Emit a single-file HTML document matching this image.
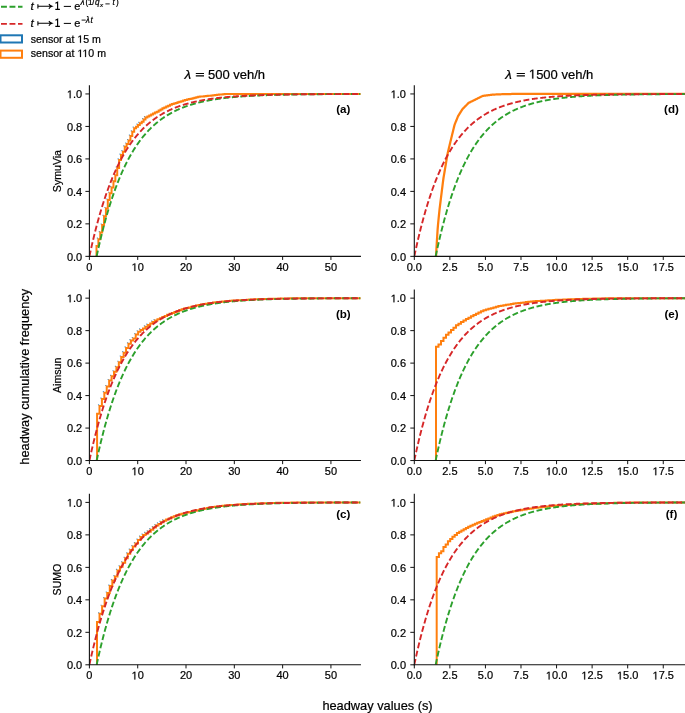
<!DOCTYPE html>
<html><head><meta charset="utf-8"><style>
html,body{margin:0;padding:0;background:#fff;width:685px;height:713px;overflow:hidden}
svg{will-change:transform}
.o{fill-opacity:0;stroke-opacity:0}
svg text{font-family:"Liberation Sans",sans-serif;fill:#000;stroke:#000;stroke-width:0.22px}
</style></head><body>
<svg width="685" height="713" viewBox="0 0 685 713" style="position:absolute;left:0;top:0">
<defs>
<clipPath id="c00"><rect x="89.4" y="83.83000000000001" width="271.2" height="172.52"/></clipPath>
<clipPath id="c01"><rect x="414.3" y="83.83000000000001" width="271.2" height="172.52"/></clipPath>
<clipPath id="c10"><rect x="89.4" y="288.03" width="271.2" height="172.52"/></clipPath>
<clipPath id="c11"><rect x="414.3" y="288.03" width="271.2" height="172.52"/></clipPath>
<clipPath id="c20"><rect x="89.4" y="492.28" width="271.2" height="172.52"/></clipPath>
<clipPath id="c21"><rect x="414.3" y="492.28" width="271.2" height="172.52"/></clipPath>
</defs>
<g clip-path="url(#c00)"><path d="M96.84 237.59h1.2v1.2h-1.2zM98.72 230.99h1.2v1.2h-1.2zM100.60 223.40h1.2v1.2h-1.2zM102.49 214.81h1.2v1.2h-1.2zM104.37 206.90h1.2v1.2h-1.2zM106.25 198.41h1.2v1.2h-1.2zM108.14 191.66h1.2v1.2h-1.2zM110.02 185.97h1.2v1.2h-1.2zM111.91 179.61h1.2v1.2h-1.2zM113.79 173.60h1.2v1.2h-1.2zM115.67 166.39h1.2v1.2h-1.2zM117.56 158.37h1.2v1.2h-1.2zM119.44 153.56h1.2v1.2h-1.2zM121.33 150.09h1.2v1.2h-1.2zM123.21 145.19h1.2v1.2h-1.2zM125.09 142.38h1.2v1.2h-1.2zM126.98 138.92h1.2v1.2h-1.2zM128.86 134.45h1.2v1.2h-1.2zM130.75 130.27h1.2v1.2h-1.2zM132.63 126.62h1.2v1.2h-1.2zM136.40 123.46h1.2v1.2h-1.2zM138.28 121.80h1.2v1.2h-1.2zM142.05 117.99h1.2v1.2h-1.2zM143.93 116.02h1.2v1.2h-1.2z" fill="#1f77b4" fill-opacity="0.75"/><polyline points="96.50,256.35 96.50,245.96 98.39,245.96 98.39,239.14 100.27,239.14 100.27,232.54 102.15,232.54 102.15,224.95 104.04,224.95 104.04,216.36 105.92,216.36 105.92,208.45 107.80,208.45 107.80,199.96 109.69,199.96 109.69,193.21 111.57,193.21 111.57,187.52 113.46,187.52 113.46,181.16 115.34,181.16 115.34,175.15 117.22,175.15 117.22,167.94 119.11,167.94 119.11,159.92 120.99,159.92 120.99,155.11 122.88,155.11 122.88,151.64 124.76,151.64 124.76,146.74 126.64,146.74 126.64,143.93 128.53,143.93 128.53,140.47 130.41,140.47 130.41,136.00 132.30,136.00 132.30,131.82 134.18,131.82 134.18,128.17 136.06,128.17 136.06,126.82 137.95,126.82 137.95,125.01 139.83,125.01 139.83,123.35 141.72,123.35 141.72,121.87 143.60,121.87 143.60,119.54 145.48,119.54 145.48,117.57 147.37,117.57 147.37,116.41 149.25,116.41 149.25,115.40 151.14,115.40 151.14,114.42 153.02,114.42 153.02,113.48 154.90,113.48 154.90,112.58 156.79,112.58 156.79,111.65 158.67,111.65 158.67,110.55 160.56,110.55 160.56,109.46 162.44,109.46 162.44,108.37 164.32,108.37 164.32,107.38 166.21,107.38 166.21,106.53 168.09,106.53 168.09,105.68 169.98,105.68 169.98,104.83 171.86,104.83 171.86,104.05 173.74,104.05 173.74,103.47 175.63,103.47 175.63,102.89 177.51,102.89 177.51,102.31 179.40,102.31 179.40,101.74 181.28,101.74 181.28,101.16 183.16,101.16 183.16,100.58 185.05,100.58 185.05,100.08 186.93,100.08 186.93,99.60 188.81,99.60 188.81,99.12 190.70,99.12 190.70,98.63 192.58,98.63 192.58,98.15 194.47,98.15 194.47,97.67 196.35,97.67 196.35,97.19 198.23,97.19 198.23,96.81 200.12,96.81 200.12,96.62 202.00,96.62 202.00,96.42 203.89,96.42 203.89,96.23 205.77,96.23 205.77,96.03 207.65,96.03 207.65,95.84 209.54,95.84 209.54,95.65 211.42,95.65 211.42,95.45 213.31,95.45 213.31,95.26 215.19,95.26 215.19,95.06 217.07,95.06 217.07,94.84 218.96,94.84 218.96,94.62 220.84,94.62 220.84,94.40 222.73,94.40 222.73,94.18 224.61,94.18 224.61,93.96 226.49,93.96 226.49,93.95 228.38,93.95 228.38,93.95 230.26,93.95 230.26,93.95 232.15,93.95 232.15,93.95 234.03,93.95 234.03,93.95 235.91,93.95 235.91,93.95 237.80,93.95 237.80,93.95 239.68,93.95 239.68,93.95 241.57,93.95 241.57,93.95 243.45,93.95 243.45,93.95 245.33,93.95 245.33,93.95 247.22,93.95 247.22,93.95 249.10,93.95 249.10,93.95 250.99,93.95 250.99,93.95 252.87,93.95 252.87,93.95 254.75,93.95 254.75,93.95 256.64,93.95 256.64,93.95 258.52,93.95 258.52,93.95 260.41,93.95 260.41,93.95 262.29,93.95 262.29,93.95 264.17,93.95 264.17,93.95 266.06,93.95 266.06,93.95 267.94,93.95 267.94,93.95 269.83,93.95 269.83,93.95 271.71,93.95 271.71,93.95 273.59,93.95 273.59,93.95 275.48,93.95 275.48,93.95 277.36,93.95 277.36,93.95 279.24,93.95 279.24,93.95 281.13,93.95 281.13,93.95 283.01,93.95 283.01,93.95 284.90,93.95 284.90,93.95 286.78,93.95 286.78,93.95 288.66,93.95 288.66,93.95 290.55,93.95 290.55,93.95 292.43,93.95 292.43,93.95 294.32,93.95 294.32,93.95 296.20,93.95 296.20,93.95 298.08,93.95 298.08,93.95 299.97,93.95 299.97,93.95 301.85,93.95 301.85,93.95 303.74,93.95 303.74,93.95 305.62,93.95 305.62,93.95 307.50,93.95 307.50,93.95 309.39,93.95 309.39,93.95 311.27,93.95 311.27,93.95 313.16,93.95 313.16,93.95 315.04,93.95 315.04,93.95 316.92,93.95 316.92,93.95 318.81,93.95 318.81,93.95 320.69,93.95 320.69,93.95 322.58,93.95 322.58,93.95 324.46,93.95 324.46,93.95 326.34,93.95 326.34,93.95 328.23,93.95 328.23,93.95 330.11,93.95 330.11,93.95 332.00,93.95 332.00,93.95 333.88,93.95 333.88,93.95 335.76,93.95 335.76,93.95 337.65,93.95 337.65,93.95 339.53,93.95 339.53,93.95 341.42,93.95 341.42,93.95 343.30,93.95 343.30,93.95 345.18,93.95 345.18,93.95 347.07,93.95 347.07,93.95 348.95,93.95 348.95,93.95 350.84,93.95 350.84,93.95 352.72,93.95 352.72,93.95 354.60,93.95 354.60,93.95 356.49,93.95 356.49,93.95 358.37,93.95 358.37,93.95 360.26,93.95 360.26,93.95 362.14,93.95" fill="none" stroke="#ff7f0e" stroke-width="2.0" stroke-linejoin="miter"/><polyline points="96.65,256.35 97.09,254.31 97.53,252.29 97.97,250.30 98.41,248.33 98.85,246.39 99.29,244.47 99.73,242.58 100.17,240.71 100.61,238.86 101.05,237.04 101.49,235.24 101.93,233.46 102.37,231.71 102.81,229.97 103.25,228.26 103.69,226.57 104.13,224.90 104.57,223.26 105.01,221.63 105.45,220.02 105.89,218.44 106.33,216.87 106.77,215.32 107.21,213.80 107.65,212.29 108.09,210.80 108.53,209.33 108.98,207.88 109.42,206.45 109.86,205.03 110.30,203.63 110.74,202.25 111.18,200.89 111.62,199.55 112.06,198.22 112.50,196.91 112.94,195.61 113.38,194.33 113.82,193.07 114.26,191.82 114.70,190.59 115.14,189.38 115.58,188.17 116.02,186.99 116.46,185.82 116.90,184.66 117.34,183.52 117.78,182.40 118.22,181.28 118.66,180.18 119.10,179.10 119.54,178.03 119.98,176.97 120.42,175.93 120.86,174.89 121.30,173.88 121.74,172.87 122.18,171.88 122.63,170.90 123.07,169.93 123.51,168.97 123.95,168.03 124.39,167.10 124.83,166.18 125.27,165.27 125.71,164.37 126.15,163.49 126.59,162.61 127.03,161.75 127.47,160.89 127.91,160.05 128.35,159.22 128.79,158.40 129.23,157.59 129.67,156.79 130.11,156.00 130.55,155.22 130.99,154.45 131.43,153.69 131.87,152.93 132.31,152.19 132.75,151.46 133.19,150.74 133.63,150.02 134.07,149.32 134.51,148.62 134.95,147.93 135.39,147.25 135.83,146.58 136.28,145.92 136.72,145.27 137.16,144.62 137.60,143.98 138.04,143.35 138.48,142.73 138.92,142.12 139.36,141.51 139.80,140.91 140.24,140.32 140.68,139.74 141.12,139.16 141.56,138.60 142.00,138.03 142.44,137.48 142.88,136.93 143.32,136.39 143.76,135.86 144.20,135.33 144.64,134.81 145.08,134.29 145.52,133.79 145.96,133.29 146.40,132.79 146.84,132.30 147.28,131.82 147.72,131.34 148.16,130.87 148.60,130.41 149.04,129.95 149.48,129.50 149.93,129.05 150.37,128.61 150.81,128.17 151.25,127.74 151.69,127.32 152.13,126.90 152.57,126.48 153.01,126.07 153.45,125.67 153.89,125.27 154.33,124.88 154.77,124.49 155.21,124.10 155.65,123.72 156.09,123.35 156.53,122.98 156.97,122.61 157.41,122.25 157.85,121.90 158.29,121.55 158.73,121.20 159.17,120.86 159.61,120.52 160.05,120.18 160.49,119.85 160.93,119.53 161.37,119.21 161.81,118.89 162.25,118.57 162.69,118.26 163.13,117.96 163.58,117.66 164.02,117.36 164.46,117.06 164.90,116.77 165.34,116.49 165.78,116.20 166.22,115.92 166.66,115.65 167.10,115.37 167.54,115.10 167.98,114.84 168.42,114.57 168.86,114.32 169.30,114.06 169.74,113.81 170.18,113.56 170.62,113.31 171.06,113.07 171.50,112.83 171.94,112.59 172.38,112.35 172.82,112.12 173.26,111.89 173.70,111.67 174.14,111.44 174.58,111.22 175.02,111.01 175.46,110.79 175.90,110.58 176.34,110.37 176.78,110.17 177.23,109.96 177.67,109.76 178.11,109.56 178.55,109.36 178.99,109.17 179.43,108.98 179.87,108.79 180.31,108.60 180.75,108.42 181.19,108.24 181.63,108.06 182.07,107.88 182.51,107.70 182.95,107.53 183.39,107.36 183.83,107.19 184.27,107.03 184.71,106.86 185.15,106.70 185.59,106.54 186.03,106.38 186.47,106.22 186.91,106.07 187.35,105.92 187.79,105.77 188.23,105.62 188.67,105.47 189.11,105.33 189.55,105.18 189.99,105.04 190.43,104.90 190.88,104.76 191.32,104.63 191.76,104.49 192.20,104.36 192.64,104.23 193.08,104.10 193.52,103.97 193.96,103.85 194.40,103.72 194.84,103.60 195.28,103.48 195.72,103.36 196.16,103.24 196.60,103.12 197.04,103.01 197.48,102.89 197.92,102.78 198.36,102.67 198.80,102.56 199.24,102.45 199.68,102.34 200.12,102.24 200.56,102.14 201.00,102.03 201.44,101.93 201.88,101.83 202.32,101.73 202.76,101.63 203.20,101.54 203.64,101.44 204.09,101.35 204.53,101.25 204.97,101.16 205.41,101.07 205.85,100.98 206.29,100.89 206.73,100.81 207.17,100.72 207.61,100.63 208.05,100.55 208.49,100.47 208.93,100.39 209.37,100.30 209.81,100.22 210.25,100.15 210.69,100.07 211.13,99.99 211.57,99.91 212.01,99.84 212.45,99.77 212.89,99.69 213.33,99.62 213.77,99.55 214.21,99.48 214.65,99.41 215.09,99.34 215.53,99.27 215.97,99.21 216.41,99.14 216.85,99.07 217.29,99.01 217.74,98.95 218.18,98.88 218.62,98.82 219.06,98.76 219.50,98.70 219.94,98.64 220.38,98.58 220.82,98.52 221.26,98.46 221.70,98.41 222.14,98.35 222.58,98.30 223.02,98.24 223.46,98.19 223.90,98.13 224.34,98.08 224.78,98.03 225.22,97.98 225.66,97.93 226.10,97.88 226.54,97.83 226.98,97.78 227.42,97.73 227.86,97.68 228.30,97.64 228.74,97.59 229.18,97.54 229.62,97.50 230.06,97.45 230.50,97.41 230.94,97.37 231.39,97.32 231.83,97.28 232.27,97.24 232.71,97.20 233.15,97.16 233.59,97.12 234.03,97.08 234.47,97.04 234.91,97.00 235.35,96.96 235.79,96.92 236.23,96.89 236.67,96.85 237.11,96.81 237.55,96.78 237.99,96.74 238.43,96.71 238.87,96.67 239.31,96.64 239.75,96.60 240.19,96.57 240.63,96.54 241.07,96.50 241.51,96.47 241.95,96.44 242.39,96.41 242.83,96.38 243.27,96.35 243.71,96.32 244.15,96.29 244.59,96.26 245.04,96.23 245.48,96.20 245.92,96.17 246.36,96.14 246.80,96.12 247.24,96.09 247.68,96.06 248.12,96.04 248.56,96.01 249.00,95.98 249.44,95.96 249.88,95.93 250.32,95.91 250.76,95.88 251.20,95.86 251.64,95.83 252.08,95.81 252.52,95.79 252.96,95.76 253.40,95.74 253.84,95.72 254.28,95.70 254.72,95.67 255.16,95.65 255.60,95.63 256.04,95.61 256.48,95.59 256.92,95.57 257.36,95.55 257.80,95.53 258.24,95.51 258.69,95.49 259.13,95.47 259.57,95.45 260.01,95.43 260.45,95.41 260.89,95.39 261.33,95.38 261.77,95.36 262.21,95.34 262.65,95.32 263.09,95.31 263.53,95.29 263.97,95.27 264.41,95.26 264.85,95.24 265.29,95.22 265.73,95.21 266.17,95.19 266.61,95.18 267.05,95.16 267.49,95.14 267.93,95.13 268.37,95.11 268.81,95.10 269.25,95.09 269.69,95.07 270.13,95.06 270.57,95.04 271.01,95.03 271.45,95.02 271.89,95.00 272.34,94.99 272.78,94.98 273.22,94.96 273.66,94.95 274.10,94.94 274.54,94.93 274.98,94.91 275.42,94.90 275.86,94.89 276.30,94.88 276.74,94.87 277.18,94.85 277.62,94.84 278.06,94.83 278.50,94.82 278.94,94.81 279.38,94.80 279.82,94.79 280.26,94.78 280.70,94.77 281.14,94.76 281.58,94.75 282.02,94.74 282.46,94.73 282.90,94.72 283.34,94.71 283.78,94.70 284.22,94.69 284.66,94.68 285.10,94.67 285.54,94.66 285.99,94.65 286.43,94.64 286.87,94.63 287.31,94.63 287.75,94.62 288.19,94.61 288.63,94.60 289.07,94.59 289.51,94.58 289.95,94.58 290.39,94.57 290.83,94.56 291.27,94.55 291.71,94.55 292.15,94.54 292.59,94.53 293.03,94.52 293.47,94.52 293.91,94.51 294.35,94.50 294.79,94.50 295.23,94.49 295.67,94.48 296.11,94.47 296.55,94.47 296.99,94.46 297.43,94.46 297.87,94.45 298.31,94.44 298.75,94.44 299.19,94.43 299.64,94.42 300.08,94.42 300.52,94.41 300.96,94.41 301.40,94.40 301.84,94.40 302.28,94.39 302.72,94.38 303.16,94.38 303.60,94.37 304.04,94.37 304.48,94.36 304.92,94.36 305.36,94.35 305.80,94.35 306.24,94.34 306.68,94.34 307.12,94.33 307.56,94.33 308.00,94.32 308.44,94.32 308.88,94.31 309.32,94.31 309.76,94.30 310.20,94.30 310.64,94.30 311.08,94.29 311.52,94.29 311.96,94.28 312.40,94.28 312.85,94.27 313.29,94.27 313.73,94.27 314.17,94.26 314.61,94.26 315.05,94.25 315.49,94.25 315.93,94.25 316.37,94.24 316.81,94.24 317.25,94.24 317.69,94.23 318.13,94.23 318.57,94.23 319.01,94.22 319.45,94.22 319.89,94.21 320.33,94.21 320.77,94.21 321.21,94.20 321.65,94.20 322.09,94.20 322.53,94.20 322.97,94.19 323.41,94.19 323.85,94.19 324.29,94.18 324.73,94.18 325.17,94.18 325.61,94.17 326.05,94.17 326.50,94.17 326.94,94.17 327.38,94.16 327.82,94.16 328.26,94.16 328.70,94.16 329.14,94.15 329.58,94.15 330.02,94.15 330.46,94.15 330.90,94.14 331.34,94.14 331.78,94.14 332.22,94.14 332.66,94.13 333.10,94.13 333.54,94.13 333.98,94.13 334.42,94.12 334.86,94.12 335.30,94.12 335.74,94.12 336.18,94.12 336.62,94.11 337.06,94.11 337.50,94.11 337.94,94.11 338.38,94.11 338.82,94.10 339.26,94.10 339.70,94.10 340.15,94.10 340.59,94.10 341.03,94.09 341.47,94.09 341.91,94.09 342.35,94.09 342.79,94.09 343.23,94.09 343.67,94.08 344.11,94.08 344.55,94.08 344.99,94.08 345.43,94.08 345.87,94.08 346.31,94.07 346.75,94.07 347.19,94.07 347.63,94.07 348.07,94.07 348.51,94.07 348.95,94.06 349.39,94.06 349.83,94.06 350.27,94.06 350.71,94.06 351.15,94.06 351.59,94.06 352.03,94.06 352.47,94.05 352.91,94.05 353.35,94.05 353.80,94.05 354.24,94.05 354.68,94.05 355.12,94.05 355.56,94.04 356.00,94.04 356.44,94.04 356.88,94.04 357.32,94.04 357.76,94.04 358.20,94.04 358.64,94.04 359.08,94.04 359.52,94.03 359.96,94.03 360.40,94.03" fill="none" stroke="#2ca02c" stroke-width="1.9" stroke-dasharray="5.9,2.6"/><polyline points="89.40,256.35 89.85,254.25 90.30,252.18 90.76,250.13 91.21,248.12 91.66,246.12 92.11,244.16 92.57,242.22 93.02,240.30 93.47,238.41 93.92,236.54 94.38,234.70 94.83,232.88 95.28,231.08 95.73,229.31 96.19,227.56 96.64,225.84 97.09,224.13 97.54,222.45 98.00,220.79 98.45,219.15 98.90,217.53 99.35,215.93 99.81,214.36 100.26,212.80 100.71,211.27 101.16,209.75 101.62,208.25 102.07,206.78 102.52,205.32 102.97,203.88 103.43,202.46 103.88,201.06 104.33,199.67 104.78,198.30 105.23,196.96 105.69,195.63 106.14,194.31 106.59,193.01 107.04,191.73 107.50,190.47 107.95,189.22 108.40,187.99 108.85,186.78 109.31,185.58 109.76,184.39 110.21,183.22 110.66,182.07 111.12,180.93 111.57,179.81 112.02,178.70 112.47,177.60 112.93,176.52 113.38,175.45 113.83,174.40 114.28,173.36 114.74,172.33 115.19,171.32 115.64,170.32 116.09,169.33 116.55,168.36 117.00,167.40 117.45,166.45 117.90,165.51 118.35,164.59 118.81,163.67 119.26,162.77 119.71,161.88 120.16,161.01 120.62,160.14 121.07,159.28 121.52,158.44 121.97,157.61 122.43,156.78 122.88,155.97 123.33,155.17 123.78,154.38 124.24,153.60 124.69,152.83 125.14,152.07 125.59,151.32 126.05,150.57 126.50,149.84 126.95,149.12 127.40,148.41 127.86,147.70 128.31,147.01 128.76,146.32 129.21,145.65 129.67,144.98 130.12,144.32 130.57,143.67 131.02,143.02 131.48,142.39 131.93,141.76 132.38,141.15 132.83,140.54 133.28,139.93 133.74,139.34 134.19,138.75 134.64,138.17 135.09,137.60 135.55,137.04 136.00,136.48 136.45,135.93 136.90,135.39 137.36,134.85 137.81,134.33 138.26,133.80 138.71,133.29 139.17,132.78 139.62,132.28 140.07,131.78 140.52,131.29 140.98,130.81 141.43,130.34 141.88,129.87 142.33,129.40 142.79,128.94 143.24,128.49 143.69,128.04 144.14,127.60 144.60,127.17 145.05,126.74 145.50,126.32 145.95,125.90 146.41,125.48 146.86,125.08 147.31,124.67 147.76,124.28 148.21,123.89 148.67,123.50 149.12,123.12 149.57,122.74 150.02,122.37 150.48,122.00 150.93,121.64 151.38,121.28 151.83,120.93 152.29,120.58 152.74,120.23 153.19,119.89 153.64,119.56 154.10,119.23 154.55,118.90 155.00,118.58 155.45,118.26 155.91,117.95 156.36,117.64 156.81,117.33 157.26,117.03 157.72,116.73 158.17,116.44 158.62,116.15 159.07,115.86 159.53,115.58 159.98,115.30 160.43,115.02 160.88,114.75 161.33,114.48 161.79,114.21 162.24,113.95 162.69,113.69 163.14,113.44 163.60,113.19 164.05,112.94 164.50,112.69 164.95,112.45 165.41,112.21 165.86,111.97 166.31,111.74 166.76,111.51 167.22,111.28 167.67,111.06 168.12,110.84 168.57,110.62 169.03,110.41 169.48,110.19 169.93,109.98 170.38,109.78 170.84,109.57 171.29,109.37 171.74,109.17 172.19,108.97 172.65,108.78 173.10,108.59 173.55,108.40 174.00,108.21 174.46,108.03 174.91,107.85 175.36,107.67 175.81,107.49 176.26,107.31 176.72,107.14 177.17,106.97 177.62,106.80 178.07,106.64 178.53,106.47 178.98,106.31 179.43,106.15 179.88,105.99 180.34,105.84 180.79,105.68 181.24,105.53 181.69,105.38 182.15,105.23 182.60,105.09 183.05,104.95 183.50,104.80 183.96,104.66 184.41,104.52 184.86,104.39 185.31,104.25 185.77,104.12 186.22,103.99 186.67,103.86 187.12,103.73 187.58,103.60 188.03,103.48 188.48,103.36 188.93,103.23 189.38,103.11 189.84,103.00 190.29,102.88 190.74,102.76 191.19,102.65 191.65,102.54 192.10,102.43 192.55,102.32 193.00,102.21 193.46,102.10 193.91,102.00 194.36,101.89 194.81,101.79 195.27,101.69 195.72,101.59 196.17,101.49 196.62,101.39 197.08,101.30 197.53,101.20 197.98,101.11 198.43,101.02 198.89,100.92 199.34,100.83 199.79,100.74 200.24,100.66 200.70,100.57 201.15,100.48 201.60,100.40 202.05,100.32 202.51,100.23 202.96,100.15 203.41,100.07 203.86,99.99 204.31,99.92 204.77,99.84 205.22,99.76 205.67,99.69 206.12,99.61 206.58,99.54 207.03,99.47 207.48,99.40 207.93,99.33 208.39,99.26 208.84,99.19 209.29,99.12 209.74,99.05 210.20,98.99 210.65,98.92 211.10,98.86 211.55,98.80 212.01,98.73 212.46,98.67 212.91,98.61 213.36,98.55 213.82,98.49 214.27,98.43 214.72,98.37 215.17,98.32 215.63,98.26 216.08,98.20 216.53,98.15 216.98,98.09 217.44,98.04 217.89,97.99 218.34,97.94 218.79,97.88 219.24,97.83 219.70,97.78 220.15,97.73 220.60,97.69 221.05,97.64 221.51,97.59 221.96,97.54 222.41,97.50 222.86,97.45 223.32,97.40 223.77,97.36 224.22,97.32 224.67,97.27 225.13,97.23 225.58,97.19 226.03,97.15 226.48,97.10 226.94,97.06 227.39,97.02 227.84,96.98 228.29,96.94 228.75,96.91 229.20,96.87 229.65,96.83 230.10,96.79 230.56,96.76 231.01,96.72 231.46,96.68 231.91,96.65 232.36,96.61 232.82,96.58 233.27,96.54 233.72,96.51 234.17,96.48 234.63,96.45 235.08,96.41 235.53,96.38 235.98,96.35 236.44,96.32 236.89,96.29 237.34,96.26 237.79,96.23 238.25,96.20 238.70,96.17 239.15,96.14 239.60,96.11 240.06,96.09 240.51,96.06 240.96,96.03 241.41,96.00 241.87,95.98 242.32,95.95 242.77,95.92 243.22,95.90 243.68,95.87 244.13,95.85 244.58,95.82 245.03,95.80 245.49,95.78 245.94,95.75 246.39,95.73 246.84,95.71 247.29,95.68 247.75,95.66 248.20,95.64 248.65,95.62 249.10,95.60 249.56,95.57 250.01,95.55 250.46,95.53 250.91,95.51 251.37,95.49 251.82,95.47 252.27,95.45 252.72,95.43 253.18,95.41 253.63,95.40 254.08,95.38 254.53,95.36 254.99,95.34 255.44,95.32 255.89,95.30 256.34,95.29 256.80,95.27 257.25,95.25 257.70,95.24 258.15,95.22 258.61,95.20 259.06,95.19 259.51,95.17 259.96,95.15 260.42,95.14 260.87,95.12 261.32,95.11 261.77,95.09 262.22,95.08 262.68,95.06 263.13,95.05 263.58,95.04 264.03,95.02 264.49,95.01 264.94,94.99 265.39,94.98 265.84,94.97 266.30,94.95 266.75,94.94 267.20,94.93 267.65,94.92 268.11,94.90 268.56,94.89 269.01,94.88 269.46,94.87 269.92,94.85 270.37,94.84 270.82,94.83 271.27,94.82 271.73,94.81 272.18,94.80 272.63,94.79 273.08,94.78 273.54,94.77 273.99,94.75 274.44,94.74 274.89,94.73 275.34,94.72 275.80,94.71 276.25,94.70 276.70,94.69 277.15,94.68 277.61,94.68 278.06,94.67 278.51,94.66 278.96,94.65 279.42,94.64 279.87,94.63 280.32,94.62 280.77,94.61 281.23,94.60 281.68,94.60 282.13,94.59 282.58,94.58 283.04,94.57 283.49,94.56 283.94,94.55 284.39,94.55 284.85,94.54 285.30,94.53 285.75,94.52 286.20,94.52 286.66,94.51 287.11,94.50 287.56,94.49 288.01,94.49 288.47,94.48 288.92,94.47 289.37,94.47 289.82,94.46 290.27,94.45 290.73,94.45 291.18,94.44 291.63,94.43 292.08,94.43 292.54,94.42 292.99,94.42 293.44,94.41 293.89,94.40 294.35,94.40 294.80,94.39 295.25,94.39 295.70,94.38 296.16,94.38 296.61,94.37 297.06,94.36 297.51,94.36 297.97,94.35 298.42,94.35 298.87,94.34 299.32,94.34 299.78,94.33 300.23,94.33 300.68,94.32 301.13,94.32 301.59,94.31 302.04,94.31 302.49,94.30 302.94,94.30 303.39,94.30 303.85,94.29 304.30,94.29 304.75,94.28 305.20,94.28 305.66,94.27 306.11,94.27 306.56,94.27 307.01,94.26 307.47,94.26 307.92,94.25 308.37,94.25 308.82,94.25 309.28,94.24 309.73,94.24 310.18,94.23 310.63,94.23 311.09,94.23 311.54,94.22 311.99,94.22 312.44,94.22 312.90,94.21 313.35,94.21 313.80,94.21 314.25,94.20 314.71,94.20 315.16,94.20 315.61,94.19 316.06,94.19 316.52,94.19 316.97,94.18 317.42,94.18 317.87,94.18 318.32,94.17 318.78,94.17 319.23,94.17 319.68,94.17 320.13,94.16 320.59,94.16 321.04,94.16 321.49,94.16 321.94,94.15 322.40,94.15 322.85,94.15 323.30,94.14 323.75,94.14 324.21,94.14 324.66,94.14 325.11,94.14 325.56,94.13 326.02,94.13 326.47,94.13 326.92,94.13 327.37,94.12 327.83,94.12 328.28,94.12 328.73,94.12 329.18,94.11 329.64,94.11 330.09,94.11 330.54,94.11 330.99,94.11 331.45,94.10 331.90,94.10 332.35,94.10 332.80,94.10 333.25,94.10 333.71,94.09 334.16,94.09 334.61,94.09 335.06,94.09 335.52,94.09 335.97,94.09 336.42,94.08 336.87,94.08 337.33,94.08 337.78,94.08 338.23,94.08 338.68,94.08 339.14,94.07 339.59,94.07 340.04,94.07 340.49,94.07 340.95,94.07 341.40,94.07 341.85,94.06 342.30,94.06 342.76,94.06 343.21,94.06 343.66,94.06 344.11,94.06 344.57,94.06 345.02,94.05 345.47,94.05 345.92,94.05 346.37,94.05 346.83,94.05 347.28,94.05 347.73,94.05 348.18,94.05 348.64,94.04 349.09,94.04 349.54,94.04 349.99,94.04 350.45,94.04 350.90,94.04 351.35,94.04 351.80,94.04 352.26,94.03 352.71,94.03 353.16,94.03 353.61,94.03 354.07,94.03 354.52,94.03 354.97,94.03 355.42,94.03 355.88,94.03 356.33,94.03 356.78,94.02 357.23,94.02 357.69,94.02 358.14,94.02 358.59,94.02 359.04,94.02 359.50,94.02 359.95,94.02 360.40,94.02" fill="none" stroke="#d62728" stroke-width="1.9" stroke-dasharray="5.9,2.6"/></g>
<line x1="89.4" y1="85.83000000000001" x2="89.4" y2="256.35" stroke="#111" stroke-width="1.1" stroke-linecap="square"/>
<line x1="89.4" y1="256.35" x2="360.4" y2="256.35" stroke="#111" stroke-width="1.1" stroke-linecap="square"/>
<line x1="85.4" y1="256.35" x2="89.4" y2="256.35" stroke="#111" stroke-width="1.0"/>
<text x="82.2" y="260.55" text-anchor="end" font-size="11.0">0.0</text>
<line x1="85.4" y1="223.87" x2="89.4" y2="223.87" stroke="#111" stroke-width="1.0"/>
<text x="82.2" y="228.07" text-anchor="end" font-size="11.0">0.2</text>
<line x1="85.4" y1="191.39000000000001" x2="89.4" y2="191.39000000000001" stroke="#111" stroke-width="1.0"/>
<text x="82.2" y="195.59" text-anchor="end" font-size="11.0">0.4</text>
<line x1="85.4" y1="158.91000000000003" x2="89.4" y2="158.91000000000003" stroke="#111" stroke-width="1.0"/>
<text x="82.2" y="163.11" text-anchor="end" font-size="11.0">0.6</text>
<line x1="85.4" y1="126.43" x2="89.4" y2="126.43" stroke="#111" stroke-width="1.0"/>
<text x="82.2" y="130.63" text-anchor="end" font-size="11.0">0.8</text>
<line x1="85.4" y1="93.95000000000002" x2="89.4" y2="93.95000000000002" stroke="#111" stroke-width="1.0"/>
<text x="82.2" y="98.15000000000002" text-anchor="end" font-size="11.0"><tspan class="o">1</tspan>.0</text>
<line x1="89.4" y1="256.35" x2="89.4" y2="259.95000000000005" stroke="#111" stroke-width="1.0"/>
<text x="89.4" y="270.95000000000005" text-anchor="middle" font-size="11.0">0</text>
<line x1="137.7065953654189" y1="256.35" x2="137.7065953654189" y2="259.95000000000005" stroke="#111" stroke-width="1.0"/>
<text x="137.7065953654189" y="270.95000000000005" text-anchor="middle" font-size="11.0"><tspan class="o">1</tspan>0</text>
<line x1="186.01319073083778" y1="256.35" x2="186.01319073083778" y2="259.95000000000005" stroke="#111" stroke-width="1.0"/>
<text x="186.01319073083778" y="270.95000000000005" text-anchor="middle" font-size="11.0">20</text>
<line x1="234.31978609625668" y1="256.35" x2="234.31978609625668" y2="259.95000000000005" stroke="#111" stroke-width="1.0"/>
<text x="234.31978609625668" y="270.95000000000005" text-anchor="middle" font-size="11.0">30</text>
<line x1="282.6263814616756" y1="256.35" x2="282.6263814616756" y2="259.95000000000005" stroke="#111" stroke-width="1.0"/>
<text x="282.6263814616756" y="270.95000000000005" text-anchor="middle" font-size="11.0">40</text>
<line x1="330.9329768270945" y1="256.35" x2="330.9329768270945" y2="259.95000000000005" stroke="#111" stroke-width="1.0"/>
<text x="330.9329768270945" y="270.95000000000005" text-anchor="middle" font-size="11.0">50</text>
<text x="343.3" y="113.2" text-anchor="middle" font-size="11.6" font-weight="bold" style="stroke-width:0">(a)</text>
<g clip-path="url(#c01)"><polyline points="436.07,256.35 436.46,248.27 436.85,241.54 437.24,235.52 437.63,229.42 438.02,224.60 438.41,220.65 438.80,216.72 439.19,212.95 439.58,209.19 439.98,205.89 440.37,202.74 440.76,199.59 441.15,196.46 441.54,193.32 441.93,190.19 442.32,187.05 442.71,183.92 443.10,180.78 443.49,178.01 443.89,175.67 444.28,173.33 444.67,171.00 445.06,168.66 445.45,166.32 445.84,163.99 446.23,161.65 446.62,159.32 447.01,156.98 447.41,154.64 447.80,152.69 448.19,151.06 448.58,149.43 448.97,147.81 449.36,146.18 449.75,144.55 450.14,142.93 450.53,141.30 450.92,139.68 451.32,138.05 451.71,136.44 452.10,134.84 452.49,133.25 452.88,131.65 453.27,130.06 453.66,128.46 454.05,126.87 454.44,125.28 454.83,124.13 455.23,123.16 455.62,122.20 456.01,121.23 456.40,120.27 456.79,119.30 457.18,118.34 457.57,117.38 457.96,116.41 458.35,115.66 458.75,115.04 459.14,114.42 459.53,113.80 459.92,113.18 460.31,112.56 460.70,111.94 461.09,111.32 461.48,110.70 461.87,110.09 462.26,109.47 462.66,108.92 463.05,108.53 463.44,108.13 463.83,107.74 464.22,107.34 464.61,106.95 465.00,106.56 465.39,106.16 465.78,105.77 466.17,105.37 466.57,104.98 466.96,104.58 467.35,104.19 467.74,103.79 468.13,103.40 468.52,103.00 468.91,102.75 469.30,102.56 469.69,102.37 470.08,102.18 470.48,101.98 470.87,101.79 471.26,101.60 471.65,101.41 472.04,101.22 472.43,101.03 472.82,100.84 473.21,100.65 473.60,100.45 474.00,100.26 474.39,100.07 474.78,99.88 475.17,99.69 475.56,99.50 475.95,99.30 476.34,99.11 476.73,98.91 477.12,98.71 477.51,98.52 477.91,98.32 478.30,98.12 478.69,97.93 479.08,97.73 479.47,97.53 479.86,97.34 480.25,97.14 480.64,96.95 481.03,96.75 481.42,96.55 481.82,96.36 482.21,96.16 482.60,95.96 482.99,95.87 483.38,95.82 483.77,95.77 484.16,95.72 484.55,95.67 484.94,95.62 485.33,95.57 485.73,95.52 486.12,95.47 486.51,95.43 486.90,95.38 487.29,95.33 487.68,95.28 488.07,95.23 488.46,95.18 488.85,95.13 489.25,95.08 489.64,95.03 490.03,94.99 490.42,94.94 490.81,94.89 491.20,94.84 491.59,94.79 491.98,94.74 492.37,94.69 492.76,94.64 493.16,94.60 493.55,94.58 493.94,94.56 494.33,94.55 494.72,94.53 495.11,94.51 495.50,94.50 495.89,94.48 496.28,94.46 496.67,94.45 497.07,94.43 497.46,94.41 497.85,94.40 498.24,94.38 498.63,94.36 499.02,94.35 499.41,94.33 499.80,94.31 500.19,94.30 500.59,94.28 500.98,94.26 501.37,94.25 501.76,94.23 502.15,94.21 502.54,94.20 502.93,94.18 503.32,94.16 503.71,94.15 504.10,94.13 504.50,94.11 504.89,94.11 505.28,94.10 505.67,94.09 506.06,94.09 506.45,94.08 506.84,94.07 507.23,94.06 507.62,94.06 508.01,94.05 508.41,94.04 508.80,94.04 509.19,94.03 509.58,94.02 509.97,94.02 510.36,94.01 510.75,94.00 511.14,94.00 511.53,93.99 511.92,93.98 512.32,93.98 512.71,93.97 513.10,93.96 513.49,93.96 513.88,93.95 699.53,93.95" fill="none" stroke="#ff7f0e" stroke-width="2.25" stroke-linejoin="miter"/><polyline points="435.64,256.35 436.06,254.38 436.47,252.43 436.89,250.51 437.31,248.61 437.72,246.73 438.14,244.88 438.56,243.05 438.97,241.24 439.39,239.45 439.81,237.69 440.22,235.94 440.64,234.22 441.06,232.52 441.47,230.84 441.89,229.18 442.31,227.53 442.72,225.91 443.14,224.31 443.56,222.73 443.97,221.17 444.39,219.62 444.81,218.10 445.22,216.59 445.64,215.11 446.06,213.64 446.48,212.18 446.89,210.75 447.31,209.33 447.73,207.93 448.14,206.55 448.56,205.18 448.98,203.83 449.39,202.50 449.81,201.18 450.23,199.88 450.64,198.60 451.06,197.33 451.48,196.07 451.89,194.83 452.31,193.61 452.73,192.40 453.14,191.20 453.56,190.02 453.98,188.86 454.39,187.71 454.81,186.57 455.23,185.45 455.64,184.34 456.06,183.24 456.48,182.16 456.90,181.09 457.31,180.03 457.73,178.98 458.15,177.95 458.56,176.93 458.98,175.93 459.40,174.93 459.81,173.95 460.23,172.98 460.65,172.02 461.06,171.07 461.48,170.14 461.90,169.21 462.31,168.30 462.73,167.40 463.15,166.50 463.56,165.62 463.98,164.75 464.40,163.90 464.81,163.05 465.23,162.21 465.65,161.38 466.06,160.56 466.48,159.75 466.90,158.96 467.32,158.17 467.73,157.39 468.15,156.62 468.57,155.86 468.98,155.11 469.40,154.36 469.82,153.63 470.23,152.91 470.65,152.19 471.07,151.49 471.48,150.79 471.90,150.10 472.32,149.42 472.73,148.74 473.15,148.08 473.57,147.42 473.98,146.77 474.40,146.13 474.82,145.50 475.23,144.87 475.65,144.26 476.07,143.64 476.48,143.04 476.90,142.45 477.32,141.86 477.74,141.28 478.15,140.70 478.57,140.13 478.99,139.57 479.40,139.02 479.82,138.47 480.24,137.93 480.65,137.40 481.07,136.87 481.49,136.35 481.90,135.84 482.32,135.33 482.74,134.83 483.15,134.33 483.57,133.84 483.99,133.36 484.40,132.88 484.82,132.41 485.24,131.94 485.65,131.48 486.07,131.02 486.49,130.57 486.90,130.13 487.32,129.69 487.74,129.26 488.16,128.83 488.57,128.41 488.99,127.99 489.41,127.57 489.82,127.17 490.24,126.76 490.66,126.37 491.07,125.97 491.49,125.58 491.91,125.20 492.32,124.82 492.74,124.45 493.16,124.08 493.57,123.71 493.99,123.35 494.41,122.99 494.82,122.64 495.24,122.29 495.66,121.95 496.07,121.61 496.49,121.27 496.91,120.94 497.32,120.61 497.74,120.29 498.16,119.97 498.57,119.65 498.99,119.34 499.41,119.03 499.83,118.73 500.24,118.43 500.66,118.13 501.08,117.84 501.49,117.55 501.91,117.26 502.33,116.98 502.74,116.70 503.16,116.42 503.58,116.15 503.99,115.88 504.41,115.62 504.83,115.35 505.24,115.09 505.66,114.84 506.08,114.58 506.49,114.33 506.91,114.09 507.33,113.84 507.74,113.60 508.16,113.36 508.58,113.13 508.99,112.89 509.41,112.66 509.83,112.44 510.25,112.21 510.66,111.99 511.08,111.77 511.50,111.56 511.91,111.34 512.33,111.13 512.75,110.92 513.16,110.72 513.58,110.51 514.00,110.31 514.41,110.11 514.83,109.92 515.25,109.72 515.66,109.53 516.08,109.34 516.50,109.16 516.91,108.97 517.33,108.79 517.75,108.61 518.16,108.43 518.58,108.26 519.00,108.08 519.41,107.91 519.83,107.74 520.25,107.57 520.67,107.41 521.08,107.25 521.50,107.08 521.92,106.93 522.33,106.77 522.75,106.61 523.17,106.46 523.58,106.31 524.00,106.16 524.42,106.01 524.83,105.86 525.25,105.72 525.67,105.58 526.08,105.43 526.50,105.29 526.92,105.16 527.33,105.02 527.75,104.89 528.17,104.75 528.58,104.62 529.00,104.49 529.42,104.37 529.83,104.24 530.25,104.11 530.67,103.99 531.09,103.87 531.50,103.75 531.92,103.63 532.34,103.51 532.75,103.40 533.17,103.28 533.59,103.17 534.00,103.06 534.42,102.95 534.84,102.84 535.25,102.73 535.67,102.62 536.09,102.52 536.50,102.41 536.92,102.31 537.34,102.21 537.75,102.11 538.17,102.01 538.59,101.91 539.00,101.82 539.42,101.72 539.84,101.63 540.25,101.53 540.67,101.44 541.09,101.35 541.51,101.26 541.92,101.17 542.34,101.08 542.76,101.00 543.17,100.91 543.59,100.83 544.01,100.74 544.42,100.66 544.84,100.58 545.26,100.50 545.67,100.42 546.09,100.34 546.51,100.26 546.92,100.19 547.34,100.11 547.76,100.04 548.17,99.96 548.59,99.89 549.01,99.82 549.42,99.75 549.84,99.68 550.26,99.61 550.67,99.54 551.09,99.47 551.51,99.40 551.92,99.34 552.34,99.27 552.76,99.21 553.18,99.14 553.59,99.08 554.01,99.02 554.43,98.96 554.84,98.90 555.26,98.84 555.68,98.78 556.09,98.72 556.51,98.66 556.93,98.60 557.34,98.55 557.76,98.49 558.18,98.44 558.59,98.38 559.01,98.33 559.43,98.27 559.84,98.22 560.26,98.17 560.68,98.12 561.09,98.07 561.51,98.02 561.93,97.97 562.34,97.92 562.76,97.87 563.18,97.82 563.60,97.78 564.01,97.73 564.43,97.69 564.85,97.64 565.26,97.60 565.68,97.55 566.10,97.51 566.51,97.46 566.93,97.42 567.35,97.38 567.76,97.34 568.18,97.30 568.60,97.26 569.01,97.22 569.43,97.18 569.85,97.14 570.26,97.10 570.68,97.06 571.10,97.02 571.51,96.99 571.93,96.95 572.35,96.91 572.76,96.88 573.18,96.84 573.60,96.81 574.02,96.77 574.43,96.74 574.85,96.70 575.27,96.67 575.68,96.64 576.10,96.60 576.52,96.57 576.93,96.54 577.35,96.51 577.77,96.48 578.18,96.45 578.60,96.42 579.02,96.39 579.43,96.36 579.85,96.33 580.27,96.30 580.68,96.27 581.10,96.24 581.52,96.21 581.93,96.19 582.35,96.16 582.77,96.13 583.18,96.11 583.60,96.08 584.02,96.05 584.44,96.03 584.85,96.00 585.27,95.98 585.69,95.95 586.10,95.93 586.52,95.91 586.94,95.88 587.35,95.86 587.77,95.84 588.19,95.81 588.60,95.79 589.02,95.77 589.44,95.75 589.85,95.72 590.27,95.70 590.69,95.68 591.10,95.66 591.52,95.64 591.94,95.62 592.35,95.60 592.77,95.58 593.19,95.56 593.60,95.54 594.02,95.52 594.44,95.50 594.86,95.48 595.27,95.46 595.69,95.45 596.11,95.43 596.52,95.41 596.94,95.39 597.36,95.37 597.77,95.36 598.19,95.34 598.61,95.32 599.02,95.31 599.44,95.29 599.86,95.27 600.27,95.26 600.69,95.24 601.11,95.23 601.52,95.21 601.94,95.19 602.36,95.18 602.77,95.16 603.19,95.15 603.61,95.14 604.02,95.12 604.44,95.11 604.86,95.09 605.27,95.08 605.69,95.07 606.11,95.05 606.53,95.04 606.94,95.03 607.36,95.01 607.78,95.00 608.19,94.99 608.61,94.97 609.03,94.96 609.44,94.95 609.86,94.94 610.28,94.93 610.69,94.91 611.11,94.90 611.53,94.89 611.94,94.88 612.36,94.87 612.78,94.86 613.19,94.85 613.61,94.83 614.03,94.82 614.44,94.81 614.86,94.80 615.28,94.79 615.69,94.78 616.11,94.77 616.53,94.76 616.95,94.75 617.36,94.74 617.78,94.73 618.20,94.72 618.61,94.71 619.03,94.70 619.45,94.70 619.86,94.69 620.28,94.68 620.70,94.67 621.11,94.66 621.53,94.65 621.95,94.64 622.36,94.63 622.78,94.63 623.20,94.62 623.61,94.61 624.03,94.60 624.45,94.59 624.86,94.59 625.28,94.58 625.70,94.57 626.11,94.56 626.53,94.56 626.95,94.55 627.37,94.54 627.78,94.53 628.20,94.53 628.62,94.52 629.03,94.51 629.45,94.51 629.87,94.50 630.28,94.49 630.70,94.49 631.12,94.48 631.53,94.47 631.95,94.47 632.37,94.46 632.78,94.45 633.20,94.45 633.62,94.44 634.03,94.44 634.45,94.43 634.87,94.42 635.28,94.42 635.70,94.41 636.12,94.41 636.53,94.40 636.95,94.40 637.37,94.39 637.79,94.39 638.20,94.38 638.62,94.38 639.04,94.37 639.45,94.36 639.87,94.36 640.29,94.35 640.70,94.35 641.12,94.35 641.54,94.34 641.95,94.34 642.37,94.33 642.79,94.33 643.20,94.32 643.62,94.32 644.04,94.31 644.45,94.31 644.87,94.30 645.29,94.30 645.70,94.30 646.12,94.29 646.54,94.29 646.95,94.28 647.37,94.28 647.79,94.28 648.21,94.27 648.62,94.27 649.04,94.26 649.46,94.26 649.87,94.26 650.29,94.25 650.71,94.25 651.12,94.24 651.54,94.24 651.96,94.24 652.37,94.23 652.79,94.23 653.21,94.23 653.62,94.22 654.04,94.22 654.46,94.22 654.87,94.21 655.29,94.21 655.71,94.21 656.12,94.20 656.54,94.20 656.96,94.20 657.37,94.20 657.79,94.19 658.21,94.19 658.62,94.19 659.04,94.18 659.46,94.18 659.88,94.18 660.29,94.18 660.71,94.17 661.13,94.17 661.54,94.17 661.96,94.16 662.38,94.16 662.79,94.16 663.21,94.16 663.63,94.15 664.04,94.15 664.46,94.15 664.88,94.15 665.29,94.14 665.71,94.14 666.13,94.14 666.54,94.14 666.96,94.14 667.38,94.13 667.79,94.13 668.21,94.13 668.63,94.13 669.04,94.12 669.46,94.12 669.88,94.12 670.30,94.12 670.71,94.12 671.13,94.11 671.55,94.11 671.96,94.11 672.38,94.11 672.80,94.11 673.21,94.10 673.63,94.10 674.05,94.10 674.46,94.10 674.88,94.10 675.30,94.10 675.71,94.09 676.13,94.09 676.55,94.09 676.96,94.09 677.38,94.09 677.80,94.08 678.21,94.08 678.63,94.08 679.05,94.08 679.46,94.08 679.88,94.08 680.30,94.08 680.72,94.07 681.13,94.07 681.55,94.07 681.97,94.07 682.38,94.07 682.80,94.07 683.22,94.07 683.63,94.06 684.05,94.06 684.47,94.06 684.88,94.06 685.30,94.06" fill="none" stroke="#2ca02c" stroke-width="1.9" stroke-dasharray="5.9,2.6"/><polyline points="414.30,256.35 414.75,254.21 415.20,252.10 415.66,250.02 416.11,247.97 416.56,245.94 417.01,243.94 417.47,241.96 417.92,240.02 418.37,238.09 418.82,236.19 419.28,234.32 419.73,232.47 420.18,230.65 420.63,228.85 421.09,227.08 421.54,225.32 421.99,223.59 422.44,221.89 422.90,220.20 423.35,218.54 423.80,216.90 424.25,215.28 424.71,213.69 425.16,212.11 425.61,210.55 426.06,209.02 426.52,207.50 426.97,206.01 427.42,204.53 427.87,203.08 428.33,201.64 428.78,200.22 429.23,198.83 429.68,197.44 430.13,196.08 430.59,194.74 431.04,193.41 431.49,192.10 431.94,190.81 432.40,189.53 432.85,188.28 433.30,187.03 433.75,185.81 434.21,184.60 434.66,183.41 435.11,182.23 435.56,181.07 436.02,179.92 436.47,178.79 436.92,177.67 437.37,176.57 437.83,175.48 438.28,174.41 438.73,173.35 439.18,172.30 439.64,171.27 440.09,170.26 440.54,169.25 440.99,168.26 441.45,167.28 441.90,166.32 442.35,165.36 442.80,164.42 443.25,163.50 443.71,162.58 444.16,161.68 444.61,160.79 445.06,159.91 445.52,159.04 445.97,158.18 446.42,157.33 446.87,156.50 447.33,155.68 447.78,154.86 448.23,154.06 448.68,153.27 449.14,152.49 449.59,151.72 450.04,150.96 450.49,150.21 450.95,149.47 451.40,148.74 451.85,148.02 452.30,147.30 452.76,146.60 453.21,145.91 453.66,145.23 454.11,144.55 454.57,143.88 455.02,143.23 455.47,142.58 455.92,141.94 456.38,141.31 456.83,140.68 457.28,140.07 457.73,139.46 458.18,138.86 458.64,138.27 459.09,137.69 459.54,137.11 459.99,136.54 460.45,135.98 460.90,135.43 461.35,134.88 461.80,134.34 462.26,133.81 462.71,133.29 463.16,132.77 463.61,132.26 464.07,131.75 464.52,131.26 464.97,130.77 465.42,130.28 465.88,129.80 466.33,129.33 466.78,128.87 467.23,128.41 467.69,127.95 468.14,127.50 468.59,127.06 469.04,126.63 469.50,126.20 469.95,125.77 470.40,125.35 470.85,124.94 471.31,124.53 471.76,124.13 472.21,123.73 472.66,123.34 473.11,122.95 473.57,122.57 474.02,122.19 474.47,121.82 474.92,121.46 475.38,121.09 475.83,120.74 476.28,120.38 476.73,120.04 477.19,119.69 477.64,119.35 478.09,119.02 478.54,118.69 479.00,118.36 479.45,118.04 479.90,117.72 480.35,117.41 480.81,117.10 481.26,116.80 481.71,116.50 482.16,116.20 482.62,115.91 483.07,115.62 483.52,115.33 483.97,115.05 484.43,114.77 484.88,114.50 485.33,114.23 485.78,113.96 486.23,113.70 486.69,113.44 487.14,113.18 487.59,112.93 488.04,112.68 488.50,112.43 488.95,112.19 489.40,111.95 489.85,111.71 490.31,111.48 490.76,111.25 491.21,111.02 491.66,110.80 492.12,110.57 492.57,110.36 493.02,110.14 493.47,109.93 493.93,109.72 494.38,109.51 494.83,109.30 495.28,109.10 495.74,108.90 496.19,108.71 496.64,108.51 497.09,108.32 497.55,108.13 498.00,107.94 498.45,107.76 498.90,107.58 499.36,107.40 499.81,107.22 500.26,107.05 500.71,106.87 501.16,106.70 501.62,106.54 502.07,106.37 502.52,106.21 502.97,106.05 503.43,105.89 503.88,105.73 504.33,105.57 504.78,105.42 505.24,105.27 505.69,105.12 506.14,104.97 506.59,104.83 507.05,104.69 507.50,104.54 507.95,104.40 508.40,104.27 508.86,104.13 509.31,104.00 509.76,103.86 510.21,103.73 510.67,103.61 511.12,103.48 511.57,103.35 512.02,103.23 512.48,103.11 512.93,102.99 513.38,102.87 513.83,102.75 514.28,102.63 514.74,102.52 515.19,102.41 515.64,102.30 516.09,102.19 516.55,102.08 517.00,101.97 517.45,101.87 517.90,101.76 518.36,101.66 518.81,101.56 519.26,101.46 519.71,101.36 520.17,101.26 520.62,101.16 521.07,101.07 521.52,100.98 521.98,100.88 522.43,100.79 522.88,100.70 523.33,100.61 523.79,100.52 524.24,100.44 524.69,100.35 525.14,100.27 525.60,100.19 526.05,100.10 526.50,100.02 526.95,99.94 527.41,99.86 527.86,99.79 528.31,99.71 528.76,99.63 529.21,99.56 529.67,99.48 530.12,99.41 530.57,99.34 531.02,99.27 531.48,99.20 531.93,99.13 532.38,99.06 532.83,98.99 533.29,98.93 533.74,98.86 534.19,98.80 534.64,98.73 535.10,98.67 535.55,98.61 536.00,98.55 536.45,98.49 536.91,98.43 537.36,98.37 537.81,98.31 538.26,98.25 538.72,98.20 539.17,98.14 539.62,98.08 540.07,98.03 540.53,97.98 540.98,97.92 541.43,97.87 541.88,97.82 542.34,97.77 542.79,97.72 543.24,97.67 543.69,97.62 544.14,97.57 544.60,97.52 545.05,97.48 545.50,97.43 545.95,97.38 546.41,97.34 546.86,97.29 547.31,97.25 547.76,97.21 548.22,97.16 548.67,97.12 549.12,97.08 549.57,97.04 550.03,97.00 550.48,96.96 550.93,96.92 551.38,96.88 551.84,96.84 552.29,96.80 552.74,96.77 553.19,96.73 553.65,96.69 554.10,96.66 554.55,96.62 555.00,96.59 555.46,96.55 555.91,96.52 556.36,96.48 556.81,96.45 557.26,96.42 557.72,96.38 558.17,96.35 558.62,96.32 559.07,96.29 559.53,96.26 559.98,96.23 560.43,96.20 560.88,96.17 561.34,96.14 561.79,96.11 562.24,96.08 562.69,96.05 563.15,96.03 563.60,96.00 564.05,95.97 564.50,95.95 564.96,95.92 565.41,95.89 565.86,95.87 566.31,95.84 566.77,95.82 567.22,95.79 567.67,95.77 568.12,95.74 568.58,95.72 569.03,95.70 569.48,95.67 569.93,95.65 570.39,95.63 570.84,95.61 571.29,95.59 571.74,95.56 572.19,95.54 572.65,95.52 573.10,95.50 573.55,95.48 574.00,95.46 574.46,95.44 574.91,95.42 575.36,95.40 575.81,95.38 576.27,95.36 576.72,95.34 577.17,95.33 577.62,95.31 578.08,95.29 578.53,95.27 578.98,95.26 579.43,95.24 579.89,95.22 580.34,95.20 580.79,95.19 581.24,95.17 581.70,95.16 582.15,95.14 582.60,95.12 583.05,95.11 583.51,95.09 583.96,95.08 584.41,95.06 584.86,95.05 585.32,95.03 585.77,95.02 586.22,95.01 586.67,94.99 587.12,94.98 587.58,94.96 588.03,94.95 588.48,94.94 588.93,94.93 589.39,94.91 589.84,94.90 590.29,94.89 590.74,94.88 591.20,94.86 591.65,94.85 592.10,94.84 592.55,94.83 593.01,94.82 593.46,94.80 593.91,94.79 594.36,94.78 594.82,94.77 595.27,94.76 595.72,94.75 596.17,94.74 596.63,94.73 597.08,94.72 597.53,94.71 597.98,94.70 598.44,94.69 598.89,94.68 599.34,94.67 599.79,94.66 600.24,94.65 600.70,94.64 601.15,94.63 601.60,94.62 602.05,94.61 602.51,94.61 602.96,94.60 603.41,94.59 603.86,94.58 604.32,94.57 604.77,94.56 605.22,94.56 605.67,94.55 606.13,94.54 606.58,94.53 607.03,94.52 607.48,94.52 607.94,94.51 608.39,94.50 608.84,94.49 609.29,94.49 609.75,94.48 610.20,94.47 610.65,94.47 611.10,94.46 611.56,94.45 612.01,94.45 612.46,94.44 612.91,94.43 613.37,94.43 613.82,94.42 614.27,94.41 614.72,94.41 615.17,94.40 615.63,94.40 616.08,94.39 616.53,94.38 616.98,94.38 617.44,94.37 617.89,94.37 618.34,94.36 618.79,94.36 619.25,94.35 619.70,94.35 620.15,94.34 620.60,94.34 621.06,94.33 621.51,94.33 621.96,94.32 622.41,94.32 622.87,94.31 623.32,94.31 623.77,94.30 624.22,94.30 624.68,94.29 625.13,94.29 625.58,94.28 626.03,94.28 626.49,94.27 626.94,94.27 627.39,94.27 627.84,94.26 628.29,94.26 628.75,94.25 629.20,94.25 629.65,94.25 630.10,94.24 630.56,94.24 631.01,94.23 631.46,94.23 631.91,94.23 632.37,94.22 632.82,94.22 633.27,94.22 633.72,94.21 634.18,94.21 634.63,94.21 635.08,94.20 635.53,94.20 635.99,94.20 636.44,94.19 636.89,94.19 637.34,94.19 637.80,94.18 638.25,94.18 638.70,94.18 639.15,94.17 639.61,94.17 640.06,94.17 640.51,94.17 640.96,94.16 641.42,94.16 641.87,94.16 642.32,94.15 642.77,94.15 643.22,94.15 643.68,94.15 644.13,94.14 644.58,94.14 645.03,94.14 645.49,94.14 645.94,94.13 646.39,94.13 646.84,94.13 647.30,94.13 647.75,94.12 648.20,94.12 648.65,94.12 649.11,94.12 649.56,94.12 650.01,94.11 650.46,94.11 650.92,94.11 651.37,94.11 651.82,94.10 652.27,94.10 652.73,94.10 653.18,94.10 653.63,94.10 654.08,94.09 654.54,94.09 654.99,94.09 655.44,94.09 655.89,94.09 656.35,94.09 656.80,94.08 657.25,94.08 657.70,94.08 658.15,94.08 658.61,94.08 659.06,94.08 659.51,94.07 659.96,94.07 660.42,94.07 660.87,94.07 661.32,94.07 661.77,94.07 662.23,94.06 662.68,94.06 663.13,94.06 663.58,94.06 664.04,94.06 664.49,94.06 664.94,94.06 665.39,94.05 665.85,94.05 666.30,94.05 666.75,94.05 667.20,94.05 667.66,94.05 668.11,94.05 668.56,94.04 669.01,94.04 669.47,94.04 669.92,94.04 670.37,94.04 670.82,94.04 671.27,94.04 671.73,94.04 672.18,94.04 672.63,94.03 673.08,94.03 673.54,94.03 673.99,94.03 674.44,94.03 674.89,94.03 675.35,94.03 675.80,94.03 676.25,94.03 676.70,94.02 677.16,94.02 677.61,94.02 678.06,94.02 678.51,94.02 678.97,94.02 679.42,94.02 679.87,94.02 680.32,94.02 680.78,94.02 681.23,94.02 681.68,94.01 682.13,94.01 682.59,94.01 683.04,94.01 683.49,94.01 683.94,94.01 684.40,94.01 684.85,94.01 685.30,94.01" fill="none" stroke="#d62728" stroke-width="1.9" stroke-dasharray="5.9,2.6"/></g>
<line x1="414.3" y1="85.83000000000001" x2="414.3" y2="256.35" stroke="#111" stroke-width="1.1" stroke-linecap="square"/>
<line x1="414.3" y1="256.35" x2="685.3" y2="256.35" stroke="#111" stroke-width="1.1" stroke-linecap="square"/>
<line x1="410.3" y1="256.35" x2="414.3" y2="256.35" stroke="#111" stroke-width="1.0"/>
<text x="406.0" y="260.55" text-anchor="end" font-size="11.0">0.0</text>
<line x1="410.3" y1="223.87" x2="414.3" y2="223.87" stroke="#111" stroke-width="1.0"/>
<text x="406.0" y="228.07" text-anchor="end" font-size="11.0">0.2</text>
<line x1="410.3" y1="191.39000000000001" x2="414.3" y2="191.39000000000001" stroke="#111" stroke-width="1.0"/>
<text x="406.0" y="195.59" text-anchor="end" font-size="11.0">0.4</text>
<line x1="410.3" y1="158.91000000000003" x2="414.3" y2="158.91000000000003" stroke="#111" stroke-width="1.0"/>
<text x="406.0" y="163.11" text-anchor="end" font-size="11.0">0.6</text>
<line x1="410.3" y1="126.43" x2="414.3" y2="126.43" stroke="#111" stroke-width="1.0"/>
<text x="406.0" y="130.63" text-anchor="end" font-size="11.0">0.8</text>
<line x1="410.3" y1="93.95000000000002" x2="414.3" y2="93.95000000000002" stroke="#111" stroke-width="1.0"/>
<text x="406.0" y="98.15000000000002" text-anchor="end" font-size="11.0"><tspan class="o">1</tspan>.0</text>
<line x1="414.3" y1="256.35" x2="414.3" y2="259.95000000000005" stroke="#111" stroke-width="1.0"/>
<text x="414.3" y="270.95000000000005" text-anchor="middle" font-size="11.0">0.0</text>
<line x1="449.86430446194225" y1="256.35" x2="449.86430446194225" y2="259.95000000000005" stroke="#111" stroke-width="1.0"/>
<text x="449.86430446194225" y="270.95000000000005" text-anchor="middle" font-size="11.0">2.5</text>
<line x1="485.42860892388455" y1="256.35" x2="485.42860892388455" y2="259.95000000000005" stroke="#111" stroke-width="1.0"/>
<text x="485.42860892388455" y="270.95000000000005" text-anchor="middle" font-size="11.0">5.0</text>
<line x1="520.9929133858268" y1="256.35" x2="520.9929133858268" y2="259.95000000000005" stroke="#111" stroke-width="1.0"/>
<text x="520.9929133858268" y="270.95000000000005" text-anchor="middle" font-size="11.0">7.5</text>
<line x1="556.557217847769" y1="256.35" x2="556.557217847769" y2="259.95000000000005" stroke="#111" stroke-width="1.0"/>
<text x="556.557217847769" y="270.95000000000005" text-anchor="middle" font-size="11.0"><tspan class="o">1</tspan>0.0</text>
<line x1="592.1215223097113" y1="256.35" x2="592.1215223097113" y2="259.95000000000005" stroke="#111" stroke-width="1.0"/>
<text x="592.1215223097113" y="270.95000000000005" text-anchor="middle" font-size="11.0"><tspan class="o">1</tspan>2.5</text>
<line x1="627.6858267716535" y1="256.35" x2="627.6858267716535" y2="259.95000000000005" stroke="#111" stroke-width="1.0"/>
<text x="627.6858267716535" y="270.95000000000005" text-anchor="middle" font-size="11.0"><tspan class="o">1</tspan>5.0</text>
<line x1="663.2501312335958" y1="256.35" x2="663.2501312335958" y2="259.95000000000005" stroke="#111" stroke-width="1.0"/>
<text x="663.2501312335958" y="270.95000000000005" text-anchor="middle" font-size="11.0"><tspan class="o">1</tspan>7.5</text>
<text x="671.5" y="113.2" text-anchor="middle" font-size="11.6" font-weight="bold" style="stroke-width:0">(d)</text>
<g clip-path="url(#c10)"><path d="M97.95 404.35h1.2v1.2h-1.2zM100.36 397.46h1.2v1.2h-1.2zM102.78 391.09h1.2v1.2h-1.2zM105.19 384.88h1.2v1.2h-1.2zM107.61 378.89h1.2v1.2h-1.2zM110.02 374.68h1.2v1.2h-1.2zM112.44 370.14h1.2v1.2h-1.2zM114.85 365.73h1.2v1.2h-1.2zM117.27 360.66h1.2v1.2h-1.2zM119.68 355.38h1.2v1.2h-1.2zM122.10 351.10h1.2v1.2h-1.2zM124.51 346.37h1.2v1.2h-1.2zM126.93 342.22h1.2v1.2h-1.2zM129.35 339.05h1.2v1.2h-1.2zM131.76 336.88h1.2v1.2h-1.2zM134.18 332.94h1.2v1.2h-1.2zM136.59 330.17h1.2v1.2h-1.2zM139.01 328.35h1.2v1.2h-1.2zM143.84 325.19h1.2v1.2h-1.2zM146.25 323.57h1.2v1.2h-1.2zM151.08 320.57h1.2v1.2h-1.2zM153.50 319.05h1.2v1.2h-1.2z" fill="#1f77b4" fill-opacity="0.75"/><polyline points="97.08,460.55 97.08,413.78 99.50,413.78 99.50,405.90 101.91,405.90 101.91,399.01 104.33,399.01 104.33,392.64 106.74,392.64 106.74,386.43 109.16,386.43 109.16,380.44 111.57,380.44 111.57,376.23 113.99,376.23 113.99,371.69 116.40,371.69 116.40,367.28 118.82,367.28 118.82,362.21 121.23,362.21 121.23,356.93 123.65,356.93 123.65,352.65 126.06,352.65 126.06,347.92 128.48,347.92 128.48,343.77 130.90,343.77 130.90,340.60 133.31,340.60 133.31,338.43 135.73,338.43 135.73,334.49 138.14,334.49 138.14,331.72 140.56,331.72 140.56,329.90 142.97,329.90 142.97,328.40 145.39,328.40 145.39,326.74 147.80,326.74 147.80,325.12 150.22,325.12 150.22,323.62 152.63,323.62 152.63,322.12 155.05,322.12 155.05,320.60 157.46,320.60 157.46,319.26 159.88,319.26 159.88,318.14 162.29,318.14 162.29,317.03 164.71,317.03 164.71,315.91 167.13,315.91 167.13,314.80 169.54,314.80 169.54,313.85 171.96,313.85 171.96,312.94 174.37,312.94 174.37,312.04 176.79,312.04 176.79,311.13 179.20,311.13 179.20,310.23 181.62,310.23 181.62,309.32 184.03,309.32 184.03,308.61 186.45,308.61 186.45,307.99 188.86,307.99 188.86,307.38 191.28,307.38 191.28,306.76 193.69,306.76 193.69,306.14 196.11,306.14 196.11,305.52 198.52,305.52 198.52,304.91 200.94,304.91 200.94,304.43 203.36,304.43 203.36,304.04 205.77,304.04 205.77,303.66 208.19,303.66 208.19,303.28 210.60,303.28 210.60,302.90 213.02,302.90 213.02,302.52 215.43,302.52 215.43,302.17 217.85,302.17 217.85,301.95 220.26,301.95 220.26,301.72 222.68,301.72 222.68,301.50 225.09,301.50 225.09,301.28 227.51,301.28 227.51,301.05 229.92,301.05 229.92,300.83 232.34,300.83 232.34,300.61 234.75,300.61 234.75,300.40 237.17,300.40 237.17,300.27 239.59,300.27 239.59,300.14 242.00,300.14 242.00,300.01 244.42,300.01 244.42,299.88 246.83,299.88 246.83,299.75 249.25,299.75 249.25,299.62 251.66,299.62 251.66,299.49 254.08,299.49 254.08,299.36 256.49,299.36 256.49,299.23 258.91,299.23 258.91,299.11 261.32,299.11 261.32,299.05 263.74,299.05 263.74,298.98 266.15,298.98 266.15,298.92 268.57,298.92 268.57,298.85 270.98,298.85 270.98,298.79 273.40,298.79 273.40,298.72 275.82,298.72 275.82,298.66 278.23,298.66 278.23,298.59 280.65,298.59 280.65,298.53 283.06,298.53 283.06,298.47 285.48,298.47 285.48,298.44 287.89,298.44 287.89,298.40 290.31,298.40 290.31,298.37 292.72,298.37 292.72,298.34 295.14,298.34 295.14,298.31 297.55,298.31 297.55,298.27 299.97,298.27 299.97,298.24 302.38,298.24 302.38,298.21 304.80,298.21 304.80,298.18 307.21,298.18 307.21,298.15 309.63,298.15 309.63,298.15 312.05,298.15 312.05,298.15 314.46,298.15 314.46,298.15 316.88,298.15 316.88,298.15 319.29,298.15 319.29,298.15 321.71,298.15 321.71,298.15 324.12,298.15 324.12,298.15 326.54,298.15 326.54,298.15 328.95,298.15 328.95,298.15 331.37,298.15 331.37,298.15 333.78,298.15 333.78,298.15 336.20,298.15 336.20,298.15 338.61,298.15 338.61,298.15 341.03,298.15 341.03,298.15 343.44,298.15 343.44,298.15 345.86,298.15 345.86,298.15 348.28,298.15 348.28,298.15 350.69,298.15 350.69,298.15 353.11,298.15 353.11,298.15 355.52,298.15 355.52,298.15 357.94,298.15 357.94,298.15 360.35,298.15 360.35,298.15 362.77,298.15" fill="none" stroke="#ff7f0e" stroke-width="2.0" stroke-linejoin="miter"/><polyline points="96.65,460.55 97.09,458.51 97.53,456.49 97.97,454.50 98.41,452.53 98.85,450.59 99.29,448.67 99.73,446.78 100.17,444.91 100.61,443.06 101.05,441.24 101.49,439.44 101.93,437.66 102.37,435.91 102.81,434.17 103.25,432.46 103.69,430.77 104.13,429.10 104.57,427.46 105.01,425.83 105.45,424.22 105.89,422.64 106.33,421.07 106.77,419.52 107.21,418.00 107.65,416.49 108.09,415.00 108.53,413.53 108.98,412.08 109.42,410.65 109.86,409.23 110.30,407.83 110.74,406.45 111.18,405.09 111.62,403.75 112.06,402.42 112.50,401.11 112.94,399.81 113.38,398.53 113.82,397.27 114.26,396.02 114.70,394.79 115.14,393.58 115.58,392.37 116.02,391.19 116.46,390.02 116.90,388.86 117.34,387.72 117.78,386.60 118.22,385.48 118.66,384.38 119.10,383.30 119.54,382.23 119.98,381.17 120.42,380.13 120.86,379.09 121.30,378.08 121.74,377.07 122.18,376.08 122.63,375.10 123.07,374.13 123.51,373.17 123.95,372.23 124.39,371.30 124.83,370.38 125.27,369.47 125.71,368.57 126.15,367.69 126.59,366.81 127.03,365.95 127.47,365.09 127.91,364.25 128.35,363.42 128.79,362.60 129.23,361.79 129.67,360.99 130.11,360.20 130.55,359.42 130.99,358.65 131.43,357.89 131.87,357.13 132.31,356.39 132.75,355.66 133.19,354.94 133.63,354.22 134.07,353.52 134.51,352.82 134.95,352.13 135.39,351.45 135.83,350.78 136.28,350.12 136.72,349.47 137.16,348.82 137.60,348.18 138.04,347.55 138.48,346.93 138.92,346.32 139.36,345.71 139.80,345.11 140.24,344.52 140.68,343.94 141.12,343.36 141.56,342.80 142.00,342.23 142.44,341.68 142.88,341.13 143.32,340.59 143.76,340.06 144.20,339.53 144.64,339.01 145.08,338.49 145.52,337.99 145.96,337.49 146.40,336.99 146.84,336.50 147.28,336.02 147.72,335.54 148.16,335.07 148.60,334.61 149.04,334.15 149.48,333.70 149.93,333.25 150.37,332.81 150.81,332.37 151.25,331.94 151.69,331.52 152.13,331.10 152.57,330.68 153.01,330.27 153.45,329.87 153.89,329.47 154.33,329.08 154.77,328.69 155.21,328.30 155.65,327.92 156.09,327.55 156.53,327.18 156.97,326.81 157.41,326.45 157.85,326.10 158.29,325.75 158.73,325.40 159.17,325.06 159.61,324.72 160.05,324.38 160.49,324.05 160.93,323.73 161.37,323.41 161.81,323.09 162.25,322.77 162.69,322.46 163.13,322.16 163.58,321.86 164.02,321.56 164.46,321.26 164.90,320.97 165.34,320.69 165.78,320.40 166.22,320.12 166.66,319.85 167.10,319.57 167.54,319.30 167.98,319.04 168.42,318.77 168.86,318.52 169.30,318.26 169.74,318.01 170.18,317.76 170.62,317.51 171.06,317.27 171.50,317.03 171.94,316.79 172.38,316.55 172.82,316.32 173.26,316.09 173.70,315.87 174.14,315.64 174.58,315.42 175.02,315.21 175.46,314.99 175.90,314.78 176.34,314.57 176.78,314.37 177.23,314.16 177.67,313.96 178.11,313.76 178.55,313.56 178.99,313.37 179.43,313.18 179.87,312.99 180.31,312.80 180.75,312.62 181.19,312.44 181.63,312.26 182.07,312.08 182.51,311.90 182.95,311.73 183.39,311.56 183.83,311.39 184.27,311.23 184.71,311.06 185.15,310.90 185.59,310.74 186.03,310.58 186.47,310.42 186.91,310.27 187.35,310.12 187.79,309.97 188.23,309.82 188.67,309.67 189.11,309.53 189.55,309.38 189.99,309.24 190.43,309.10 190.88,308.96 191.32,308.83 191.76,308.69 192.20,308.56 192.64,308.43 193.08,308.30 193.52,308.17 193.96,308.05 194.40,307.92 194.84,307.80 195.28,307.68 195.72,307.56 196.16,307.44 196.60,307.32 197.04,307.21 197.48,307.09 197.92,306.98 198.36,306.87 198.80,306.76 199.24,306.65 199.68,306.54 200.12,306.44 200.56,306.34 201.00,306.23 201.44,306.13 201.88,306.03 202.32,305.93 202.76,305.83 203.20,305.74 203.64,305.64 204.09,305.55 204.53,305.45 204.97,305.36 205.41,305.27 205.85,305.18 206.29,305.09 206.73,305.01 207.17,304.92 207.61,304.83 208.05,304.75 208.49,304.67 208.93,304.59 209.37,304.50 209.81,304.42 210.25,304.35 210.69,304.27 211.13,304.19 211.57,304.11 212.01,304.04 212.45,303.97 212.89,303.89 213.33,303.82 213.77,303.75 214.21,303.68 214.65,303.61 215.09,303.54 215.53,303.47 215.97,303.41 216.41,303.34 216.85,303.27 217.29,303.21 217.74,303.15 218.18,303.08 218.62,303.02 219.06,302.96 219.50,302.90 219.94,302.84 220.38,302.78 220.82,302.72 221.26,302.66 221.70,302.61 222.14,302.55 222.58,302.50 223.02,302.44 223.46,302.39 223.90,302.33 224.34,302.28 224.78,302.23 225.22,302.18 225.66,302.13 226.10,302.08 226.54,302.03 226.98,301.98 227.42,301.93 227.86,301.88 228.30,301.84 228.74,301.79 229.18,301.74 229.62,301.70 230.06,301.65 230.50,301.61 230.94,301.57 231.39,301.52 231.83,301.48 232.27,301.44 232.71,301.40 233.15,301.36 233.59,301.32 234.03,301.28 234.47,301.24 234.91,301.20 235.35,301.16 235.79,301.12 236.23,301.09 236.67,301.05 237.11,301.01 237.55,300.98 237.99,300.94 238.43,300.91 238.87,300.87 239.31,300.84 239.75,300.80 240.19,300.77 240.63,300.74 241.07,300.70 241.51,300.67 241.95,300.64 242.39,300.61 242.83,300.58 243.27,300.55 243.71,300.52 244.15,300.49 244.59,300.46 245.04,300.43 245.48,300.40 245.92,300.37 246.36,300.34 246.80,300.32 247.24,300.29 247.68,300.26 248.12,300.24 248.56,300.21 249.00,300.18 249.44,300.16 249.88,300.13 250.32,300.11 250.76,300.08 251.20,300.06 251.64,300.03 252.08,300.01 252.52,299.99 252.96,299.96 253.40,299.94 253.84,299.92 254.28,299.90 254.72,299.87 255.16,299.85 255.60,299.83 256.04,299.81 256.48,299.79 256.92,299.77 257.36,299.75 257.80,299.73 258.24,299.71 258.69,299.69 259.13,299.67 259.57,299.65 260.01,299.63 260.45,299.61 260.89,299.59 261.33,299.58 261.77,299.56 262.21,299.54 262.65,299.52 263.09,299.51 263.53,299.49 263.97,299.47 264.41,299.46 264.85,299.44 265.29,299.42 265.73,299.41 266.17,299.39 266.61,299.38 267.05,299.36 267.49,299.34 267.93,299.33 268.37,299.31 268.81,299.30 269.25,299.29 269.69,299.27 270.13,299.26 270.57,299.24 271.01,299.23 271.45,299.22 271.89,299.20 272.34,299.19 272.78,299.18 273.22,299.16 273.66,299.15 274.10,299.14 274.54,299.13 274.98,299.11 275.42,299.10 275.86,299.09 276.30,299.08 276.74,299.07 277.18,299.05 277.62,299.04 278.06,299.03 278.50,299.02 278.94,299.01 279.38,299.00 279.82,298.99 280.26,298.98 280.70,298.97 281.14,298.96 281.58,298.95 282.02,298.94 282.46,298.93 282.90,298.92 283.34,298.91 283.78,298.90 284.22,298.89 284.66,298.88 285.10,298.87 285.54,298.86 285.99,298.85 286.43,298.84 286.87,298.83 287.31,298.83 287.75,298.82 288.19,298.81 288.63,298.80 289.07,298.79 289.51,298.78 289.95,298.78 290.39,298.77 290.83,298.76 291.27,298.75 291.71,298.75 292.15,298.74 292.59,298.73 293.03,298.72 293.47,298.72 293.91,298.71 294.35,298.70 294.79,298.70 295.23,298.69 295.67,298.68 296.11,298.67 296.55,298.67 296.99,298.66 297.43,298.66 297.87,298.65 298.31,298.64 298.75,298.64 299.19,298.63 299.64,298.62 300.08,298.62 300.52,298.61 300.96,298.61 301.40,298.60 301.84,298.60 302.28,298.59 302.72,298.58 303.16,298.58 303.60,298.57 304.04,298.57 304.48,298.56 304.92,298.56 305.36,298.55 305.80,298.55 306.24,298.54 306.68,298.54 307.12,298.53 307.56,298.53 308.00,298.52 308.44,298.52 308.88,298.51 309.32,298.51 309.76,298.50 310.20,298.50 310.64,298.50 311.08,298.49 311.52,298.49 311.96,298.48 312.40,298.48 312.85,298.47 313.29,298.47 313.73,298.47 314.17,298.46 314.61,298.46 315.05,298.45 315.49,298.45 315.93,298.45 316.37,298.44 316.81,298.44 317.25,298.44 317.69,298.43 318.13,298.43 318.57,298.43 319.01,298.42 319.45,298.42 319.89,298.41 320.33,298.41 320.77,298.41 321.21,298.40 321.65,298.40 322.09,298.40 322.53,298.40 322.97,298.39 323.41,298.39 323.85,298.39 324.29,298.38 324.73,298.38 325.17,298.38 325.61,298.37 326.05,298.37 326.50,298.37 326.94,298.37 327.38,298.36 327.82,298.36 328.26,298.36 328.70,298.36 329.14,298.35 329.58,298.35 330.02,298.35 330.46,298.35 330.90,298.34 331.34,298.34 331.78,298.34 332.22,298.34 332.66,298.33 333.10,298.33 333.54,298.33 333.98,298.33 334.42,298.32 334.86,298.32 335.30,298.32 335.74,298.32 336.18,298.32 336.62,298.31 337.06,298.31 337.50,298.31 337.94,298.31 338.38,298.31 338.82,298.30 339.26,298.30 339.70,298.30 340.15,298.30 340.59,298.30 341.03,298.29 341.47,298.29 341.91,298.29 342.35,298.29 342.79,298.29 343.23,298.29 343.67,298.28 344.11,298.28 344.55,298.28 344.99,298.28 345.43,298.28 345.87,298.28 346.31,298.27 346.75,298.27 347.19,298.27 347.63,298.27 348.07,298.27 348.51,298.27 348.95,298.26 349.39,298.26 349.83,298.26 350.27,298.26 350.71,298.26 351.15,298.26 351.59,298.26 352.03,298.26 352.47,298.25 352.91,298.25 353.35,298.25 353.80,298.25 354.24,298.25 354.68,298.25 355.12,298.25 355.56,298.24 356.00,298.24 356.44,298.24 356.88,298.24 357.32,298.24 357.76,298.24 358.20,298.24 358.64,298.24 359.08,298.24 359.52,298.23 359.96,298.23 360.40,298.23" fill="none" stroke="#2ca02c" stroke-width="1.9" stroke-dasharray="5.9,2.6"/><polyline points="89.40,460.55 89.85,458.45 90.30,456.38 90.76,454.33 91.21,452.32 91.66,450.32 92.11,448.36 92.57,446.42 93.02,444.50 93.47,442.61 93.92,440.74 94.38,438.90 94.83,437.08 95.28,435.28 95.73,433.51 96.19,431.76 96.64,430.04 97.09,428.33 97.54,426.65 98.00,424.99 98.45,423.35 98.90,421.73 99.35,420.13 99.81,418.56 100.26,417.00 100.71,415.47 101.16,413.95 101.62,412.45 102.07,410.98 102.52,409.52 102.97,408.08 103.43,406.66 103.88,405.26 104.33,403.87 104.78,402.50 105.23,401.16 105.69,399.83 106.14,398.51 106.59,397.21 107.04,395.93 107.50,394.67 107.95,393.42 108.40,392.19 108.85,390.98 109.31,389.78 109.76,388.59 110.21,387.42 110.66,386.27 111.12,385.13 111.57,384.01 112.02,382.90 112.47,381.80 112.93,380.72 113.38,379.65 113.83,378.60 114.28,377.56 114.74,376.53 115.19,375.52 115.64,374.52 116.09,373.53 116.55,372.56 117.00,371.60 117.45,370.65 117.90,369.71 118.35,368.79 118.81,367.87 119.26,366.97 119.71,366.08 120.16,365.21 120.62,364.34 121.07,363.48 121.52,362.64 121.97,361.81 122.43,360.98 122.88,360.17 123.33,359.37 123.78,358.58 124.24,357.80 124.69,357.03 125.14,356.27 125.59,355.52 126.05,354.77 126.50,354.04 126.95,353.32 127.40,352.61 127.86,351.90 128.31,351.21 128.76,350.52 129.21,349.85 129.67,349.18 130.12,348.52 130.57,347.87 131.02,347.22 131.48,346.59 131.93,345.96 132.38,345.35 132.83,344.74 133.28,344.13 133.74,343.54 134.19,342.95 134.64,342.37 135.09,341.80 135.55,341.24 136.00,340.68 136.45,340.13 136.90,339.59 137.36,339.05 137.81,338.53 138.26,338.00 138.71,337.49 139.17,336.98 139.62,336.48 140.07,335.98 140.52,335.49 140.98,335.01 141.43,334.54 141.88,334.07 142.33,333.60 142.79,333.14 143.24,332.69 143.69,332.24 144.14,331.80 144.60,331.37 145.05,330.94 145.50,330.52 145.95,330.10 146.41,329.68 146.86,329.28 147.31,328.87 147.76,328.48 148.21,328.09 148.67,327.70 149.12,327.32 149.57,326.94 150.02,326.57 150.48,326.20 150.93,325.84 151.38,325.48 151.83,325.13 152.29,324.78 152.74,324.43 153.19,324.09 153.64,323.76 154.10,323.43 154.55,323.10 155.00,322.78 155.45,322.46 155.91,322.15 156.36,321.84 156.81,321.53 157.26,321.23 157.72,320.93 158.17,320.64 158.62,320.35 159.07,320.06 159.53,319.78 159.98,319.50 160.43,319.22 160.88,318.95 161.33,318.68 161.79,318.41 162.24,318.15 162.69,317.89 163.14,317.64 163.60,317.39 164.05,317.14 164.50,316.89 164.95,316.65 165.41,316.41 165.86,316.17 166.31,315.94 166.76,315.71 167.22,315.48 167.67,315.26 168.12,315.04 168.57,314.82 169.03,314.61 169.48,314.39 169.93,314.18 170.38,313.98 170.84,313.77 171.29,313.57 171.74,313.37 172.19,313.17 172.65,312.98 173.10,312.79 173.55,312.60 174.00,312.41 174.46,312.23 174.91,312.05 175.36,311.87 175.81,311.69 176.26,311.51 176.72,311.34 177.17,311.17 177.62,311.00 178.07,310.84 178.53,310.67 178.98,310.51 179.43,310.35 179.88,310.19 180.34,310.04 180.79,309.88 181.24,309.73 181.69,309.58 182.15,309.43 182.60,309.29 183.05,309.15 183.50,309.00 183.96,308.86 184.41,308.72 184.86,308.59 185.31,308.45 185.77,308.32 186.22,308.19 186.67,308.06 187.12,307.93 187.58,307.80 188.03,307.68 188.48,307.56 188.93,307.43 189.38,307.31 189.84,307.20 190.29,307.08 190.74,306.96 191.19,306.85 191.65,306.74 192.10,306.63 192.55,306.52 193.00,306.41 193.46,306.30 193.91,306.20 194.36,306.09 194.81,305.99 195.27,305.89 195.72,305.79 196.17,305.69 196.62,305.59 197.08,305.50 197.53,305.40 197.98,305.31 198.43,305.22 198.89,305.12 199.34,305.03 199.79,304.94 200.24,304.86 200.70,304.77 201.15,304.68 201.60,304.60 202.05,304.52 202.51,304.43 202.96,304.35 203.41,304.27 203.86,304.19 204.31,304.12 204.77,304.04 205.22,303.96 205.67,303.89 206.12,303.81 206.58,303.74 207.03,303.67 207.48,303.60 207.93,303.53 208.39,303.46 208.84,303.39 209.29,303.32 209.74,303.25 210.20,303.19 210.65,303.12 211.10,303.06 211.55,303.00 212.01,302.93 212.46,302.87 212.91,302.81 213.36,302.75 213.82,302.69 214.27,302.63 214.72,302.57 215.17,302.52 215.63,302.46 216.08,302.40 216.53,302.35 216.98,302.29 217.44,302.24 217.89,302.19 218.34,302.14 218.79,302.08 219.24,302.03 219.70,301.98 220.15,301.93 220.60,301.89 221.05,301.84 221.51,301.79 221.96,301.74 222.41,301.70 222.86,301.65 223.32,301.60 223.77,301.56 224.22,301.52 224.67,301.47 225.13,301.43 225.58,301.39 226.03,301.35 226.48,301.30 226.94,301.26 227.39,301.22 227.84,301.18 228.29,301.14 228.75,301.11 229.20,301.07 229.65,301.03 230.10,300.99 230.56,300.96 231.01,300.92 231.46,300.88 231.91,300.85 232.36,300.81 232.82,300.78 233.27,300.74 233.72,300.71 234.17,300.68 234.63,300.65 235.08,300.61 235.53,300.58 235.98,300.55 236.44,300.52 236.89,300.49 237.34,300.46 237.79,300.43 238.25,300.40 238.70,300.37 239.15,300.34 239.60,300.31 240.06,300.29 240.51,300.26 240.96,300.23 241.41,300.20 241.87,300.18 242.32,300.15 242.77,300.12 243.22,300.10 243.68,300.07 244.13,300.05 244.58,300.02 245.03,300.00 245.49,299.98 245.94,299.95 246.39,299.93 246.84,299.91 247.29,299.88 247.75,299.86 248.20,299.84 248.65,299.82 249.10,299.80 249.56,299.77 250.01,299.75 250.46,299.73 250.91,299.71 251.37,299.69 251.82,299.67 252.27,299.65 252.72,299.63 253.18,299.61 253.63,299.60 254.08,299.58 254.53,299.56 254.99,299.54 255.44,299.52 255.89,299.50 256.34,299.49 256.80,299.47 257.25,299.45 257.70,299.44 258.15,299.42 258.61,299.40 259.06,299.39 259.51,299.37 259.96,299.35 260.42,299.34 260.87,299.32 261.32,299.31 261.77,299.29 262.22,299.28 262.68,299.26 263.13,299.25 263.58,299.24 264.03,299.22 264.49,299.21 264.94,299.19 265.39,299.18 265.84,299.17 266.30,299.15 266.75,299.14 267.20,299.13 267.65,299.12 268.11,299.10 268.56,299.09 269.01,299.08 269.46,299.07 269.92,299.05 270.37,299.04 270.82,299.03 271.27,299.02 271.73,299.01 272.18,299.00 272.63,298.99 273.08,298.98 273.54,298.97 273.99,298.95 274.44,298.94 274.89,298.93 275.34,298.92 275.80,298.91 276.25,298.90 276.70,298.89 277.15,298.88 277.61,298.88 278.06,298.87 278.51,298.86 278.96,298.85 279.42,298.84 279.87,298.83 280.32,298.82 280.77,298.81 281.23,298.80 281.68,298.80 282.13,298.79 282.58,298.78 283.04,298.77 283.49,298.76 283.94,298.75 284.39,298.75 284.85,298.74 285.30,298.73 285.75,298.72 286.20,298.72 286.66,298.71 287.11,298.70 287.56,298.69 288.01,298.69 288.47,298.68 288.92,298.67 289.37,298.67 289.82,298.66 290.27,298.65 290.73,298.65 291.18,298.64 291.63,298.63 292.08,298.63 292.54,298.62 292.99,298.62 293.44,298.61 293.89,298.60 294.35,298.60 294.80,298.59 295.25,298.59 295.70,298.58 296.16,298.58 296.61,298.57 297.06,298.56 297.51,298.56 297.97,298.55 298.42,298.55 298.87,298.54 299.32,298.54 299.78,298.53 300.23,298.53 300.68,298.52 301.13,298.52 301.59,298.51 302.04,298.51 302.49,298.50 302.94,298.50 303.39,298.50 303.85,298.49 304.30,298.49 304.75,298.48 305.20,298.48 305.66,298.47 306.11,298.47 306.56,298.47 307.01,298.46 307.47,298.46 307.92,298.45 308.37,298.45 308.82,298.45 309.28,298.44 309.73,298.44 310.18,298.43 310.63,298.43 311.09,298.43 311.54,298.42 311.99,298.42 312.44,298.42 312.90,298.41 313.35,298.41 313.80,298.41 314.25,298.40 314.71,298.40 315.16,298.40 315.61,298.39 316.06,298.39 316.52,298.39 316.97,298.38 317.42,298.38 317.87,298.38 318.32,298.37 318.78,298.37 319.23,298.37 319.68,298.37 320.13,298.36 320.59,298.36 321.04,298.36 321.49,298.36 321.94,298.35 322.40,298.35 322.85,298.35 323.30,298.34 323.75,298.34 324.21,298.34 324.66,298.34 325.11,298.34 325.56,298.33 326.02,298.33 326.47,298.33 326.92,298.33 327.37,298.32 327.83,298.32 328.28,298.32 328.73,298.32 329.18,298.31 329.64,298.31 330.09,298.31 330.54,298.31 330.99,298.31 331.45,298.30 331.90,298.30 332.35,298.30 332.80,298.30 333.25,298.30 333.71,298.29 334.16,298.29 334.61,298.29 335.06,298.29 335.52,298.29 335.97,298.29 336.42,298.28 336.87,298.28 337.33,298.28 337.78,298.28 338.23,298.28 338.68,298.28 339.14,298.27 339.59,298.27 340.04,298.27 340.49,298.27 340.95,298.27 341.40,298.27 341.85,298.26 342.30,298.26 342.76,298.26 343.21,298.26 343.66,298.26 344.11,298.26 344.57,298.26 345.02,298.25 345.47,298.25 345.92,298.25 346.37,298.25 346.83,298.25 347.28,298.25 347.73,298.25 348.18,298.25 348.64,298.24 349.09,298.24 349.54,298.24 349.99,298.24 350.45,298.24 350.90,298.24 351.35,298.24 351.80,298.24 352.26,298.23 352.71,298.23 353.16,298.23 353.61,298.23 354.07,298.23 354.52,298.23 354.97,298.23 355.42,298.23 355.88,298.23 356.33,298.23 356.78,298.22 357.23,298.22 357.69,298.22 358.14,298.22 358.59,298.22 359.04,298.22 359.50,298.22 359.95,298.22 360.40,298.22" fill="none" stroke="#d62728" stroke-width="1.9" stroke-dasharray="5.9,2.6"/></g>
<line x1="89.4" y1="290.03" x2="89.4" y2="460.55" stroke="#111" stroke-width="1.1" stroke-linecap="square"/>
<line x1="89.4" y1="460.55" x2="360.4" y2="460.55" stroke="#111" stroke-width="1.1" stroke-linecap="square"/>
<line x1="85.4" y1="460.55" x2="89.4" y2="460.55" stroke="#111" stroke-width="1.0"/>
<text x="82.2" y="464.75" text-anchor="end" font-size="11.0">0.0</text>
<line x1="85.4" y1="428.07" x2="89.4" y2="428.07" stroke="#111" stroke-width="1.0"/>
<text x="82.2" y="432.27" text-anchor="end" font-size="11.0">0.2</text>
<line x1="85.4" y1="395.59000000000003" x2="89.4" y2="395.59000000000003" stroke="#111" stroke-width="1.0"/>
<text x="82.2" y="399.79" text-anchor="end" font-size="11.0">0.4</text>
<line x1="85.4" y1="363.11" x2="89.4" y2="363.11" stroke="#111" stroke-width="1.0"/>
<text x="82.2" y="367.31" text-anchor="end" font-size="11.0">0.6</text>
<line x1="85.4" y1="330.63" x2="89.4" y2="330.63" stroke="#111" stroke-width="1.0"/>
<text x="82.2" y="334.83" text-anchor="end" font-size="11.0">0.8</text>
<line x1="85.4" y1="298.15" x2="89.4" y2="298.15" stroke="#111" stroke-width="1.0"/>
<text x="82.2" y="302.34999999999997" text-anchor="end" font-size="11.0"><tspan class="o">1</tspan>.0</text>
<line x1="89.4" y1="460.55" x2="89.4" y2="464.15000000000003" stroke="#111" stroke-width="1.0"/>
<text x="89.4" y="475.15000000000003" text-anchor="middle" font-size="11.0">0</text>
<line x1="137.7065953654189" y1="460.55" x2="137.7065953654189" y2="464.15000000000003" stroke="#111" stroke-width="1.0"/>
<text x="137.7065953654189" y="475.15000000000003" text-anchor="middle" font-size="11.0"><tspan class="o">1</tspan>0</text>
<line x1="186.01319073083778" y1="460.55" x2="186.01319073083778" y2="464.15000000000003" stroke="#111" stroke-width="1.0"/>
<text x="186.01319073083778" y="475.15000000000003" text-anchor="middle" font-size="11.0">20</text>
<line x1="234.31978609625668" y1="460.55" x2="234.31978609625668" y2="464.15000000000003" stroke="#111" stroke-width="1.0"/>
<text x="234.31978609625668" y="475.15000000000003" text-anchor="middle" font-size="11.0">30</text>
<line x1="282.6263814616756" y1="460.55" x2="282.6263814616756" y2="464.15000000000003" stroke="#111" stroke-width="1.0"/>
<text x="282.6263814616756" y="475.15000000000003" text-anchor="middle" font-size="11.0">40</text>
<line x1="330.9329768270945" y1="460.55" x2="330.9329768270945" y2="464.15000000000003" stroke="#111" stroke-width="1.0"/>
<text x="330.9329768270945" y="475.15000000000003" text-anchor="middle" font-size="11.0">50</text>
<text x="343.3" y="318.0" text-anchor="middle" font-size="11.6" font-weight="bold" style="stroke-width:0">(b)</text>
<g clip-path="url(#c11)"><polyline points="435.99,460.55 435.99,346.87 438.49,346.87 438.49,344.41 440.99,344.41 440.99,340.94 443.48,340.94 443.48,337.65 445.98,337.65 445.98,334.82 448.48,334.82 448.48,332.46 450.97,332.46 450.97,330.08 453.47,330.08 453.47,327.70 455.97,327.70 455.97,325.35 458.46,325.35 458.46,323.70 460.96,323.70 460.96,322.06 463.46,322.06 463.46,320.44 465.95,320.44 465.95,319.08 468.45,319.08 468.45,317.71 470.95,317.71 470.95,316.35 473.44,316.35 473.44,315.01 475.94,315.01 475.94,313.80 478.44,313.80 478.44,312.58 480.93,312.58 480.93,311.37 483.43,311.37 483.43,310.29 485.93,310.29 485.93,309.58 488.42,309.58 488.42,308.87 490.92,308.87 490.92,308.15 493.42,308.15 493.42,307.44 495.91,307.44 495.91,306.73 498.41,306.73 498.41,306.12 500.91,306.12 500.91,305.69 503.40,305.69 503.40,305.26 505.90,305.26 505.90,304.84 508.40,304.84 508.40,304.41 510.89,304.41 510.89,303.98 513.39,303.98 513.39,303.55 515.89,303.55 515.89,303.21 518.38,303.21 518.38,302.94 520.88,302.94 520.88,302.67 523.38,302.67 523.38,302.40 525.87,302.40 525.87,302.12 528.37,302.12 528.37,301.85 530.87,301.85 530.87,301.58 533.36,301.58 533.36,301.31 535.86,301.31 535.86,301.12 538.36,301.12 538.36,300.96 540.85,300.96 540.85,300.80 543.35,300.80 543.35,300.63 545.85,300.63 545.85,300.47 548.34,300.47 548.34,300.31 550.84,300.31 550.84,300.15 553.34,300.15 553.34,299.98 555.83,299.98 555.83,299.82 558.33,299.82 558.33,299.71 560.82,299.71 560.82,299.63 563.32,299.63 563.32,299.54 565.82,299.54 565.82,299.46 568.31,299.46 568.31,299.37 570.81,299.37 570.81,299.29 573.31,299.29 573.31,299.20 575.80,299.20 575.80,299.11 578.30,299.11 578.30,299.03 580.80,299.03 580.80,298.94 583.29,298.94 583.29,298.86 585.79,298.86 585.79,298.78 588.29,298.78 588.29,298.72 590.78,298.72 590.78,298.67 593.28,298.67 593.28,298.61 595.78,298.61 595.78,298.55 598.27,298.55 598.27,298.50 600.77,298.50 600.77,298.44 603.27,298.44 603.27,298.38 605.76,298.38 605.76,298.33 608.26,298.33 608.26,298.27 610.76,298.27 610.76,298.21 613.25,298.21 613.25,298.15 615.75,298.15 615.75,298.15 618.25,298.15 618.25,298.15 620.74,298.15 620.74,298.15 623.24,298.15 623.24,298.15 625.74,298.15 625.74,298.15 628.23,298.15 628.23,298.15 630.73,298.15 630.73,298.15 633.23,298.15 633.23,298.15 635.72,298.15 635.72,298.15 638.22,298.15 638.22,298.15 640.72,298.15 640.72,298.15 643.21,298.15 643.21,298.15 645.71,298.15 645.71,298.15 648.21,298.15 648.21,298.15 650.70,298.15 650.70,298.15 653.20,298.15 653.20,298.15 655.70,298.15 655.70,298.15 658.19,298.15 658.19,298.15 660.69,298.15 660.69,298.15 663.19,298.15 663.19,298.15 665.68,298.15 665.68,298.15 668.18,298.15 668.18,298.15 670.68,298.15 670.68,298.15 673.17,298.15 673.17,298.15 675.67,298.15 675.67,298.15 678.17,298.15 678.17,298.15 680.66,298.15 680.66,298.15 683.16,298.15 683.16,298.15 685.66,298.15" fill="none" stroke="#ff7f0e" stroke-width="2.0" stroke-linejoin="miter"/><polyline points="435.64,460.55 436.06,458.58 436.47,456.63 436.89,454.71 437.31,452.81 437.72,450.93 438.14,449.08 438.56,447.25 438.97,445.44 439.39,443.65 439.81,441.89 440.22,440.14 440.64,438.42 441.06,436.72 441.47,435.04 441.89,433.38 442.31,431.73 442.72,430.11 443.14,428.51 443.56,426.93 443.97,425.37 444.39,423.82 444.81,422.30 445.22,420.79 445.64,419.31 446.06,417.84 446.48,416.38 446.89,414.95 447.31,413.53 447.73,412.13 448.14,410.75 448.56,409.38 448.98,408.03 449.39,406.70 449.81,405.38 450.23,404.08 450.64,402.80 451.06,401.53 451.48,400.27 451.89,399.03 452.31,397.81 452.73,396.60 453.14,395.40 453.56,394.22 453.98,393.06 454.39,391.91 454.81,390.77 455.23,389.65 455.64,388.54 456.06,387.44 456.48,386.36 456.90,385.29 457.31,384.23 457.73,383.18 458.15,382.15 458.56,381.13 458.98,380.13 459.40,379.13 459.81,378.15 460.23,377.18 460.65,376.22 461.06,375.27 461.48,374.34 461.90,373.41 462.31,372.50 462.73,371.60 463.15,370.70 463.56,369.82 463.98,368.95 464.40,368.10 464.81,367.25 465.23,366.41 465.65,365.58 466.06,364.76 466.48,363.95 466.90,363.16 467.32,362.37 467.73,361.59 468.15,360.82 468.57,360.06 468.98,359.31 469.40,358.56 469.82,357.83 470.23,357.11 470.65,356.39 471.07,355.69 471.48,354.99 471.90,354.30 472.32,353.62 472.73,352.94 473.15,352.28 473.57,351.62 473.98,350.97 474.40,350.33 474.82,349.70 475.23,349.07 475.65,348.46 476.07,347.84 476.48,347.24 476.90,346.65 477.32,346.06 477.74,345.48 478.15,344.90 478.57,344.33 478.99,343.77 479.40,343.22 479.82,342.67 480.24,342.13 480.65,341.60 481.07,341.07 481.49,340.55 481.90,340.04 482.32,339.53 482.74,339.03 483.15,338.53 483.57,338.04 483.99,337.56 484.40,337.08 484.82,336.61 485.24,336.14 485.65,335.68 486.07,335.22 486.49,334.77 486.90,334.33 487.32,333.89 487.74,333.46 488.16,333.03 488.57,332.61 488.99,332.19 489.41,331.77 489.82,331.37 490.24,330.96 490.66,330.57 491.07,330.17 491.49,329.78 491.91,329.40 492.32,329.02 492.74,328.65 493.16,328.28 493.57,327.91 493.99,327.55 494.41,327.19 494.82,326.84 495.24,326.49 495.66,326.15 496.07,325.81 496.49,325.47 496.91,325.14 497.32,324.81 497.74,324.49 498.16,324.17 498.57,323.85 498.99,323.54 499.41,323.23 499.83,322.93 500.24,322.63 500.66,322.33 501.08,322.04 501.49,321.75 501.91,321.46 502.33,321.18 502.74,320.90 503.16,320.62 503.58,320.35 503.99,320.08 504.41,319.82 504.83,319.55 505.24,319.29 505.66,319.04 506.08,318.78 506.49,318.53 506.91,318.29 507.33,318.04 507.74,317.80 508.16,317.56 508.58,317.33 508.99,317.09 509.41,316.86 509.83,316.64 510.25,316.41 510.66,316.19 511.08,315.97 511.50,315.76 511.91,315.54 512.33,315.33 512.75,315.12 513.16,314.92 513.58,314.71 514.00,314.51 514.41,314.31 514.83,314.12 515.25,313.92 515.66,313.73 516.08,313.54 516.50,313.36 516.91,313.17 517.33,312.99 517.75,312.81 518.16,312.63 518.58,312.46 519.00,312.28 519.41,312.11 519.83,311.94 520.25,311.77 520.67,311.61 521.08,311.45 521.50,311.28 521.92,311.13 522.33,310.97 522.75,310.81 523.17,310.66 523.58,310.51 524.00,310.36 524.42,310.21 524.83,310.06 525.25,309.92 525.67,309.78 526.08,309.63 526.50,309.49 526.92,309.36 527.33,309.22 527.75,309.09 528.17,308.95 528.58,308.82 529.00,308.69 529.42,308.57 529.83,308.44 530.25,308.31 530.67,308.19 531.09,308.07 531.50,307.95 531.92,307.83 532.34,307.71 532.75,307.60 533.17,307.48 533.59,307.37 534.00,307.26 534.42,307.15 534.84,307.04 535.25,306.93 535.67,306.82 536.09,306.72 536.50,306.61 536.92,306.51 537.34,306.41 537.75,306.31 538.17,306.21 538.59,306.11 539.00,306.02 539.42,305.92 539.84,305.83 540.25,305.73 540.67,305.64 541.09,305.55 541.51,305.46 541.92,305.37 542.34,305.28 542.76,305.20 543.17,305.11 543.59,305.03 544.01,304.94 544.42,304.86 544.84,304.78 545.26,304.70 545.67,304.62 546.09,304.54 546.51,304.46 546.92,304.39 547.34,304.31 547.76,304.24 548.17,304.16 548.59,304.09 549.01,304.02 549.42,303.95 549.84,303.88 550.26,303.81 550.67,303.74 551.09,303.67 551.51,303.60 551.92,303.54 552.34,303.47 552.76,303.41 553.18,303.34 553.59,303.28 554.01,303.22 554.43,303.16 554.84,303.10 555.26,303.04 555.68,302.98 556.09,302.92 556.51,302.86 556.93,302.80 557.34,302.75 557.76,302.69 558.18,302.64 558.59,302.58 559.01,302.53 559.43,302.47 559.84,302.42 560.26,302.37 560.68,302.32 561.09,302.27 561.51,302.22 561.93,302.17 562.34,302.12 562.76,302.07 563.18,302.02 563.60,301.98 564.01,301.93 564.43,301.89 564.85,301.84 565.26,301.80 565.68,301.75 566.10,301.71 566.51,301.66 566.93,301.62 567.35,301.58 567.76,301.54 568.18,301.50 568.60,301.46 569.01,301.42 569.43,301.38 569.85,301.34 570.26,301.30 570.68,301.26 571.10,301.22 571.51,301.19 571.93,301.15 572.35,301.11 572.76,301.08 573.18,301.04 573.60,301.01 574.02,300.97 574.43,300.94 574.85,300.90 575.27,300.87 575.68,300.84 576.10,300.80 576.52,300.77 576.93,300.74 577.35,300.71 577.77,300.68 578.18,300.65 578.60,300.62 579.02,300.59 579.43,300.56 579.85,300.53 580.27,300.50 580.68,300.47 581.10,300.44 581.52,300.41 581.93,300.39 582.35,300.36 582.77,300.33 583.18,300.31 583.60,300.28 584.02,300.25 584.44,300.23 584.85,300.20 585.27,300.18 585.69,300.15 586.10,300.13 586.52,300.11 586.94,300.08 587.35,300.06 587.77,300.04 588.19,300.01 588.60,299.99 589.02,299.97 589.44,299.95 589.85,299.92 590.27,299.90 590.69,299.88 591.10,299.86 591.52,299.84 591.94,299.82 592.35,299.80 592.77,299.78 593.19,299.76 593.60,299.74 594.02,299.72 594.44,299.70 594.86,299.68 595.27,299.66 595.69,299.65 596.11,299.63 596.52,299.61 596.94,299.59 597.36,299.57 597.77,299.56 598.19,299.54 598.61,299.52 599.02,299.51 599.44,299.49 599.86,299.47 600.27,299.46 600.69,299.44 601.11,299.43 601.52,299.41 601.94,299.39 602.36,299.38 602.77,299.36 603.19,299.35 603.61,299.34 604.02,299.32 604.44,299.31 604.86,299.29 605.27,299.28 605.69,299.27 606.11,299.25 606.53,299.24 606.94,299.23 607.36,299.21 607.78,299.20 608.19,299.19 608.61,299.17 609.03,299.16 609.44,299.15 609.86,299.14 610.28,299.13 610.69,299.11 611.11,299.10 611.53,299.09 611.94,299.08 612.36,299.07 612.78,299.06 613.19,299.05 613.61,299.03 614.03,299.02 614.44,299.01 614.86,299.00 615.28,298.99 615.69,298.98 616.11,298.97 616.53,298.96 616.95,298.95 617.36,298.94 617.78,298.93 618.20,298.92 618.61,298.91 619.03,298.90 619.45,298.90 619.86,298.89 620.28,298.88 620.70,298.87 621.11,298.86 621.53,298.85 621.95,298.84 622.36,298.83 622.78,298.83 623.20,298.82 623.61,298.81 624.03,298.80 624.45,298.79 624.86,298.79 625.28,298.78 625.70,298.77 626.11,298.76 626.53,298.76 626.95,298.75 627.37,298.74 627.78,298.73 628.20,298.73 628.62,298.72 629.03,298.71 629.45,298.71 629.87,298.70 630.28,298.69 630.70,298.69 631.12,298.68 631.53,298.67 631.95,298.67 632.37,298.66 632.78,298.65 633.20,298.65 633.62,298.64 634.03,298.64 634.45,298.63 634.87,298.62 635.28,298.62 635.70,298.61 636.12,298.61 636.53,298.60 636.95,298.60 637.37,298.59 637.79,298.59 638.20,298.58 638.62,298.58 639.04,298.57 639.45,298.56 639.87,298.56 640.29,298.55 640.70,298.55 641.12,298.55 641.54,298.54 641.95,298.54 642.37,298.53 642.79,298.53 643.20,298.52 643.62,298.52 644.04,298.51 644.45,298.51 644.87,298.50 645.29,298.50 645.70,298.50 646.12,298.49 646.54,298.49 646.95,298.48 647.37,298.48 647.79,298.48 648.21,298.47 648.62,298.47 649.04,298.46 649.46,298.46 649.87,298.46 650.29,298.45 650.71,298.45 651.12,298.44 651.54,298.44 651.96,298.44 652.37,298.43 652.79,298.43 653.21,298.43 653.62,298.42 654.04,298.42 654.46,298.42 654.87,298.41 655.29,298.41 655.71,298.41 656.12,298.40 656.54,298.40 656.96,298.40 657.37,298.40 657.79,298.39 658.21,298.39 658.62,298.39 659.04,298.38 659.46,298.38 659.88,298.38 660.29,298.38 660.71,298.37 661.13,298.37 661.54,298.37 661.96,298.36 662.38,298.36 662.79,298.36 663.21,298.36 663.63,298.35 664.04,298.35 664.46,298.35 664.88,298.35 665.29,298.34 665.71,298.34 666.13,298.34 666.54,298.34 666.96,298.34 667.38,298.33 667.79,298.33 668.21,298.33 668.63,298.33 669.04,298.32 669.46,298.32 669.88,298.32 670.30,298.32 670.71,298.32 671.13,298.31 671.55,298.31 671.96,298.31 672.38,298.31 672.80,298.31 673.21,298.30 673.63,298.30 674.05,298.30 674.46,298.30 674.88,298.30 675.30,298.30 675.71,298.29 676.13,298.29 676.55,298.29 676.96,298.29 677.38,298.29 677.80,298.28 678.21,298.28 678.63,298.28 679.05,298.28 679.46,298.28 679.88,298.28 680.30,298.28 680.72,298.27 681.13,298.27 681.55,298.27 681.97,298.27 682.38,298.27 682.80,298.27 683.22,298.27 683.63,298.26 684.05,298.26 684.47,298.26 684.88,298.26 685.30,298.26" fill="none" stroke="#2ca02c" stroke-width="1.9" stroke-dasharray="5.9,2.6"/><polyline points="414.30,460.55 414.75,458.41 415.20,456.30 415.66,454.22 416.11,452.17 416.56,450.14 417.01,448.14 417.47,446.16 417.92,444.22 418.37,442.29 418.82,440.39 419.28,438.52 419.73,436.67 420.18,434.85 420.63,433.05 421.09,431.28 421.54,429.52 421.99,427.79 422.44,426.09 422.90,424.40 423.35,422.74 423.80,421.10 424.25,419.48 424.71,417.89 425.16,416.31 425.61,414.75 426.06,413.22 426.52,411.70 426.97,410.21 427.42,408.73 427.87,407.28 428.33,405.84 428.78,404.42 429.23,403.03 429.68,401.64 430.13,400.28 430.59,398.94 431.04,397.61 431.49,396.30 431.94,395.01 432.40,393.73 432.85,392.48 433.30,391.23 433.75,390.01 434.21,388.80 434.66,387.61 435.11,386.43 435.56,385.27 436.02,384.12 436.47,382.99 436.92,381.87 437.37,380.77 437.83,379.68 438.28,378.61 438.73,377.55 439.18,376.50 439.64,375.47 440.09,374.46 440.54,373.45 440.99,372.46 441.45,371.48 441.90,370.52 442.35,369.56 442.80,368.62 443.25,367.70 443.71,366.78 444.16,365.88 444.61,364.99 445.06,364.11 445.52,363.24 445.97,362.38 446.42,361.53 446.87,360.70 447.33,359.88 447.78,359.06 448.23,358.26 448.68,357.47 449.14,356.69 449.59,355.92 450.04,355.16 450.49,354.41 450.95,353.67 451.40,352.94 451.85,352.22 452.30,351.50 452.76,350.80 453.21,350.11 453.66,349.43 454.11,348.75 454.57,348.08 455.02,347.43 455.47,346.78 455.92,346.14 456.38,345.51 456.83,344.88 457.28,344.27 457.73,343.66 458.18,343.06 458.64,342.47 459.09,341.89 459.54,341.31 459.99,340.74 460.45,340.18 460.90,339.63 461.35,339.08 461.80,338.54 462.26,338.01 462.71,337.49 463.16,336.97 463.61,336.46 464.07,335.95 464.52,335.46 464.97,334.97 465.42,334.48 465.88,334.00 466.33,333.53 466.78,333.07 467.23,332.61 467.69,332.15 468.14,331.70 468.59,331.26 469.04,330.83 469.50,330.40 469.95,329.97 470.40,329.55 470.85,329.14 471.31,328.73 471.76,328.33 472.21,327.93 472.66,327.54 473.11,327.15 473.57,326.77 474.02,326.39 474.47,326.02 474.92,325.66 475.38,325.29 475.83,324.94 476.28,324.58 476.73,324.24 477.19,323.89 477.64,323.55 478.09,323.22 478.54,322.89 479.00,322.56 479.45,322.24 479.90,321.92 480.35,321.61 480.81,321.30 481.26,321.00 481.71,320.70 482.16,320.40 482.62,320.11 483.07,319.82 483.52,319.53 483.97,319.25 484.43,318.97 484.88,318.70 485.33,318.43 485.78,318.16 486.23,317.90 486.69,317.64 487.14,317.38 487.59,317.13 488.04,316.88 488.50,316.63 488.95,316.39 489.40,316.15 489.85,315.91 490.31,315.68 490.76,315.45 491.21,315.22 491.66,315.00 492.12,314.77 492.57,314.56 493.02,314.34 493.47,314.13 493.93,313.92 494.38,313.71 494.83,313.50 495.28,313.30 495.74,313.10 496.19,312.91 496.64,312.71 497.09,312.52 497.55,312.33 498.00,312.14 498.45,311.96 498.90,311.78 499.36,311.60 499.81,311.42 500.26,311.25 500.71,311.07 501.16,310.90 501.62,310.74 502.07,310.57 502.52,310.41 502.97,310.25 503.43,310.09 503.88,309.93 504.33,309.77 504.78,309.62 505.24,309.47 505.69,309.32 506.14,309.17 506.59,309.03 507.05,308.89 507.50,308.74 507.95,308.60 508.40,308.47 508.86,308.33 509.31,308.20 509.76,308.06 510.21,307.93 510.67,307.81 511.12,307.68 511.57,307.55 512.02,307.43 512.48,307.31 512.93,307.19 513.38,307.07 513.83,306.95 514.28,306.83 514.74,306.72 515.19,306.61 515.64,306.50 516.09,306.39 516.55,306.28 517.00,306.17 517.45,306.07 517.90,305.96 518.36,305.86 518.81,305.76 519.26,305.66 519.71,305.56 520.17,305.46 520.62,305.36 521.07,305.27 521.52,305.18 521.98,305.08 522.43,304.99 522.88,304.90 523.33,304.81 523.79,304.72 524.24,304.64 524.69,304.55 525.14,304.47 525.60,304.39 526.05,304.30 526.50,304.22 526.95,304.14 527.41,304.06 527.86,303.99 528.31,303.91 528.76,303.83 529.21,303.76 529.67,303.68 530.12,303.61 530.57,303.54 531.02,303.47 531.48,303.40 531.93,303.33 532.38,303.26 532.83,303.19 533.29,303.13 533.74,303.06 534.19,303.00 534.64,302.93 535.10,302.87 535.55,302.81 536.00,302.75 536.45,302.69 536.91,302.63 537.36,302.57 537.81,302.51 538.26,302.45 538.72,302.40 539.17,302.34 539.62,302.28 540.07,302.23 540.53,302.18 540.98,302.12 541.43,302.07 541.88,302.02 542.34,301.97 542.79,301.92 543.24,301.87 543.69,301.82 544.14,301.77 544.60,301.72 545.05,301.68 545.50,301.63 545.95,301.58 546.41,301.54 546.86,301.49 547.31,301.45 547.76,301.41 548.22,301.36 548.67,301.32 549.12,301.28 549.57,301.24 550.03,301.20 550.48,301.16 550.93,301.12 551.38,301.08 551.84,301.04 552.29,301.00 552.74,300.97 553.19,300.93 553.65,300.89 554.10,300.86 554.55,300.82 555.00,300.79 555.46,300.75 555.91,300.72 556.36,300.68 556.81,300.65 557.26,300.62 557.72,300.58 558.17,300.55 558.62,300.52 559.07,300.49 559.53,300.46 559.98,300.43 560.43,300.40 560.88,300.37 561.34,300.34 561.79,300.31 562.24,300.28 562.69,300.25 563.15,300.23 563.60,300.20 564.05,300.17 564.50,300.15 564.96,300.12 565.41,300.09 565.86,300.07 566.31,300.04 566.77,300.02 567.22,299.99 567.67,299.97 568.12,299.94 568.58,299.92 569.03,299.90 569.48,299.87 569.93,299.85 570.39,299.83 570.84,299.81 571.29,299.79 571.74,299.76 572.19,299.74 572.65,299.72 573.10,299.70 573.55,299.68 574.00,299.66 574.46,299.64 574.91,299.62 575.36,299.60 575.81,299.58 576.27,299.56 576.72,299.54 577.17,299.53 577.62,299.51 578.08,299.49 578.53,299.47 578.98,299.46 579.43,299.44 579.89,299.42 580.34,299.40 580.79,299.39 581.24,299.37 581.70,299.36 582.15,299.34 582.60,299.32 583.05,299.31 583.51,299.29 583.96,299.28 584.41,299.26 584.86,299.25 585.32,299.23 585.77,299.22 586.22,299.21 586.67,299.19 587.12,299.18 587.58,299.16 588.03,299.15 588.48,299.14 588.93,299.13 589.39,299.11 589.84,299.10 590.29,299.09 590.74,299.08 591.20,299.06 591.65,299.05 592.10,299.04 592.55,299.03 593.01,299.02 593.46,299.00 593.91,298.99 594.36,298.98 594.82,298.97 595.27,298.96 595.72,298.95 596.17,298.94 596.63,298.93 597.08,298.92 597.53,298.91 597.98,298.90 598.44,298.89 598.89,298.88 599.34,298.87 599.79,298.86 600.24,298.85 600.70,298.84 601.15,298.83 601.60,298.82 602.05,298.81 602.51,298.81 602.96,298.80 603.41,298.79 603.86,298.78 604.32,298.77 604.77,298.76 605.22,298.76 605.67,298.75 606.13,298.74 606.58,298.73 607.03,298.72 607.48,298.72 607.94,298.71 608.39,298.70 608.84,298.69 609.29,298.69 609.75,298.68 610.20,298.67 610.65,298.67 611.10,298.66 611.56,298.65 612.01,298.65 612.46,298.64 612.91,298.63 613.37,298.63 613.82,298.62 614.27,298.61 614.72,298.61 615.17,298.60 615.63,298.60 616.08,298.59 616.53,298.58 616.98,298.58 617.44,298.57 617.89,298.57 618.34,298.56 618.79,298.56 619.25,298.55 619.70,298.55 620.15,298.54 620.60,298.54 621.06,298.53 621.51,298.53 621.96,298.52 622.41,298.52 622.87,298.51 623.32,298.51 623.77,298.50 624.22,298.50 624.68,298.49 625.13,298.49 625.58,298.48 626.03,298.48 626.49,298.47 626.94,298.47 627.39,298.47 627.84,298.46 628.29,298.46 628.75,298.45 629.20,298.45 629.65,298.45 630.10,298.44 630.56,298.44 631.01,298.43 631.46,298.43 631.91,298.43 632.37,298.42 632.82,298.42 633.27,298.42 633.72,298.41 634.18,298.41 634.63,298.41 635.08,298.40 635.53,298.40 635.99,298.40 636.44,298.39 636.89,298.39 637.34,298.39 637.80,298.38 638.25,298.38 638.70,298.38 639.15,298.37 639.61,298.37 640.06,298.37 640.51,298.37 640.96,298.36 641.42,298.36 641.87,298.36 642.32,298.35 642.77,298.35 643.22,298.35 643.68,298.35 644.13,298.34 644.58,298.34 645.03,298.34 645.49,298.34 645.94,298.33 646.39,298.33 646.84,298.33 647.30,298.33 647.75,298.32 648.20,298.32 648.65,298.32 649.11,298.32 649.56,298.32 650.01,298.31 650.46,298.31 650.92,298.31 651.37,298.31 651.82,298.30 652.27,298.30 652.73,298.30 653.18,298.30 653.63,298.30 654.08,298.29 654.54,298.29 654.99,298.29 655.44,298.29 655.89,298.29 656.35,298.29 656.80,298.28 657.25,298.28 657.70,298.28 658.15,298.28 658.61,298.28 659.06,298.28 659.51,298.27 659.96,298.27 660.42,298.27 660.87,298.27 661.32,298.27 661.77,298.27 662.23,298.26 662.68,298.26 663.13,298.26 663.58,298.26 664.04,298.26 664.49,298.26 664.94,298.26 665.39,298.25 665.85,298.25 666.30,298.25 666.75,298.25 667.20,298.25 667.66,298.25 668.11,298.25 668.56,298.24 669.01,298.24 669.47,298.24 669.92,298.24 670.37,298.24 670.82,298.24 671.27,298.24 671.73,298.24 672.18,298.24 672.63,298.23 673.08,298.23 673.54,298.23 673.99,298.23 674.44,298.23 674.89,298.23 675.35,298.23 675.80,298.23 676.25,298.23 676.70,298.22 677.16,298.22 677.61,298.22 678.06,298.22 678.51,298.22 678.97,298.22 679.42,298.22 679.87,298.22 680.32,298.22 680.78,298.22 681.23,298.22 681.68,298.21 682.13,298.21 682.59,298.21 683.04,298.21 683.49,298.21 683.94,298.21 684.40,298.21 684.85,298.21 685.30,298.21" fill="none" stroke="#d62728" stroke-width="1.9" stroke-dasharray="5.9,2.6"/></g>
<line x1="414.3" y1="290.03" x2="414.3" y2="460.55" stroke="#111" stroke-width="1.1" stroke-linecap="square"/>
<line x1="414.3" y1="460.55" x2="685.3" y2="460.55" stroke="#111" stroke-width="1.1" stroke-linecap="square"/>
<line x1="410.3" y1="460.55" x2="414.3" y2="460.55" stroke="#111" stroke-width="1.0"/>
<text x="406.0" y="464.75" text-anchor="end" font-size="11.0">0.0</text>
<line x1="410.3" y1="428.07" x2="414.3" y2="428.07" stroke="#111" stroke-width="1.0"/>
<text x="406.0" y="432.27" text-anchor="end" font-size="11.0">0.2</text>
<line x1="410.3" y1="395.59000000000003" x2="414.3" y2="395.59000000000003" stroke="#111" stroke-width="1.0"/>
<text x="406.0" y="399.79" text-anchor="end" font-size="11.0">0.4</text>
<line x1="410.3" y1="363.11" x2="414.3" y2="363.11" stroke="#111" stroke-width="1.0"/>
<text x="406.0" y="367.31" text-anchor="end" font-size="11.0">0.6</text>
<line x1="410.3" y1="330.63" x2="414.3" y2="330.63" stroke="#111" stroke-width="1.0"/>
<text x="406.0" y="334.83" text-anchor="end" font-size="11.0">0.8</text>
<line x1="410.3" y1="298.15" x2="414.3" y2="298.15" stroke="#111" stroke-width="1.0"/>
<text x="406.0" y="302.34999999999997" text-anchor="end" font-size="11.0"><tspan class="o">1</tspan>.0</text>
<line x1="414.3" y1="460.55" x2="414.3" y2="464.15000000000003" stroke="#111" stroke-width="1.0"/>
<text x="414.3" y="475.15000000000003" text-anchor="middle" font-size="11.0">0.0</text>
<line x1="449.86430446194225" y1="460.55" x2="449.86430446194225" y2="464.15000000000003" stroke="#111" stroke-width="1.0"/>
<text x="449.86430446194225" y="475.15000000000003" text-anchor="middle" font-size="11.0">2.5</text>
<line x1="485.42860892388455" y1="460.55" x2="485.42860892388455" y2="464.15000000000003" stroke="#111" stroke-width="1.0"/>
<text x="485.42860892388455" y="475.15000000000003" text-anchor="middle" font-size="11.0">5.0</text>
<line x1="520.9929133858268" y1="460.55" x2="520.9929133858268" y2="464.15000000000003" stroke="#111" stroke-width="1.0"/>
<text x="520.9929133858268" y="475.15000000000003" text-anchor="middle" font-size="11.0">7.5</text>
<line x1="556.557217847769" y1="460.55" x2="556.557217847769" y2="464.15000000000003" stroke="#111" stroke-width="1.0"/>
<text x="556.557217847769" y="475.15000000000003" text-anchor="middle" font-size="11.0"><tspan class="o">1</tspan>0.0</text>
<line x1="592.1215223097113" y1="460.55" x2="592.1215223097113" y2="464.15000000000003" stroke="#111" stroke-width="1.0"/>
<text x="592.1215223097113" y="475.15000000000003" text-anchor="middle" font-size="11.0"><tspan class="o">1</tspan>2.5</text>
<line x1="627.6858267716535" y1="460.55" x2="627.6858267716535" y2="464.15000000000003" stroke="#111" stroke-width="1.0"/>
<text x="627.6858267716535" y="475.15000000000003" text-anchor="middle" font-size="11.0"><tspan class="o">1</tspan>5.0</text>
<line x1="663.2501312335958" y1="460.55" x2="663.2501312335958" y2="464.15000000000003" stroke="#111" stroke-width="1.0"/>
<text x="663.2501312335958" y="475.15000000000003" text-anchor="middle" font-size="11.0"><tspan class="o">1</tspan>7.5</text>
<text x="671.5" y="318.0" text-anchor="middle" font-size="11.6" font-weight="bold" style="stroke-width:0">(e)</text>
<g clip-path="url(#c20)"><path d="M97.99 612.28h1.2v1.2h-1.2zM100.55 604.65h1.2v1.2h-1.2zM103.11 596.95h1.2v1.2h-1.2zM105.68 591.40h1.2v1.2h-1.2zM108.24 584.49h1.2v1.2h-1.2zM110.80 579.05h1.2v1.2h-1.2zM113.36 575.03h1.2v1.2h-1.2zM115.92 568.86h1.2v1.2h-1.2zM118.48 565.13h1.2v1.2h-1.2zM121.04 561.15h1.2v1.2h-1.2zM123.60 556.69h1.2v1.2h-1.2zM126.16 552.21h1.2v1.2h-1.2zM128.72 548.46h1.2v1.2h-1.2zM131.28 544.99h1.2v1.2h-1.2zM133.84 541.96h1.2v1.2h-1.2zM136.40 538.56h1.2v1.2h-1.2zM138.96 535.46h1.2v1.2h-1.2zM141.52 533.44h1.2v1.2h-1.2zM144.08 531.85h1.2v1.2h-1.2zM146.64 530.25h1.2v1.2h-1.2zM149.20 528.11h1.2v1.2h-1.2zM151.76 525.97h1.2v1.2h-1.2zM154.32 523.94h1.2v1.2h-1.2zM156.88 522.37h1.2v1.2h-1.2zM159.44 520.80h1.2v1.2h-1.2zM162.00 519.23h1.2v1.2h-1.2z" fill="#1f77b4" fill-opacity="0.75"/><polyline points="96.98,664.80 96.98,621.93 99.54,621.93 99.54,613.83 102.10,613.83 102.10,606.20 104.66,606.20 104.66,598.50 107.23,598.50 107.23,592.95 109.79,592.95 109.79,586.04 112.35,586.04 112.35,580.60 114.91,580.60 114.91,576.58 117.47,576.58 117.47,570.40 120.03,570.40 120.03,566.68 122.59,566.68 122.59,562.70 125.15,562.70 125.15,558.24 127.71,558.24 127.71,553.76 130.27,553.76 130.27,550.01 132.83,550.01 132.83,546.54 135.39,546.54 135.39,543.51 137.95,543.51 137.95,540.11 140.51,540.11 140.51,537.01 143.07,537.01 143.07,534.99 145.63,534.99 145.63,533.40 148.19,533.40 148.19,531.80 150.75,531.80 150.75,529.66 153.31,529.66 153.31,527.52 155.87,527.52 155.87,525.49 158.43,525.49 158.43,523.92 160.99,523.92 160.99,522.35 163.55,522.35 163.55,520.78 166.11,520.78 166.11,519.41 168.67,519.41 168.67,518.39 171.23,518.39 171.23,517.37 173.79,517.37 173.79,516.35 176.35,516.35 176.35,515.33 178.91,515.33 178.91,514.52 181.47,514.52 181.47,513.87 184.03,513.87 184.03,513.22 186.59,513.22 186.59,512.57 189.15,512.57 189.15,511.92 191.71,511.92 191.71,511.27 194.27,511.27 194.27,510.69 196.83,510.69 196.83,510.13 199.39,510.13 199.39,509.57 201.95,509.57 201.95,509.00 204.51,509.00 204.51,508.44 207.07,508.44 207.07,507.88 209.64,507.88 209.64,507.37 212.20,507.37 212.20,507.05 214.76,507.05 214.76,506.73 217.32,506.73 217.32,506.41 219.88,506.41 219.88,506.08 222.44,506.08 222.44,505.76 225.00,505.76 225.00,505.46 227.56,505.46 227.56,505.27 230.12,505.27 230.12,505.07 232.68,505.07 232.68,504.88 235.24,504.88 235.24,504.69 237.80,504.69 237.80,504.49 240.36,504.49 240.36,504.30 242.92,504.30 242.92,504.10 245.48,504.10 245.48,503.97 248.04,503.97 248.04,503.86 250.60,503.86 250.60,503.76 253.16,503.76 253.16,503.66 255.72,503.66 255.72,503.56 258.28,503.56 258.28,503.46 260.84,503.46 260.84,503.36 263.40,503.36 263.40,503.26 265.96,503.26 265.96,503.16 268.52,503.16 268.52,503.06 271.08,503.06 271.08,502.96 273.64,502.96 273.64,502.88 276.20,502.88 276.20,502.84 278.76,502.84 278.76,502.80 281.32,502.80 281.32,502.77 283.88,502.77 283.88,502.73 286.44,502.73 286.44,502.69 289.00,502.69 289.00,502.66 291.56,502.66 291.56,502.62 294.12,502.62 294.12,502.58 296.68,502.58 296.68,502.55 299.24,502.55 299.24,502.51 301.80,502.51 301.80,502.47 304.36,502.47 304.36,502.43 306.92,502.43 306.92,502.40 309.48,502.40 309.48,502.40 312.05,502.40 312.05,502.40 314.61,502.40 314.61,502.40 317.17,502.40 317.17,502.40 319.73,502.40 319.73,502.40 322.29,502.40 322.29,502.40 324.85,502.40 324.85,502.40 327.41,502.40 327.41,502.40 329.97,502.40 329.97,502.40 332.53,502.40 332.53,502.40 335.09,502.40 335.09,502.40 337.65,502.40 337.65,502.40 340.21,502.40 340.21,502.40 342.77,502.40 342.77,502.40 345.33,502.40 345.33,502.40 347.89,502.40 347.89,502.40 350.45,502.40 350.45,502.40 353.01,502.40 353.01,502.40 355.57,502.40 355.57,502.40 358.13,502.40 358.13,502.40 360.69,502.40" fill="none" stroke="#ff7f0e" stroke-width="2.0" stroke-linejoin="miter"/><polyline points="96.65,664.80 97.09,662.76 97.53,660.74 97.97,658.75 98.41,656.78 98.85,654.84 99.29,652.92 99.73,651.03 100.17,649.16 100.61,647.31 101.05,645.49 101.49,643.69 101.93,641.91 102.37,640.16 102.81,638.42 103.25,636.71 103.69,635.02 104.13,633.35 104.57,631.71 105.01,630.08 105.45,628.47 105.89,626.89 106.33,625.32 106.77,623.77 107.21,622.25 107.65,620.74 108.09,619.25 108.53,617.78 108.98,616.33 109.42,614.90 109.86,613.48 110.30,612.08 110.74,610.70 111.18,609.34 111.62,608.00 112.06,606.67 112.50,605.36 112.94,604.06 113.38,602.78 113.82,601.52 114.26,600.27 114.70,599.04 115.14,597.83 115.58,596.62 116.02,595.44 116.46,594.27 116.90,593.11 117.34,591.97 117.78,590.85 118.22,589.73 118.66,588.63 119.10,587.55 119.54,586.48 119.98,585.42 120.42,584.38 120.86,583.34 121.30,582.33 121.74,581.32 122.18,580.33 122.63,579.35 123.07,578.38 123.51,577.42 123.95,576.48 124.39,575.55 124.83,574.63 125.27,573.72 125.71,572.82 126.15,571.94 126.59,571.06 127.03,570.20 127.47,569.34 127.91,568.50 128.35,567.67 128.79,566.85 129.23,566.04 129.67,565.24 130.11,564.45 130.55,563.67 130.99,562.90 131.43,562.14 131.87,561.38 132.31,560.64 132.75,559.91 133.19,559.19 133.63,558.47 134.07,557.77 134.51,557.07 134.95,556.38 135.39,555.70 135.83,555.03 136.28,554.37 136.72,553.72 137.16,553.07 137.60,552.43 138.04,551.80 138.48,551.18 138.92,550.57 139.36,549.96 139.80,549.36 140.24,548.77 140.68,548.19 141.12,547.61 141.56,547.05 142.00,546.48 142.44,545.93 142.88,545.38 143.32,544.84 143.76,544.31 144.20,543.78 144.64,543.26 145.08,542.74 145.52,542.24 145.96,541.74 146.40,541.24 146.84,540.75 147.28,540.27 147.72,539.79 148.16,539.32 148.60,538.86 149.04,538.40 149.48,537.95 149.93,537.50 150.37,537.06 150.81,536.62 151.25,536.19 151.69,535.77 152.13,535.35 152.57,534.93 153.01,534.52 153.45,534.12 153.89,533.72 154.33,533.33 154.77,532.94 155.21,532.55 155.65,532.17 156.09,531.80 156.53,531.43 156.97,531.06 157.41,530.70 157.85,530.35 158.29,530.00 158.73,529.65 159.17,529.31 159.61,528.97 160.05,528.63 160.49,528.30 160.93,527.98 161.37,527.66 161.81,527.34 162.25,527.02 162.69,526.71 163.13,526.41 163.58,526.11 164.02,525.81 164.46,525.51 164.90,525.22 165.34,524.94 165.78,524.65 166.22,524.37 166.66,524.10 167.10,523.82 167.54,523.55 167.98,523.29 168.42,523.02 168.86,522.77 169.30,522.51 169.74,522.26 170.18,522.01 170.62,521.76 171.06,521.52 171.50,521.28 171.94,521.04 172.38,520.80 172.82,520.57 173.26,520.34 173.70,520.12 174.14,519.89 174.58,519.67 175.02,519.46 175.46,519.24 175.90,519.03 176.34,518.82 176.78,518.62 177.23,518.41 177.67,518.21 178.11,518.01 178.55,517.81 178.99,517.62 179.43,517.43 179.87,517.24 180.31,517.05 180.75,516.87 181.19,516.69 181.63,516.51 182.07,516.33 182.51,516.15 182.95,515.98 183.39,515.81 183.83,515.64 184.27,515.48 184.71,515.31 185.15,515.15 185.59,514.99 186.03,514.83 186.47,514.67 186.91,514.52 187.35,514.37 187.79,514.22 188.23,514.07 188.67,513.92 189.11,513.78 189.55,513.63 189.99,513.49 190.43,513.35 190.88,513.21 191.32,513.08 191.76,512.94 192.20,512.81 192.64,512.68 193.08,512.55 193.52,512.42 193.96,512.30 194.40,512.17 194.84,512.05 195.28,511.93 195.72,511.81 196.16,511.69 196.60,511.57 197.04,511.46 197.48,511.34 197.92,511.23 198.36,511.12 198.80,511.01 199.24,510.90 199.68,510.79 200.12,510.69 200.56,510.59 201.00,510.48 201.44,510.38 201.88,510.28 202.32,510.18 202.76,510.08 203.20,509.99 203.64,509.89 204.09,509.80 204.53,509.70 204.97,509.61 205.41,509.52 205.85,509.43 206.29,509.34 206.73,509.26 207.17,509.17 207.61,509.08 208.05,509.00 208.49,508.92 208.93,508.84 209.37,508.75 209.81,508.67 210.25,508.60 210.69,508.52 211.13,508.44 211.57,508.36 212.01,508.29 212.45,508.22 212.89,508.14 213.33,508.07 213.77,508.00 214.21,507.93 214.65,507.86 215.09,507.79 215.53,507.72 215.97,507.66 216.41,507.59 216.85,507.52 217.29,507.46 217.74,507.40 218.18,507.33 218.62,507.27 219.06,507.21 219.50,507.15 219.94,507.09 220.38,507.03 220.82,506.97 221.26,506.91 221.70,506.86 222.14,506.80 222.58,506.75 223.02,506.69 223.46,506.64 223.90,506.58 224.34,506.53 224.78,506.48 225.22,506.43 225.66,506.38 226.10,506.33 226.54,506.28 226.98,506.23 227.42,506.18 227.86,506.13 228.30,506.09 228.74,506.04 229.18,505.99 229.62,505.95 230.06,505.90 230.50,505.86 230.94,505.82 231.39,505.77 231.83,505.73 232.27,505.69 232.71,505.65 233.15,505.61 233.59,505.57 234.03,505.53 234.47,505.49 234.91,505.45 235.35,505.41 235.79,505.37 236.23,505.34 236.67,505.30 237.11,505.26 237.55,505.23 237.99,505.19 238.43,505.16 238.87,505.12 239.31,505.09 239.75,505.05 240.19,505.02 240.63,504.99 241.07,504.95 241.51,504.92 241.95,504.89 242.39,504.86 242.83,504.83 243.27,504.80 243.71,504.77 244.15,504.74 244.59,504.71 245.04,504.68 245.48,504.65 245.92,504.62 246.36,504.59 246.80,504.57 247.24,504.54 247.68,504.51 248.12,504.49 248.56,504.46 249.00,504.43 249.44,504.41 249.88,504.38 250.32,504.36 250.76,504.33 251.20,504.31 251.64,504.28 252.08,504.26 252.52,504.24 252.96,504.21 253.40,504.19 253.84,504.17 254.28,504.15 254.72,504.12 255.16,504.10 255.60,504.08 256.04,504.06 256.48,504.04 256.92,504.02 257.36,504.00 257.80,503.98 258.24,503.96 258.69,503.94 259.13,503.92 259.57,503.90 260.01,503.88 260.45,503.86 260.89,503.84 261.33,503.83 261.77,503.81 262.21,503.79 262.65,503.77 263.09,503.76 263.53,503.74 263.97,503.72 264.41,503.71 264.85,503.69 265.29,503.67 265.73,503.66 266.17,503.64 266.61,503.63 267.05,503.61 267.49,503.59 267.93,503.58 268.37,503.56 268.81,503.55 269.25,503.54 269.69,503.52 270.13,503.51 270.57,503.49 271.01,503.48 271.45,503.47 271.89,503.45 272.34,503.44 272.78,503.43 273.22,503.41 273.66,503.40 274.10,503.39 274.54,503.38 274.98,503.36 275.42,503.35 275.86,503.34 276.30,503.33 276.74,503.32 277.18,503.30 277.62,503.29 278.06,503.28 278.50,503.27 278.94,503.26 279.38,503.25 279.82,503.24 280.26,503.23 280.70,503.22 281.14,503.21 281.58,503.20 282.02,503.19 282.46,503.18 282.90,503.17 283.34,503.16 283.78,503.15 284.22,503.14 284.66,503.13 285.10,503.12 285.54,503.11 285.99,503.10 286.43,503.09 286.87,503.08 287.31,503.08 287.75,503.07 288.19,503.06 288.63,503.05 289.07,503.04 289.51,503.03 289.95,503.03 290.39,503.02 290.83,503.01 291.27,503.00 291.71,503.00 292.15,502.99 292.59,502.98 293.03,502.97 293.47,502.97 293.91,502.96 294.35,502.95 294.79,502.95 295.23,502.94 295.67,502.93 296.11,502.92 296.55,502.92 296.99,502.91 297.43,502.91 297.87,502.90 298.31,502.89 298.75,502.89 299.19,502.88 299.64,502.87 300.08,502.87 300.52,502.86 300.96,502.86 301.40,502.85 301.84,502.85 302.28,502.84 302.72,502.83 303.16,502.83 303.60,502.82 304.04,502.82 304.48,502.81 304.92,502.81 305.36,502.80 305.80,502.80 306.24,502.79 306.68,502.79 307.12,502.78 307.56,502.78 308.00,502.77 308.44,502.77 308.88,502.76 309.32,502.76 309.76,502.75 310.20,502.75 310.64,502.75 311.08,502.74 311.52,502.74 311.96,502.73 312.40,502.73 312.85,502.72 313.29,502.72 313.73,502.72 314.17,502.71 314.61,502.71 315.05,502.70 315.49,502.70 315.93,502.70 316.37,502.69 316.81,502.69 317.25,502.69 317.69,502.68 318.13,502.68 318.57,502.68 319.01,502.67 319.45,502.67 319.89,502.66 320.33,502.66 320.77,502.66 321.21,502.65 321.65,502.65 322.09,502.65 322.53,502.65 322.97,502.64 323.41,502.64 323.85,502.64 324.29,502.63 324.73,502.63 325.17,502.63 325.61,502.62 326.05,502.62 326.50,502.62 326.94,502.62 327.38,502.61 327.82,502.61 328.26,502.61 328.70,502.61 329.14,502.60 329.58,502.60 330.02,502.60 330.46,502.60 330.90,502.59 331.34,502.59 331.78,502.59 332.22,502.59 332.66,502.58 333.10,502.58 333.54,502.58 333.98,502.58 334.42,502.57 334.86,502.57 335.30,502.57 335.74,502.57 336.18,502.57 336.62,502.56 337.06,502.56 337.50,502.56 337.94,502.56 338.38,502.56 338.82,502.55 339.26,502.55 339.70,502.55 340.15,502.55 340.59,502.55 341.03,502.54 341.47,502.54 341.91,502.54 342.35,502.54 342.79,502.54 343.23,502.54 343.67,502.53 344.11,502.53 344.55,502.53 344.99,502.53 345.43,502.53 345.87,502.53 346.31,502.52 346.75,502.52 347.19,502.52 347.63,502.52 348.07,502.52 348.51,502.52 348.95,502.51 349.39,502.51 349.83,502.51 350.27,502.51 350.71,502.51 351.15,502.51 351.59,502.51 352.03,502.51 352.47,502.50 352.91,502.50 353.35,502.50 353.80,502.50 354.24,502.50 354.68,502.50 355.12,502.50 355.56,502.49 356.00,502.49 356.44,502.49 356.88,502.49 357.32,502.49 357.76,502.49 358.20,502.49 358.64,502.49 359.08,502.49 359.52,502.48 359.96,502.48 360.40,502.48" fill="none" stroke="#2ca02c" stroke-width="1.9" stroke-dasharray="5.9,2.6"/><polyline points="89.40,664.80 89.85,662.70 90.30,660.63 90.76,658.58 91.21,656.57 91.66,654.57 92.11,652.61 92.57,650.67 93.02,648.75 93.47,646.86 93.92,644.99 94.38,643.15 94.83,641.33 95.28,639.53 95.73,637.76 96.19,636.01 96.64,634.29 97.09,632.58 97.54,630.90 98.00,629.24 98.45,627.60 98.90,625.98 99.35,624.38 99.81,622.81 100.26,621.25 100.71,619.72 101.16,618.20 101.62,616.70 102.07,615.23 102.52,613.77 102.97,612.33 103.43,610.91 103.88,609.51 104.33,608.12 104.78,606.75 105.23,605.41 105.69,604.08 106.14,602.76 106.59,601.46 107.04,600.18 107.50,598.92 107.95,597.67 108.40,596.44 108.85,595.23 109.31,594.03 109.76,592.84 110.21,591.67 110.66,590.52 111.12,589.38 111.57,588.26 112.02,587.15 112.47,586.05 112.93,584.97 113.38,583.90 113.83,582.85 114.28,581.81 114.74,580.78 115.19,579.77 115.64,578.77 116.09,577.78 116.55,576.81 117.00,575.85 117.45,574.90 117.90,573.96 118.35,573.04 118.81,572.12 119.26,571.22 119.71,570.33 120.16,569.46 120.62,568.59 121.07,567.73 121.52,566.89 121.97,566.06 122.43,565.23 122.88,564.42 123.33,563.62 123.78,562.83 124.24,562.05 124.69,561.28 125.14,560.52 125.59,559.77 126.05,559.02 126.50,558.29 126.95,557.57 127.40,556.86 127.86,556.15 128.31,555.46 128.76,554.77 129.21,554.10 129.67,553.43 130.12,552.77 130.57,552.12 131.02,551.47 131.48,550.84 131.93,550.21 132.38,549.60 132.83,548.99 133.28,548.38 133.74,547.79 134.19,547.20 134.64,546.62 135.09,546.05 135.55,545.49 136.00,544.93 136.45,544.38 136.90,543.84 137.36,543.30 137.81,542.78 138.26,542.25 138.71,541.74 139.17,541.23 139.62,540.73 140.07,540.23 140.52,539.74 140.98,539.26 141.43,538.79 141.88,538.32 142.33,537.85 142.79,537.39 143.24,536.94 143.69,536.49 144.14,536.05 144.60,535.62 145.05,535.19 145.50,534.77 145.95,534.35 146.41,533.93 146.86,533.53 147.31,533.12 147.76,532.73 148.21,532.34 148.67,531.95 149.12,531.57 149.57,531.19 150.02,530.82 150.48,530.45 150.93,530.09 151.38,529.73 151.83,529.38 152.29,529.03 152.74,528.68 153.19,528.34 153.64,528.01 154.10,527.68 154.55,527.35 155.00,527.03 155.45,526.71 155.91,526.40 156.36,526.09 156.81,525.78 157.26,525.48 157.72,525.18 158.17,524.89 158.62,524.60 159.07,524.31 159.53,524.03 159.98,523.75 160.43,523.47 160.88,523.20 161.33,522.93 161.79,522.66 162.24,522.40 162.69,522.14 163.14,521.89 163.60,521.64 164.05,521.39 164.50,521.14 164.95,520.90 165.41,520.66 165.86,520.42 166.31,520.19 166.76,519.96 167.22,519.73 167.67,519.51 168.12,519.29 168.57,519.07 169.03,518.86 169.48,518.64 169.93,518.43 170.38,518.23 170.84,518.02 171.29,517.82 171.74,517.62 172.19,517.42 172.65,517.23 173.10,517.04 173.55,516.85 174.00,516.66 174.46,516.48 174.91,516.30 175.36,516.12 175.81,515.94 176.26,515.76 176.72,515.59 177.17,515.42 177.62,515.25 178.07,515.09 178.53,514.92 178.98,514.76 179.43,514.60 179.88,514.44 180.34,514.29 180.79,514.13 181.24,513.98 181.69,513.83 182.15,513.68 182.60,513.54 183.05,513.40 183.50,513.25 183.96,513.11 184.41,512.97 184.86,512.84 185.31,512.70 185.77,512.57 186.22,512.44 186.67,512.31 187.12,512.18 187.58,512.05 188.03,511.93 188.48,511.81 188.93,511.68 189.38,511.56 189.84,511.45 190.29,511.33 190.74,511.21 191.19,511.10 191.65,510.99 192.10,510.88 192.55,510.77 193.00,510.66 193.46,510.55 193.91,510.45 194.36,510.34 194.81,510.24 195.27,510.14 195.72,510.04 196.17,509.94 196.62,509.84 197.08,509.75 197.53,509.65 197.98,509.56 198.43,509.47 198.89,509.37 199.34,509.28 199.79,509.19 200.24,509.11 200.70,509.02 201.15,508.93 201.60,508.85 202.05,508.77 202.51,508.68 202.96,508.60 203.41,508.52 203.86,508.44 204.31,508.37 204.77,508.29 205.22,508.21 205.67,508.14 206.12,508.06 206.58,507.99 207.03,507.92 207.48,507.85 207.93,507.78 208.39,507.71 208.84,507.64 209.29,507.57 209.74,507.50 210.20,507.44 210.65,507.37 211.10,507.31 211.55,507.25 212.01,507.18 212.46,507.12 212.91,507.06 213.36,507.00 213.82,506.94 214.27,506.88 214.72,506.82 215.17,506.77 215.63,506.71 216.08,506.65 216.53,506.60 216.98,506.54 217.44,506.49 217.89,506.44 218.34,506.39 218.79,506.33 219.24,506.28 219.70,506.23 220.15,506.18 220.60,506.14 221.05,506.09 221.51,506.04 221.96,505.99 222.41,505.95 222.86,505.90 223.32,505.85 223.77,505.81 224.22,505.77 224.67,505.72 225.13,505.68 225.58,505.64 226.03,505.60 226.48,505.55 226.94,505.51 227.39,505.47 227.84,505.43 228.29,505.39 228.75,505.36 229.20,505.32 229.65,505.28 230.10,505.24 230.56,505.21 231.01,505.17 231.46,505.13 231.91,505.10 232.36,505.06 232.82,505.03 233.27,504.99 233.72,504.96 234.17,504.93 234.63,504.90 235.08,504.86 235.53,504.83 235.98,504.80 236.44,504.77 236.89,504.74 237.34,504.71 237.79,504.68 238.25,504.65 238.70,504.62 239.15,504.59 239.60,504.56 240.06,504.54 240.51,504.51 240.96,504.48 241.41,504.45 241.87,504.43 242.32,504.40 242.77,504.37 243.22,504.35 243.68,504.32 244.13,504.30 244.58,504.27 245.03,504.25 245.49,504.23 245.94,504.20 246.39,504.18 246.84,504.16 247.29,504.13 247.75,504.11 248.20,504.09 248.65,504.07 249.10,504.05 249.56,504.02 250.01,504.00 250.46,503.98 250.91,503.96 251.37,503.94 251.82,503.92 252.27,503.90 252.72,503.88 253.18,503.86 253.63,503.85 254.08,503.83 254.53,503.81 254.99,503.79 255.44,503.77 255.89,503.75 256.34,503.74 256.80,503.72 257.25,503.70 257.70,503.69 258.15,503.67 258.61,503.65 259.06,503.64 259.51,503.62 259.96,503.60 260.42,503.59 260.87,503.57 261.32,503.56 261.77,503.54 262.22,503.53 262.68,503.51 263.13,503.50 263.58,503.49 264.03,503.47 264.49,503.46 264.94,503.44 265.39,503.43 265.84,503.42 266.30,503.40 266.75,503.39 267.20,503.38 267.65,503.37 268.11,503.35 268.56,503.34 269.01,503.33 269.46,503.32 269.92,503.30 270.37,503.29 270.82,503.28 271.27,503.27 271.73,503.26 272.18,503.25 272.63,503.24 273.08,503.23 273.54,503.22 273.99,503.20 274.44,503.19 274.89,503.18 275.34,503.17 275.80,503.16 276.25,503.15 276.70,503.14 277.15,503.13 277.61,503.13 278.06,503.12 278.51,503.11 278.96,503.10 279.42,503.09 279.87,503.08 280.32,503.07 280.77,503.06 281.23,503.05 281.68,503.05 282.13,503.04 282.58,503.03 283.04,503.02 283.49,503.01 283.94,503.00 284.39,503.00 284.85,502.99 285.30,502.98 285.75,502.97 286.20,502.97 286.66,502.96 287.11,502.95 287.56,502.94 288.01,502.94 288.47,502.93 288.92,502.92 289.37,502.92 289.82,502.91 290.27,502.90 290.73,502.90 291.18,502.89 291.63,502.88 292.08,502.88 292.54,502.87 292.99,502.87 293.44,502.86 293.89,502.85 294.35,502.85 294.80,502.84 295.25,502.84 295.70,502.83 296.16,502.83 296.61,502.82 297.06,502.81 297.51,502.81 297.97,502.80 298.42,502.80 298.87,502.79 299.32,502.79 299.78,502.78 300.23,502.78 300.68,502.77 301.13,502.77 301.59,502.76 302.04,502.76 302.49,502.75 302.94,502.75 303.39,502.75 303.85,502.74 304.30,502.74 304.75,502.73 305.20,502.73 305.66,502.72 306.11,502.72 306.56,502.72 307.01,502.71 307.47,502.71 307.92,502.70 308.37,502.70 308.82,502.70 309.28,502.69 309.73,502.69 310.18,502.68 310.63,502.68 311.09,502.68 311.54,502.67 311.99,502.67 312.44,502.67 312.90,502.66 313.35,502.66 313.80,502.66 314.25,502.65 314.71,502.65 315.16,502.65 315.61,502.64 316.06,502.64 316.52,502.64 316.97,502.63 317.42,502.63 317.87,502.63 318.32,502.62 318.78,502.62 319.23,502.62 319.68,502.62 320.13,502.61 320.59,502.61 321.04,502.61 321.49,502.61 321.94,502.60 322.40,502.60 322.85,502.60 323.30,502.59 323.75,502.59 324.21,502.59 324.66,502.59 325.11,502.59 325.56,502.58 326.02,502.58 326.47,502.58 326.92,502.58 327.37,502.57 327.83,502.57 328.28,502.57 328.73,502.57 329.18,502.56 329.64,502.56 330.09,502.56 330.54,502.56 330.99,502.56 331.45,502.55 331.90,502.55 332.35,502.55 332.80,502.55 333.25,502.55 333.71,502.54 334.16,502.54 334.61,502.54 335.06,502.54 335.52,502.54 335.97,502.54 336.42,502.53 336.87,502.53 337.33,502.53 337.78,502.53 338.23,502.53 338.68,502.53 339.14,502.52 339.59,502.52 340.04,502.52 340.49,502.52 340.95,502.52 341.40,502.52 341.85,502.51 342.30,502.51 342.76,502.51 343.21,502.51 343.66,502.51 344.11,502.51 344.57,502.51 345.02,502.50 345.47,502.50 345.92,502.50 346.37,502.50 346.83,502.50 347.28,502.50 347.73,502.50 348.18,502.50 348.64,502.49 349.09,502.49 349.54,502.49 349.99,502.49 350.45,502.49 350.90,502.49 351.35,502.49 351.80,502.49 352.26,502.48 352.71,502.48 353.16,502.48 353.61,502.48 354.07,502.48 354.52,502.48 354.97,502.48 355.42,502.48 355.88,502.48 356.33,502.48 356.78,502.47 357.23,502.47 357.69,502.47 358.14,502.47 358.59,502.47 359.04,502.47 359.50,502.47 359.95,502.47 360.40,502.47" fill="none" stroke="#d62728" stroke-width="1.9" stroke-dasharray="5.9,2.6"/></g>
<line x1="89.4" y1="494.28" x2="89.4" y2="664.8" stroke="#111" stroke-width="1.1" stroke-linecap="square"/>
<line x1="89.4" y1="664.8" x2="360.4" y2="664.8" stroke="#111" stroke-width="1.1" stroke-linecap="square"/>
<line x1="85.4" y1="664.8" x2="89.4" y2="664.8" stroke="#111" stroke-width="1.0"/>
<text x="82.2" y="669.0" text-anchor="end" font-size="11.0">0.0</text>
<line x1="85.4" y1="632.3199999999999" x2="89.4" y2="632.3199999999999" stroke="#111" stroke-width="1.0"/>
<text x="82.2" y="636.52" text-anchor="end" font-size="11.0">0.2</text>
<line x1="85.4" y1="599.8399999999999" x2="89.4" y2="599.8399999999999" stroke="#111" stroke-width="1.0"/>
<text x="82.2" y="604.04" text-anchor="end" font-size="11.0">0.4</text>
<line x1="85.4" y1="567.3599999999999" x2="89.4" y2="567.3599999999999" stroke="#111" stroke-width="1.0"/>
<text x="82.2" y="571.56" text-anchor="end" font-size="11.0">0.6</text>
<line x1="85.4" y1="534.8799999999999" x2="89.4" y2="534.8799999999999" stroke="#111" stroke-width="1.0"/>
<text x="82.2" y="539.0799999999999" text-anchor="end" font-size="11.0">0.8</text>
<line x1="85.4" y1="502.4" x2="89.4" y2="502.4" stroke="#111" stroke-width="1.0"/>
<text x="82.2" y="506.59999999999997" text-anchor="end" font-size="11.0"><tspan class="o">1</tspan>.0</text>
<line x1="89.4" y1="664.8" x2="89.4" y2="668.4" stroke="#111" stroke-width="1.0"/>
<text x="89.4" y="679.4" text-anchor="middle" font-size="11.0">0</text>
<line x1="137.7065953654189" y1="664.8" x2="137.7065953654189" y2="668.4" stroke="#111" stroke-width="1.0"/>
<text x="137.7065953654189" y="679.4" text-anchor="middle" font-size="11.0"><tspan class="o">1</tspan>0</text>
<line x1="186.01319073083778" y1="664.8" x2="186.01319073083778" y2="668.4" stroke="#111" stroke-width="1.0"/>
<text x="186.01319073083778" y="679.4" text-anchor="middle" font-size="11.0">20</text>
<line x1="234.31978609625668" y1="664.8" x2="234.31978609625668" y2="668.4" stroke="#111" stroke-width="1.0"/>
<text x="234.31978609625668" y="679.4" text-anchor="middle" font-size="11.0">30</text>
<line x1="282.6263814616756" y1="664.8" x2="282.6263814616756" y2="668.4" stroke="#111" stroke-width="1.0"/>
<text x="282.6263814616756" y="679.4" text-anchor="middle" font-size="11.0">40</text>
<line x1="330.9329768270945" y1="664.8" x2="330.9329768270945" y2="668.4" stroke="#111" stroke-width="1.0"/>
<text x="330.9329768270945" y="679.4" text-anchor="middle" font-size="11.0">50</text>
<text x="343.3" y="517.8" text-anchor="middle" font-size="11.6" font-weight="bold" style="stroke-width:0">(c)</text>
<g clip-path="url(#c21)"><polyline points="436.69,664.80 436.69,556.97 438.94,556.97 438.94,553.37 441.19,553.37 441.19,551.23 443.43,551.23 443.43,547.01 445.68,547.01 445.68,544.43 447.93,544.43 447.93,541.22 450.18,541.22 450.18,538.94 452.42,538.94 452.42,536.71 454.67,536.71 454.67,534.90 456.92,534.90 456.92,533.11 459.17,533.11 459.17,531.76 461.42,531.76 461.42,530.55 463.66,530.55 463.66,529.17 465.91,529.17 465.91,527.91 468.16,527.91 468.16,526.78 470.41,526.78 470.41,525.65 472.65,525.65 472.65,524.69 474.90,524.69 474.90,523.76 477.15,523.76 477.15,522.86 479.40,522.86 479.40,521.99 481.64,521.99 481.64,521.12 483.89,521.12 483.89,520.24 486.14,520.24 486.14,519.37 488.39,519.37 488.39,518.49 490.64,518.49 490.64,517.49 492.88,517.49 492.88,516.49 495.13,516.49 495.13,515.72 497.38,515.72 497.38,515.03 499.63,515.03 499.63,514.35 501.87,514.35 501.87,513.83 504.12,513.83 504.12,513.33 506.37,513.33 506.37,512.83 508.62,512.83 508.62,512.33 510.86,512.33 510.86,511.83 513.11,511.83 513.11,511.34 515.36,511.34 515.36,510.89 517.61,510.89 517.61,510.53 519.85,510.53 519.85,510.17 522.10,510.17 522.10,509.82 524.35,509.82 524.35,509.46 526.60,509.46 526.60,509.11 528.85,509.11 528.85,508.75 531.09,508.75 531.09,508.39 533.34,508.39 533.34,508.04 535.59,508.04 535.59,507.76 537.84,507.76 537.84,507.51 540.08,507.51 540.08,507.27 542.33,507.27 542.33,507.03 544.58,507.03 544.58,506.78 546.83,506.78 546.83,506.54 549.07,506.54 549.07,506.30 551.32,506.30 551.32,506.05 553.57,506.05 553.57,505.81 555.82,505.81 555.82,505.57 558.07,505.57 558.07,505.40 560.31,505.40 560.31,505.27 562.56,505.27 562.56,505.14 564.81,505.14 564.81,505.01 567.06,505.01 567.06,504.89 569.30,504.89 569.30,504.76 571.55,504.76 571.55,504.63 573.80,504.63 573.80,504.50 576.05,504.50 576.05,504.37 578.29,504.37 578.29,504.24 580.54,504.24 580.54,504.12 582.79,504.12 582.79,503.99 585.04,503.99 585.04,503.86 587.28,503.86 587.28,503.78 589.53,503.78 589.53,503.71 591.78,503.71 591.78,503.63 594.03,503.63 594.03,503.55 596.28,503.55 596.28,503.48 598.52,503.48 598.52,503.40 600.77,503.40 600.77,503.32 603.02,503.32 603.02,503.24 605.27,503.24 605.27,503.17 607.51,503.17 607.51,503.09 609.76,503.09 609.76,503.01 612.01,503.01 612.01,502.94 614.26,502.94 614.26,502.87 616.50,502.87 616.50,502.84 618.75,502.84 618.75,502.80 621.00,502.80 621.00,502.76 623.25,502.76 623.25,502.72 625.50,502.72 625.50,502.68 627.74,502.68 627.74,502.64 629.99,502.64 629.99,502.60 632.24,502.60 632.24,502.57 634.49,502.57 634.49,502.53 636.73,502.53 636.73,502.49 638.98,502.49 638.98,502.45 641.23,502.45 641.23,502.41 643.48,502.41 643.48,502.40 645.72,502.40 645.72,502.40 647.97,502.40 647.97,502.40 650.22,502.40 650.22,502.40 652.47,502.40 652.47,502.40 654.71,502.40 654.71,502.40 656.96,502.40 656.96,502.40 659.21,502.40 659.21,502.40 661.46,502.40 661.46,502.40 663.71,502.40 663.71,502.40 665.95,502.40 665.95,502.40 668.20,502.40 668.20,502.40 670.45,502.40 670.45,502.40 672.70,502.40 672.70,502.40 674.94,502.40 674.94,502.40 677.19,502.40 677.19,502.40 679.44,502.40 679.44,502.40 681.69,502.40 681.69,502.40 683.93,502.40 683.93,502.40 686.18,502.40" fill="none" stroke="#ff7f0e" stroke-width="2.0" stroke-linejoin="miter"/><polyline points="435.64,664.80 436.06,662.83 436.47,660.88 436.89,658.96 437.31,657.06 437.72,655.18 438.14,653.33 438.56,651.50 438.97,649.69 439.39,647.90 439.81,646.14 440.22,644.39 440.64,642.67 441.06,640.97 441.47,639.29 441.89,637.63 442.31,635.98 442.72,634.36 443.14,632.76 443.56,631.18 443.97,629.62 444.39,628.07 444.81,626.55 445.22,625.04 445.64,623.56 446.06,622.09 446.48,620.63 446.89,619.20 447.31,617.78 447.73,616.38 448.14,615.00 448.56,613.63 448.98,612.28 449.39,610.95 449.81,609.63 450.23,608.33 450.64,607.05 451.06,605.78 451.48,604.52 451.89,603.28 452.31,602.06 452.73,600.85 453.14,599.65 453.56,598.47 453.98,597.31 454.39,596.16 454.81,595.02 455.23,593.90 455.64,592.79 456.06,591.69 456.48,590.61 456.90,589.54 457.31,588.48 457.73,587.43 458.15,586.40 458.56,585.38 458.98,584.38 459.40,583.38 459.81,582.40 460.23,581.43 460.65,580.47 461.06,579.52 461.48,578.59 461.90,577.66 462.31,576.75 462.73,575.85 463.15,574.95 463.56,574.07 463.98,573.20 464.40,572.35 464.81,571.50 465.23,570.66 465.65,569.83 466.06,569.01 466.48,568.20 466.90,567.41 467.32,566.62 467.73,565.84 468.15,565.07 468.57,564.31 468.98,563.56 469.40,562.81 469.82,562.08 470.23,561.36 470.65,560.64 471.07,559.94 471.48,559.24 471.90,558.55 472.32,557.87 472.73,557.19 473.15,556.53 473.57,555.87 473.98,555.22 474.40,554.58 474.82,553.95 475.23,553.32 475.65,552.71 476.07,552.09 476.48,551.49 476.90,550.90 477.32,550.31 477.74,549.73 478.15,549.15 478.57,548.58 478.99,548.02 479.40,547.47 479.82,546.92 480.24,546.38 480.65,545.85 481.07,545.32 481.49,544.80 481.90,544.29 482.32,543.78 482.74,543.28 483.15,542.78 483.57,542.29 483.99,541.81 484.40,541.33 484.82,540.86 485.24,540.39 485.65,539.93 486.07,539.47 486.49,539.02 486.90,538.58 487.32,538.14 487.74,537.71 488.16,537.28 488.57,536.86 488.99,536.44 489.41,536.02 489.82,535.62 490.24,535.21 490.66,534.82 491.07,534.42 491.49,534.03 491.91,533.65 492.32,533.27 492.74,532.90 493.16,532.53 493.57,532.16 493.99,531.80 494.41,531.44 494.82,531.09 495.24,530.74 495.66,530.40 496.07,530.06 496.49,529.72 496.91,529.39 497.32,529.06 497.74,528.74 498.16,528.42 498.57,528.10 498.99,527.79 499.41,527.48 499.83,527.18 500.24,526.88 500.66,526.58 501.08,526.29 501.49,526.00 501.91,525.71 502.33,525.43 502.74,525.15 503.16,524.87 503.58,524.60 503.99,524.33 504.41,524.07 504.83,523.80 505.24,523.54 505.66,523.29 506.08,523.03 506.49,522.78 506.91,522.54 507.33,522.29 507.74,522.05 508.16,521.81 508.58,521.58 508.99,521.34 509.41,521.11 509.83,520.89 510.25,520.66 510.66,520.44 511.08,520.22 511.50,520.01 511.91,519.79 512.33,519.58 512.75,519.37 513.16,519.17 513.58,518.96 514.00,518.76 514.41,518.56 514.83,518.37 515.25,518.17 515.66,517.98 516.08,517.79 516.50,517.61 516.91,517.42 517.33,517.24 517.75,517.06 518.16,516.88 518.58,516.71 519.00,516.53 519.41,516.36 519.83,516.19 520.25,516.02 520.67,515.86 521.08,515.70 521.50,515.53 521.92,515.38 522.33,515.22 522.75,515.06 523.17,514.91 523.58,514.76 524.00,514.61 524.42,514.46 524.83,514.31 525.25,514.17 525.67,514.03 526.08,513.88 526.50,513.74 526.92,513.61 527.33,513.47 527.75,513.34 528.17,513.20 528.58,513.07 529.00,512.94 529.42,512.82 529.83,512.69 530.25,512.56 530.67,512.44 531.09,512.32 531.50,512.20 531.92,512.08 532.34,511.96 532.75,511.85 533.17,511.73 533.59,511.62 534.00,511.51 534.42,511.40 534.84,511.29 535.25,511.18 535.67,511.07 536.09,510.97 536.50,510.86 536.92,510.76 537.34,510.66 537.75,510.56 538.17,510.46 538.59,510.36 539.00,510.27 539.42,510.17 539.84,510.08 540.25,509.98 540.67,509.89 541.09,509.80 541.51,509.71 541.92,509.62 542.34,509.53 542.76,509.45 543.17,509.36 543.59,509.28 544.01,509.19 544.42,509.11 544.84,509.03 545.26,508.95 545.67,508.87 546.09,508.79 546.51,508.71 546.92,508.64 547.34,508.56 547.76,508.49 548.17,508.41 548.59,508.34 549.01,508.27 549.42,508.20 549.84,508.13 550.26,508.06 550.67,507.99 551.09,507.92 551.51,507.85 551.92,507.79 552.34,507.72 552.76,507.66 553.18,507.59 553.59,507.53 554.01,507.47 554.43,507.41 554.84,507.35 555.26,507.29 555.68,507.23 556.09,507.17 556.51,507.11 556.93,507.05 557.34,507.00 557.76,506.94 558.18,506.89 558.59,506.83 559.01,506.78 559.43,506.72 559.84,506.67 560.26,506.62 560.68,506.57 561.09,506.52 561.51,506.47 561.93,506.42 562.34,506.37 562.76,506.32 563.18,506.27 563.60,506.23 564.01,506.18 564.43,506.14 564.85,506.09 565.26,506.05 565.68,506.00 566.10,505.96 566.51,505.91 566.93,505.87 567.35,505.83 567.76,505.79 568.18,505.75 568.60,505.71 569.01,505.67 569.43,505.63 569.85,505.59 570.26,505.55 570.68,505.51 571.10,505.47 571.51,505.44 571.93,505.40 572.35,505.36 572.76,505.33 573.18,505.29 573.60,505.26 574.02,505.22 574.43,505.19 574.85,505.15 575.27,505.12 575.68,505.09 576.10,505.05 576.52,505.02 576.93,504.99 577.35,504.96 577.77,504.93 578.18,504.90 578.60,504.87 579.02,504.84 579.43,504.81 579.85,504.78 580.27,504.75 580.68,504.72 581.10,504.69 581.52,504.66 581.93,504.64 582.35,504.61 582.77,504.58 583.18,504.56 583.60,504.53 584.02,504.50 584.44,504.48 584.85,504.45 585.27,504.43 585.69,504.40 586.10,504.38 586.52,504.36 586.94,504.33 587.35,504.31 587.77,504.29 588.19,504.26 588.60,504.24 589.02,504.22 589.44,504.20 589.85,504.17 590.27,504.15 590.69,504.13 591.10,504.11 591.52,504.09 591.94,504.07 592.35,504.05 592.77,504.03 593.19,504.01 593.60,503.99 594.02,503.97 594.44,503.95 594.86,503.93 595.27,503.91 595.69,503.90 596.11,503.88 596.52,503.86 596.94,503.84 597.36,503.82 597.77,503.81 598.19,503.79 598.61,503.77 599.02,503.76 599.44,503.74 599.86,503.72 600.27,503.71 600.69,503.69 601.11,503.68 601.52,503.66 601.94,503.64 602.36,503.63 602.77,503.61 603.19,503.60 603.61,503.59 604.02,503.57 604.44,503.56 604.86,503.54 605.27,503.53 605.69,503.52 606.11,503.50 606.53,503.49 606.94,503.48 607.36,503.46 607.78,503.45 608.19,503.44 608.61,503.42 609.03,503.41 609.44,503.40 609.86,503.39 610.28,503.38 610.69,503.36 611.11,503.35 611.53,503.34 611.94,503.33 612.36,503.32 612.78,503.31 613.19,503.30 613.61,503.28 614.03,503.27 614.44,503.26 614.86,503.25 615.28,503.24 615.69,503.23 616.11,503.22 616.53,503.21 616.95,503.20 617.36,503.19 617.78,503.18 618.20,503.17 618.61,503.16 619.03,503.15 619.45,503.15 619.86,503.14 620.28,503.13 620.70,503.12 621.11,503.11 621.53,503.10 621.95,503.09 622.36,503.08 622.78,503.08 623.20,503.07 623.61,503.06 624.03,503.05 624.45,503.04 624.86,503.04 625.28,503.03 625.70,503.02 626.11,503.01 626.53,503.01 626.95,503.00 627.37,502.99 627.78,502.98 628.20,502.98 628.62,502.97 629.03,502.96 629.45,502.96 629.87,502.95 630.28,502.94 630.70,502.94 631.12,502.93 631.53,502.92 631.95,502.92 632.37,502.91 632.78,502.90 633.20,502.90 633.62,502.89 634.03,502.89 634.45,502.88 634.87,502.87 635.28,502.87 635.70,502.86 636.12,502.86 636.53,502.85 636.95,502.85 637.37,502.84 637.79,502.84 638.20,502.83 638.62,502.83 639.04,502.82 639.45,502.81 639.87,502.81 640.29,502.80 640.70,502.80 641.12,502.80 641.54,502.79 641.95,502.79 642.37,502.78 642.79,502.78 643.20,502.77 643.62,502.77 644.04,502.76 644.45,502.76 644.87,502.75 645.29,502.75 645.70,502.75 646.12,502.74 646.54,502.74 646.95,502.73 647.37,502.73 647.79,502.73 648.21,502.72 648.62,502.72 649.04,502.71 649.46,502.71 649.87,502.71 650.29,502.70 650.71,502.70 651.12,502.69 651.54,502.69 651.96,502.69 652.37,502.68 652.79,502.68 653.21,502.68 653.62,502.67 654.04,502.67 654.46,502.67 654.87,502.66 655.29,502.66 655.71,502.66 656.12,502.65 656.54,502.65 656.96,502.65 657.37,502.65 657.79,502.64 658.21,502.64 658.62,502.64 659.04,502.63 659.46,502.63 659.88,502.63 660.29,502.63 660.71,502.62 661.13,502.62 661.54,502.62 661.96,502.61 662.38,502.61 662.79,502.61 663.21,502.61 663.63,502.60 664.04,502.60 664.46,502.60 664.88,502.60 665.29,502.59 665.71,502.59 666.13,502.59 666.54,502.59 666.96,502.59 667.38,502.58 667.79,502.58 668.21,502.58 668.63,502.58 669.04,502.57 669.46,502.57 669.88,502.57 670.30,502.57 670.71,502.57 671.13,502.56 671.55,502.56 671.96,502.56 672.38,502.56 672.80,502.56 673.21,502.55 673.63,502.55 674.05,502.55 674.46,502.55 674.88,502.55 675.30,502.55 675.71,502.54 676.13,502.54 676.55,502.54 676.96,502.54 677.38,502.54 677.80,502.53 678.21,502.53 678.63,502.53 679.05,502.53 679.46,502.53 679.88,502.53 680.30,502.53 680.72,502.52 681.13,502.52 681.55,502.52 681.97,502.52 682.38,502.52 682.80,502.52 683.22,502.52 683.63,502.51 684.05,502.51 684.47,502.51 684.88,502.51 685.30,502.51" fill="none" stroke="#2ca02c" stroke-width="1.9" stroke-dasharray="5.9,2.6"/><polyline points="414.30,664.80 414.75,662.66 415.20,660.55 415.66,658.47 416.11,656.42 416.56,654.39 417.01,652.39 417.47,650.41 417.92,648.47 418.37,646.54 418.82,644.64 419.28,642.77 419.73,640.92 420.18,639.10 420.63,637.30 421.09,635.53 421.54,633.77 421.99,632.04 422.44,630.34 422.90,628.65 423.35,626.99 423.80,625.35 424.25,623.73 424.71,622.14 425.16,620.56 425.61,619.00 426.06,617.47 426.52,615.95 426.97,614.46 427.42,612.98 427.87,611.53 428.33,610.09 428.78,608.67 429.23,607.28 429.68,605.89 430.13,604.53 430.59,603.19 431.04,601.86 431.49,600.55 431.94,599.26 432.40,597.98 432.85,596.73 433.30,595.48 433.75,594.26 434.21,593.05 434.66,591.86 435.11,590.68 435.56,589.52 436.02,588.37 436.47,587.24 436.92,586.12 437.37,585.02 437.83,583.93 438.28,582.86 438.73,581.80 439.18,580.75 439.64,579.72 440.09,578.71 440.54,577.70 440.99,576.71 441.45,575.73 441.90,574.77 442.35,573.81 442.80,572.87 443.25,571.95 443.71,571.03 444.16,570.13 444.61,569.24 445.06,568.36 445.52,567.49 445.97,566.63 446.42,565.78 446.87,564.95 447.33,564.13 447.78,563.31 448.23,562.51 448.68,561.72 449.14,560.94 449.59,560.17 450.04,559.41 450.49,558.66 450.95,557.92 451.40,557.19 451.85,556.47 452.30,555.75 452.76,555.05 453.21,554.36 453.66,553.68 454.11,553.00 454.57,552.33 455.02,551.68 455.47,551.03 455.92,550.39 456.38,549.76 456.83,549.13 457.28,548.52 457.73,547.91 458.18,547.31 458.64,546.72 459.09,546.14 459.54,545.56 459.99,544.99 460.45,544.43 460.90,543.88 461.35,543.33 461.80,542.79 462.26,542.26 462.71,541.74 463.16,541.22 463.61,540.71 464.07,540.20 464.52,539.71 464.97,539.22 465.42,538.73 465.88,538.25 466.33,537.78 466.78,537.32 467.23,536.86 467.69,536.40 468.14,535.95 468.59,535.51 469.04,535.08 469.50,534.65 469.95,534.22 470.40,533.80 470.85,533.39 471.31,532.98 471.76,532.58 472.21,532.18 472.66,531.79 473.11,531.40 473.57,531.02 474.02,530.64 474.47,530.27 474.92,529.91 475.38,529.54 475.83,529.19 476.28,528.83 476.73,528.49 477.19,528.14 477.64,527.80 478.09,527.47 478.54,527.14 479.00,526.81 479.45,526.49 479.90,526.17 480.35,525.86 480.81,525.55 481.26,525.25 481.71,524.95 482.16,524.65 482.62,524.36 483.07,524.07 483.52,523.78 483.97,523.50 484.43,523.22 484.88,522.95 485.33,522.68 485.78,522.41 486.23,522.15 486.69,521.89 487.14,521.63 487.59,521.38 488.04,521.13 488.50,520.88 488.95,520.64 489.40,520.40 489.85,520.16 490.31,519.93 490.76,519.70 491.21,519.47 491.66,519.25 492.12,519.02 492.57,518.81 493.02,518.59 493.47,518.38 493.93,518.17 494.38,517.96 494.83,517.75 495.28,517.55 495.74,517.35 496.19,517.16 496.64,516.96 497.09,516.77 497.55,516.58 498.00,516.39 498.45,516.21 498.90,516.03 499.36,515.85 499.81,515.67 500.26,515.50 500.71,515.32 501.16,515.15 501.62,514.99 502.07,514.82 502.52,514.66 502.97,514.50 503.43,514.34 503.88,514.18 504.33,514.02 504.78,513.87 505.24,513.72 505.69,513.57 506.14,513.42 506.59,513.28 507.05,513.14 507.50,512.99 507.95,512.85 508.40,512.72 508.86,512.58 509.31,512.45 509.76,512.31 510.21,512.18 510.67,512.06 511.12,511.93 511.57,511.80 512.02,511.68 512.48,511.56 512.93,511.44 513.38,511.32 513.83,511.20 514.28,511.08 514.74,510.97 515.19,510.86 515.64,510.75 516.09,510.64 516.55,510.53 517.00,510.42 517.45,510.32 517.90,510.21 518.36,510.11 518.81,510.01 519.26,509.91 519.71,509.81 520.17,509.71 520.62,509.61 521.07,509.52 521.52,509.43 521.98,509.33 522.43,509.24 522.88,509.15 523.33,509.06 523.79,508.97 524.24,508.89 524.69,508.80 525.14,508.72 525.60,508.64 526.05,508.55 526.50,508.47 526.95,508.39 527.41,508.31 527.86,508.24 528.31,508.16 528.76,508.08 529.21,508.01 529.67,507.93 530.12,507.86 530.57,507.79 531.02,507.72 531.48,507.65 531.93,507.58 532.38,507.51 532.83,507.44 533.29,507.38 533.74,507.31 534.19,507.25 534.64,507.18 535.10,507.12 535.55,507.06 536.00,507.00 536.45,506.94 536.91,506.88 537.36,506.82 537.81,506.76 538.26,506.70 538.72,506.65 539.17,506.59 539.62,506.53 540.07,506.48 540.53,506.43 540.98,506.37 541.43,506.32 541.88,506.27 542.34,506.22 542.79,506.17 543.24,506.12 543.69,506.07 544.14,506.02 544.60,505.97 545.05,505.93 545.50,505.88 545.95,505.83 546.41,505.79 546.86,505.74 547.31,505.70 547.76,505.66 548.22,505.61 548.67,505.57 549.12,505.53 549.57,505.49 550.03,505.45 550.48,505.41 550.93,505.37 551.38,505.33 551.84,505.29 552.29,505.25 552.74,505.22 553.19,505.18 553.65,505.14 554.10,505.11 554.55,505.07 555.00,505.04 555.46,505.00 555.91,504.97 556.36,504.93 556.81,504.90 557.26,504.87 557.72,504.83 558.17,504.80 558.62,504.77 559.07,504.74 559.53,504.71 559.98,504.68 560.43,504.65 560.88,504.62 561.34,504.59 561.79,504.56 562.24,504.53 562.69,504.50 563.15,504.48 563.60,504.45 564.05,504.42 564.50,504.40 564.96,504.37 565.41,504.34 565.86,504.32 566.31,504.29 566.77,504.27 567.22,504.24 567.67,504.22 568.12,504.19 568.58,504.17 569.03,504.15 569.48,504.12 569.93,504.10 570.39,504.08 570.84,504.06 571.29,504.04 571.74,504.01 572.19,503.99 572.65,503.97 573.10,503.95 573.55,503.93 574.00,503.91 574.46,503.89 574.91,503.87 575.36,503.85 575.81,503.83 576.27,503.81 576.72,503.79 577.17,503.78 577.62,503.76 578.08,503.74 578.53,503.72 578.98,503.71 579.43,503.69 579.89,503.67 580.34,503.65 580.79,503.64 581.24,503.62 581.70,503.61 582.15,503.59 582.60,503.57 583.05,503.56 583.51,503.54 583.96,503.53 584.41,503.51 584.86,503.50 585.32,503.48 585.77,503.47 586.22,503.46 586.67,503.44 587.12,503.43 587.58,503.41 588.03,503.40 588.48,503.39 588.93,503.38 589.39,503.36 589.84,503.35 590.29,503.34 590.74,503.33 591.20,503.31 591.65,503.30 592.10,503.29 592.55,503.28 593.01,503.27 593.46,503.25 593.91,503.24 594.36,503.23 594.82,503.22 595.27,503.21 595.72,503.20 596.17,503.19 596.63,503.18 597.08,503.17 597.53,503.16 597.98,503.15 598.44,503.14 598.89,503.13 599.34,503.12 599.79,503.11 600.24,503.10 600.70,503.09 601.15,503.08 601.60,503.07 602.05,503.06 602.51,503.06 602.96,503.05 603.41,503.04 603.86,503.03 604.32,503.02 604.77,503.01 605.22,503.01 605.67,503.00 606.13,502.99 606.58,502.98 607.03,502.97 607.48,502.97 607.94,502.96 608.39,502.95 608.84,502.94 609.29,502.94 609.75,502.93 610.20,502.92 610.65,502.92 611.10,502.91 611.56,502.90 612.01,502.90 612.46,502.89 612.91,502.88 613.37,502.88 613.82,502.87 614.27,502.86 614.72,502.86 615.17,502.85 615.63,502.85 616.08,502.84 616.53,502.83 616.98,502.83 617.44,502.82 617.89,502.82 618.34,502.81 618.79,502.81 619.25,502.80 619.70,502.80 620.15,502.79 620.60,502.79 621.06,502.78 621.51,502.78 621.96,502.77 622.41,502.77 622.87,502.76 623.32,502.76 623.77,502.75 624.22,502.75 624.68,502.74 625.13,502.74 625.58,502.73 626.03,502.73 626.49,502.72 626.94,502.72 627.39,502.72 627.84,502.71 628.29,502.71 628.75,502.70 629.20,502.70 629.65,502.70 630.10,502.69 630.56,502.69 631.01,502.68 631.46,502.68 631.91,502.68 632.37,502.67 632.82,502.67 633.27,502.67 633.72,502.66 634.18,502.66 634.63,502.66 635.08,502.65 635.53,502.65 635.99,502.65 636.44,502.64 636.89,502.64 637.34,502.64 637.80,502.63 638.25,502.63 638.70,502.63 639.15,502.62 639.61,502.62 640.06,502.62 640.51,502.62 640.96,502.61 641.42,502.61 641.87,502.61 642.32,502.60 642.77,502.60 643.22,502.60 643.68,502.60 644.13,502.59 644.58,502.59 645.03,502.59 645.49,502.59 645.94,502.58 646.39,502.58 646.84,502.58 647.30,502.58 647.75,502.57 648.20,502.57 648.65,502.57 649.11,502.57 649.56,502.57 650.01,502.56 650.46,502.56 650.92,502.56 651.37,502.56 651.82,502.55 652.27,502.55 652.73,502.55 653.18,502.55 653.63,502.55 654.08,502.54 654.54,502.54 654.99,502.54 655.44,502.54 655.89,502.54 656.35,502.54 656.80,502.53 657.25,502.53 657.70,502.53 658.15,502.53 658.61,502.53 659.06,502.53 659.51,502.52 659.96,502.52 660.42,502.52 660.87,502.52 661.32,502.52 661.77,502.52 662.23,502.51 662.68,502.51 663.13,502.51 663.58,502.51 664.04,502.51 664.49,502.51 664.94,502.51 665.39,502.50 665.85,502.50 666.30,502.50 666.75,502.50 667.20,502.50 667.66,502.50 668.11,502.50 668.56,502.49 669.01,502.49 669.47,502.49 669.92,502.49 670.37,502.49 670.82,502.49 671.27,502.49 671.73,502.49 672.18,502.49 672.63,502.48 673.08,502.48 673.54,502.48 673.99,502.48 674.44,502.48 674.89,502.48 675.35,502.48 675.80,502.48 676.25,502.48 676.70,502.47 677.16,502.47 677.61,502.47 678.06,502.47 678.51,502.47 678.97,502.47 679.42,502.47 679.87,502.47 680.32,502.47 680.78,502.47 681.23,502.47 681.68,502.46 682.13,502.46 682.59,502.46 683.04,502.46 683.49,502.46 683.94,502.46 684.40,502.46 684.85,502.46 685.30,502.46" fill="none" stroke="#d62728" stroke-width="1.9" stroke-dasharray="5.9,2.6"/></g>
<line x1="414.3" y1="494.28" x2="414.3" y2="664.8" stroke="#111" stroke-width="1.1" stroke-linecap="square"/>
<line x1="414.3" y1="664.8" x2="685.3" y2="664.8" stroke="#111" stroke-width="1.1" stroke-linecap="square"/>
<line x1="410.3" y1="664.8" x2="414.3" y2="664.8" stroke="#111" stroke-width="1.0"/>
<text x="406.0" y="669.0" text-anchor="end" font-size="11.0">0.0</text>
<line x1="410.3" y1="632.3199999999999" x2="414.3" y2="632.3199999999999" stroke="#111" stroke-width="1.0"/>
<text x="406.0" y="636.52" text-anchor="end" font-size="11.0">0.2</text>
<line x1="410.3" y1="599.8399999999999" x2="414.3" y2="599.8399999999999" stroke="#111" stroke-width="1.0"/>
<text x="406.0" y="604.04" text-anchor="end" font-size="11.0">0.4</text>
<line x1="410.3" y1="567.3599999999999" x2="414.3" y2="567.3599999999999" stroke="#111" stroke-width="1.0"/>
<text x="406.0" y="571.56" text-anchor="end" font-size="11.0">0.6</text>
<line x1="410.3" y1="534.8799999999999" x2="414.3" y2="534.8799999999999" stroke="#111" stroke-width="1.0"/>
<text x="406.0" y="539.0799999999999" text-anchor="end" font-size="11.0">0.8</text>
<line x1="410.3" y1="502.4" x2="414.3" y2="502.4" stroke="#111" stroke-width="1.0"/>
<text x="406.0" y="506.59999999999997" text-anchor="end" font-size="11.0"><tspan class="o">1</tspan>.0</text>
<line x1="414.3" y1="664.8" x2="414.3" y2="668.4" stroke="#111" stroke-width="1.0"/>
<text x="414.3" y="679.4" text-anchor="middle" font-size="11.0">0.0</text>
<line x1="449.86430446194225" y1="664.8" x2="449.86430446194225" y2="668.4" stroke="#111" stroke-width="1.0"/>
<text x="449.86430446194225" y="679.4" text-anchor="middle" font-size="11.0">2.5</text>
<line x1="485.42860892388455" y1="664.8" x2="485.42860892388455" y2="668.4" stroke="#111" stroke-width="1.0"/>
<text x="485.42860892388455" y="679.4" text-anchor="middle" font-size="11.0">5.0</text>
<line x1="520.9929133858268" y1="664.8" x2="520.9929133858268" y2="668.4" stroke="#111" stroke-width="1.0"/>
<text x="520.9929133858268" y="679.4" text-anchor="middle" font-size="11.0">7.5</text>
<line x1="556.557217847769" y1="664.8" x2="556.557217847769" y2="668.4" stroke="#111" stroke-width="1.0"/>
<text x="556.557217847769" y="679.4" text-anchor="middle" font-size="11.0"><tspan class="o">1</tspan>0.0</text>
<line x1="592.1215223097113" y1="664.8" x2="592.1215223097113" y2="668.4" stroke="#111" stroke-width="1.0"/>
<text x="592.1215223097113" y="679.4" text-anchor="middle" font-size="11.0"><tspan class="o">1</tspan>2.5</text>
<line x1="627.6858267716535" y1="664.8" x2="627.6858267716535" y2="668.4" stroke="#111" stroke-width="1.0"/>
<text x="627.6858267716535" y="679.4" text-anchor="middle" font-size="11.0"><tspan class="o">1</tspan>5.0</text>
<line x1="663.2501312335958" y1="664.8" x2="663.2501312335958" y2="668.4" stroke="#111" stroke-width="1.0"/>
<text x="663.2501312335958" y="679.4" text-anchor="middle" font-size="11.0"><tspan class="o">1</tspan>7.5</text>
<text x="671.5" y="517.8" text-anchor="middle" font-size="11.6" font-weight="bold" style="stroke-width:0">(f)</text>
<text transform="translate(61.3,171.09000000000003) rotate(-90)" text-anchor="middle" font-size="10.6">SymuVia</text>
<text transform="translate(61.3,375.29) rotate(-90)" text-anchor="middle" font-size="10.6">Aimsun</text>
<text transform="translate(61.3,579.54) rotate(-90)" text-anchor="middle" font-size="10.6">SUMO</text>
<text y="78.6" font-size="13.0"><tspan x="184.40" font-style="italic" font-size="13.5">λ</tspan><tspan x="208.00">500 veh/h</tspan></text>
<path d="M195.80 73.5H204.00M195.80 75.9H204.00" stroke="#000" stroke-width="1.15"/>
<text y="78.6" font-size="13.0"><tspan x="505.30" font-style="italic" font-size="13.5">λ</tspan><tspan x="528.90"><tspan class="o">1</tspan>500 veh/h</tspan></text>
<path d="M516.70 73.5H524.90M516.70 75.9H524.90" stroke="#000" stroke-width="1.15"/>
<text transform="translate(29.2,376.8) rotate(-90)" text-anchor="middle" font-size="12.8">headway cumulative frequency</text>
<text x="377.5" y="710.1" text-anchor="middle" font-size="12.8">headway values (s)</text>
<line x1="1" y1="6.8" x2="22.5" y2="6.8" stroke="#2ca02c" stroke-width="1.9" stroke-dasharray="5.9,2.6"/>
<line x1="1" y1="23.9" x2="22.5" y2="23.9" stroke="#d62728" stroke-width="1.9" stroke-dasharray="5.9,2.6"/>
<rect x="0.5" y="35.3" width="21.5" height="7.2" fill="none" stroke="#1f77b4" stroke-width="2"/>
<rect x="0.5" y="50.6" width="21.5" height="7.2" fill="none" stroke="#ff7f0e" stroke-width="2"/>
<text y="9.9" font-size="11.8" font-style="italic" x="30.5">t</text><path d="M37.9 4.2V8.6M37.9 6.25H51.6M48.9 4.1Q50 5.6 52 6.25Q50 6.9 48.9 8.7" fill="none" stroke="#000" stroke-width="1.1"/><path d="M55.3 9.35H59.9M57.6 9.5V2.2L55.4 3.3" fill="none" stroke="#000" stroke-width="1.15"/><path d="M63.8 6.4H71" stroke="#000" stroke-width="1.0"/><text y="9.9" font-size="11.0" x="74.2">e</text><text y="5.2" font-size="8.2"><tspan x="80.6" font-style="italic">λ</tspan><tspan x="85.4">(</tspan><tspan x="87.9">1</tspan><tspan x="92.2">/</tspan><tspan x="95.1" font-style="italic">q</tspan><tspan x="99.9" y="6.6" font-size="6.2" font-style="italic">x</tspan><tspan x="112.4" y="5.2" font-style="italic">t</tspan><tspan x="115.9">)</tspan></text><path d="M105.4 3.9H109.7" stroke="#000" stroke-width="0.9"/>
<text y="26.9" font-size="11.8" font-style="italic" x="30.5">t</text><path d="M37.9 21.2V25.6M37.9 23.25H51.6M48.9 21.1Q50 22.6 52 23.25Q50 23.9 48.9 25.7" fill="none" stroke="#000" stroke-width="1.1"/><path d="M55.3 26.35H59.9M57.6 26.5V19.2L55.4 20.3" fill="none" stroke="#000" stroke-width="1.15"/><path d="M63.8 23.4H71" stroke="#000" stroke-width="1.0"/><text y="26.9" font-size="11.0" x="74.2">e</text><text y="22.7" font-size="8.2"><tspan x="85.8" font-style="italic">λ</tspan><tspan x="90.5" font-style="italic">t</tspan></text><path d="M81.6 20.1H85.7" stroke="#000" stroke-width="0.9"/>
<text x="30.8" y="42.8" font-size="10.6">sensor at <tspan class="o">1</tspan>5 m</text>
<text x="30.8" y="57.0" font-size="10.6">sensor at <tspan class="o">1</tspan><tspan class="o">1</tspan>0 m</text>
<g fill="#000" stroke="#000" stroke-width="0.22" style="vector-effect:non-scaling-stroke"><path vector-effect="non-scaling-stroke" d="M515 0V1237L197 1010V1180L530 1409H696V0Z" transform="translate(66.89,98.15) scale(0.005371,-0.005371)"/><path vector-effect="non-scaling-stroke" d="M515 0V1237L197 1010V1180L530 1409H696V0Z" transform="translate(131.58,270.95) scale(0.005371,-0.005371)"/><path vector-effect="non-scaling-stroke" d="M515 0V1237L197 1010V1180L530 1409H696V0Z" transform="translate(390.69,98.15) scale(0.005371,-0.005371)"/><path vector-effect="non-scaling-stroke" d="M515 0V1237L197 1010V1180L530 1409H696V0Z" transform="translate(545.85,270.95) scale(0.005371,-0.005371)"/><path vector-effect="non-scaling-stroke" d="M515 0V1237L197 1010V1180L530 1409H696V0Z" transform="translate(581.41,270.95) scale(0.005371,-0.005371)"/><path vector-effect="non-scaling-stroke" d="M515 0V1237L197 1010V1180L530 1409H696V0Z" transform="translate(616.97,270.95) scale(0.005371,-0.005371)"/><path vector-effect="non-scaling-stroke" d="M515 0V1237L197 1010V1180L530 1409H696V0Z" transform="translate(652.54,270.95) scale(0.005371,-0.005371)"/><path vector-effect="non-scaling-stroke" d="M515 0V1237L197 1010V1180L530 1409H696V0Z" transform="translate(66.89,302.35) scale(0.005371,-0.005371)"/><path vector-effect="non-scaling-stroke" d="M515 0V1237L197 1010V1180L530 1409H696V0Z" transform="translate(131.58,475.15) scale(0.005371,-0.005371)"/><path vector-effect="non-scaling-stroke" d="M515 0V1237L197 1010V1180L530 1409H696V0Z" transform="translate(390.69,302.35) scale(0.005371,-0.005371)"/><path vector-effect="non-scaling-stroke" d="M515 0V1237L197 1010V1180L530 1409H696V0Z" transform="translate(545.85,475.15) scale(0.005371,-0.005371)"/><path vector-effect="non-scaling-stroke" d="M515 0V1237L197 1010V1180L530 1409H696V0Z" transform="translate(581.41,475.15) scale(0.005371,-0.005371)"/><path vector-effect="non-scaling-stroke" d="M515 0V1237L197 1010V1180L530 1409H696V0Z" transform="translate(616.97,475.15) scale(0.005371,-0.005371)"/><path vector-effect="non-scaling-stroke" d="M515 0V1237L197 1010V1180L530 1409H696V0Z" transform="translate(652.54,475.15) scale(0.005371,-0.005371)"/><path vector-effect="non-scaling-stroke" d="M515 0V1237L197 1010V1180L530 1409H696V0Z" transform="translate(66.89,506.60) scale(0.005371,-0.005371)"/><path vector-effect="non-scaling-stroke" d="M515 0V1237L197 1010V1180L530 1409H696V0Z" transform="translate(131.58,679.40) scale(0.005371,-0.005371)"/><path vector-effect="non-scaling-stroke" d="M515 0V1237L197 1010V1180L530 1409H696V0Z" transform="translate(390.69,506.60) scale(0.005371,-0.005371)"/><path vector-effect="non-scaling-stroke" d="M515 0V1237L197 1010V1180L530 1409H696V0Z" transform="translate(545.85,679.40) scale(0.005371,-0.005371)"/><path vector-effect="non-scaling-stroke" d="M515 0V1237L197 1010V1180L530 1409H696V0Z" transform="translate(581.41,679.40) scale(0.005371,-0.005371)"/><path vector-effect="non-scaling-stroke" d="M515 0V1237L197 1010V1180L530 1409H696V0Z" transform="translate(616.97,679.40) scale(0.005371,-0.005371)"/><path vector-effect="non-scaling-stroke" d="M515 0V1237L197 1010V1180L530 1409H696V0Z" transform="translate(652.54,679.40) scale(0.005371,-0.005371)"/><path vector-effect="non-scaling-stroke" d="M515 0V1237L197 1010V1180L530 1409H696V0Z" transform="translate(528.90,78.60) scale(0.006348,-0.006348)"/><path vector-effect="non-scaling-stroke" d="M515 0V1237L197 1010V1180L530 1409H696V0Z" transform="translate(77.33,42.80) scale(0.005176,-0.005176)"/><path vector-effect="non-scaling-stroke" d="M515 0V1237L197 1010V1180L530 1409H696V0Z" transform="translate(77.33,57.00) scale(0.005176,-0.005176)"/><path vector-effect="non-scaling-stroke" d="M515 0V1237L197 1010V1180L530 1409H696V0Z" transform="translate(82.44,57.00) scale(0.005176,-0.005176)"/></g></svg>
</body></html>
